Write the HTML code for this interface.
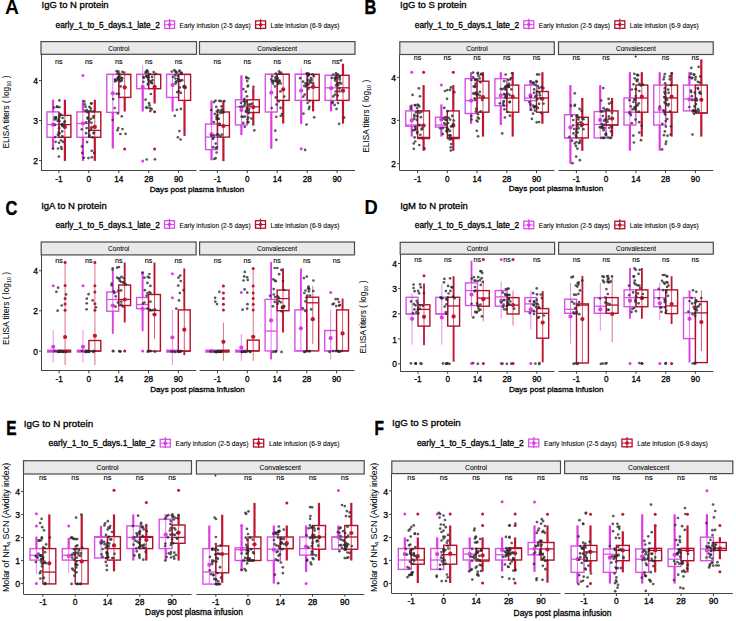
<!DOCTYPE html>
<html><head><meta charset="utf-8"><style>
html,body{margin:0;padding:0;background:#fff;}
svg{display:block;font-family:"Liberation Sans",sans-serif;}
</style></head><body>
<svg width="736" height="621" viewBox="0 0 736 621">
<rect width="736" height="621" fill="#fff"/>
<text transform="translate(5.00,14.30) scale(1.0,1)" font-size="19.3" font-weight="bold" fill="#000" stroke="#000" stroke-width="0.00">A</text>
<text x="41.6" y="8.4" font-size="9.50" text-anchor="start" font-weight="normal" fill="#000" stroke="#000" stroke-width="0.30" >IgG to N protein</text>
<text x="55.6" y="27.7" font-size="8.30" text-anchor="start" font-weight="normal" fill="#000" stroke="#000" stroke-width="0.30" >early_1_to_5_days.1_late_2</text>
<rect x="164.6" y="20.9" width="10.0" height="7.5" fill="none" stroke="#d652e6" stroke-width="1.3"/>
<line x1="164.6" y1="24.7" x2="174.6" y2="24.7" stroke="#d652e6" stroke-width="1" stroke-opacity="1"/>
<line x1="169.6" y1="18.9" x2="169.6" y2="29.5" stroke="#dc3ce4" stroke-width="1.2" stroke-opacity="1"/>
<circle cx="169.6" cy="24.7" r="1.8" fill="#dc3ce4" fill-opacity="1"/>
<text x="179.6" y="27.7" font-size="6.60" text-anchor="start" font-weight="normal" fill="#000" stroke="#000" stroke-width="0.08" >Early infusion (2-5 days)</text>
<rect x="255.6" y="20.9" width="10.0" height="7.5" fill="none" stroke="#b0102c" stroke-width="1.3"/>
<line x1="255.6" y1="24.7" x2="265.6" y2="24.7" stroke="#b0102c" stroke-width="1" stroke-opacity="1"/>
<line x1="260.6" y1="18.9" x2="260.6" y2="29.5" stroke="#c01430" stroke-width="1.2" stroke-opacity="1"/>
<circle cx="260.6" cy="24.7" r="1.8" fill="#c01430" fill-opacity="1"/>
<text x="270.6" y="27.7" font-size="6.60" text-anchor="start" font-weight="normal" fill="#000" stroke="#000" stroke-width="0.08" >Late infusion (6-9 days)</text>
<rect x="41.0" y="41.6" width="155.5" height="12.7" fill="#e9e9e9" stroke="#4a4a4a" stroke-width="1.2"/>
<text x="118.8" y="50.6" font-size="6.60" text-anchor="middle" font-weight="normal" fill="#000" stroke="#000" stroke-width="0.06" >Control</text>
<line x1="41.0" y1="170.5" x2="196.5" y2="170.5" stroke="#444" stroke-width="1.0" stroke-opacity="1"/>
<rect x="199.5" y="41.6" width="155.5" height="12.7" fill="#e9e9e9" stroke="#4a4a4a" stroke-width="1.2"/>
<text x="277.2" y="50.6" font-size="6.60" text-anchor="middle" font-weight="normal" fill="#000" stroke="#000" stroke-width="0.06" >Convalescent</text>
<line x1="199.5" y1="170.5" x2="355.0" y2="170.5" stroke="#444" stroke-width="1.0" stroke-opacity="1"/>
<line x1="41.5" y1="54.3" x2="41.5" y2="170.5" stroke="#444" stroke-width="1.0" stroke-opacity="1"/>
<line x1="39.0" y1="80.6" x2="41.5" y2="80.6" stroke="#444" stroke-width="1.0" stroke-opacity="1"/>
<text x="38.0" y="84.2" font-size="8.40" text-anchor="end" font-weight="normal" fill="#000" stroke="#000" stroke-width="0.30" >4</text>
<line x1="39.0" y1="120.5" x2="41.5" y2="120.5" stroke="#444" stroke-width="1.0" stroke-opacity="1"/>
<text x="38.0" y="124.1" font-size="8.40" text-anchor="end" font-weight="normal" fill="#000" stroke="#000" stroke-width="0.30" >3</text>
<line x1="39.0" y1="160.5" x2="41.5" y2="160.5" stroke="#444" stroke-width="1.0" stroke-opacity="1"/>
<text x="38.0" y="164.1" font-size="8.40" text-anchor="end" font-weight="normal" fill="#000" stroke="#000" stroke-width="0.30" >2</text>
<text transform="translate(8.6,112.1) rotate(-90)" font-size="8.30" text-anchor="middle" fill="#000" stroke="#000" stroke-width="0.05">ELISA titers ( log<tspan font-size="5.5" dy="2">10</tspan><tspan dy="-2"> )</tspan></text>
<text x="197.0" y="191.5" font-size="8.10" text-anchor="middle" font-weight="normal" fill="#000" stroke="#000" stroke-width="0.30" >Days post plasma infusion</text>
<line x1="58.9" y1="170.5" x2="58.9" y2="173.0" stroke="#3a3a3a" stroke-width="1.0" stroke-opacity="1"/>
<text x="58.9" y="181.6" font-size="8.20" text-anchor="middle" font-weight="normal" fill="#000" stroke="#000" stroke-width="0.30" >-1</text>
<text x="58.9" y="63.5" font-size="7.20" text-anchor="middle" font-weight="normal" fill="#000" stroke="#000" stroke-width="0.12" >ns</text>
<line x1="88.8" y1="170.5" x2="88.8" y2="173.0" stroke="#3a3a3a" stroke-width="1.0" stroke-opacity="1"/>
<text x="88.8" y="181.6" font-size="8.20" text-anchor="middle" font-weight="normal" fill="#000" stroke="#000" stroke-width="0.30" >0</text>
<text x="88.8" y="63.5" font-size="7.20" text-anchor="middle" font-weight="normal" fill="#000" stroke="#000" stroke-width="0.12" >ns</text>
<line x1="118.8" y1="170.5" x2="118.8" y2="173.0" stroke="#3a3a3a" stroke-width="1.0" stroke-opacity="1"/>
<text x="118.8" y="181.6" font-size="8.20" text-anchor="middle" font-weight="normal" fill="#000" stroke="#000" stroke-width="0.30" >14</text>
<text x="118.8" y="63.5" font-size="7.20" text-anchor="middle" font-weight="normal" fill="#000" stroke="#000" stroke-width="0.12" >ns</text>
<line x1="148.7" y1="170.5" x2="148.7" y2="173.0" stroke="#3a3a3a" stroke-width="1.0" stroke-opacity="1"/>
<text x="148.7" y="181.6" font-size="8.20" text-anchor="middle" font-weight="normal" fill="#000" stroke="#000" stroke-width="0.30" >28</text>
<text x="148.7" y="63.5" font-size="7.20" text-anchor="middle" font-weight="normal" fill="#000" stroke="#000" stroke-width="0.12" >ns</text>
<line x1="178.6" y1="170.5" x2="178.6" y2="173.0" stroke="#3a3a3a" stroke-width="1.0" stroke-opacity="1"/>
<text x="178.6" y="181.6" font-size="8.20" text-anchor="middle" font-weight="normal" fill="#000" stroke="#000" stroke-width="0.30" >90</text>
<text x="178.6" y="63.5" font-size="7.20" text-anchor="middle" font-weight="normal" fill="#000" stroke="#000" stroke-width="0.12" >ns</text>
<line x1="217.4" y1="170.5" x2="217.4" y2="173.0" stroke="#3a3a3a" stroke-width="1.0" stroke-opacity="1"/>
<text x="217.4" y="181.6" font-size="8.20" text-anchor="middle" font-weight="normal" fill="#000" stroke="#000" stroke-width="0.30" >-1</text>
<text x="217.4" y="63.5" font-size="7.20" text-anchor="middle" font-weight="normal" fill="#000" stroke="#000" stroke-width="0.12" >ns</text>
<line x1="247.3" y1="170.5" x2="247.3" y2="173.0" stroke="#3a3a3a" stroke-width="1.0" stroke-opacity="1"/>
<text x="247.3" y="181.6" font-size="8.20" text-anchor="middle" font-weight="normal" fill="#000" stroke="#000" stroke-width="0.30" >0</text>
<text x="247.3" y="63.5" font-size="7.20" text-anchor="middle" font-weight="normal" fill="#000" stroke="#000" stroke-width="0.12" >ns</text>
<line x1="277.2" y1="170.5" x2="277.2" y2="173.0" stroke="#3a3a3a" stroke-width="1.0" stroke-opacity="1"/>
<text x="277.2" y="181.6" font-size="8.20" text-anchor="middle" font-weight="normal" fill="#000" stroke="#000" stroke-width="0.30" >14</text>
<text x="277.2" y="63.5" font-size="7.20" text-anchor="middle" font-weight="normal" fill="#000" stroke="#000" stroke-width="0.12" >ns</text>
<line x1="307.2" y1="170.5" x2="307.2" y2="173.0" stroke="#3a3a3a" stroke-width="1.0" stroke-opacity="1"/>
<text x="307.2" y="181.6" font-size="8.20" text-anchor="middle" font-weight="normal" fill="#000" stroke="#000" stroke-width="0.30" >28</text>
<text x="307.2" y="63.5" font-size="7.20" text-anchor="middle" font-weight="normal" fill="#000" stroke="#000" stroke-width="0.12" >ns</text>
<line x1="337.1" y1="170.5" x2="337.1" y2="173.0" stroke="#3a3a3a" stroke-width="1.0" stroke-opacity="1"/>
<text x="337.1" y="181.6" font-size="8.20" text-anchor="middle" font-weight="normal" fill="#000" stroke="#000" stroke-width="0.30" >90</text>
<text x="337.1" y="63.5" font-size="7.20" text-anchor="middle" font-weight="normal" fill="#000" stroke="#000" stroke-width="0.12" >ns*</text>
<rect x="47.0" y="111.9" width="12.0" height="25.4" fill="none" stroke="#d652e6" stroke-width="1.4"/>
<line x1="47.0" y1="124.6" x2="58.9" y2="124.6" stroke="#d652e6" stroke-width="1.3" stroke-opacity="1"/>
<line x1="53.0" y1="99.7" x2="53.0" y2="111.9" stroke="#dc3ce4" stroke-width="2.2" stroke-opacity="1"/>
<line x1="53.0" y1="137.3" x2="53.0" y2="148.9" stroke="#dc3ce4" stroke-width="2.2" stroke-opacity="1"/>
<line x1="53.0" y1="111.9" x2="53.0" y2="137.3" stroke="#dc3ce4" stroke-width="1.0" stroke-opacity="0.7"/>
<circle cx="53.0" cy="124.6" r="2.1" fill="#dc3ce4" fill-opacity="1"/>
<rect x="58.9" y="115.4" width="12.0" height="21.9" fill="none" stroke="#b0102c" stroke-width="1.4"/>
<line x1="58.9" y1="124.6" x2="70.9" y2="124.6" stroke="#b0102c" stroke-width="1.3" stroke-opacity="1"/>
<line x1="64.9" y1="99.7" x2="64.9" y2="115.4" stroke="#c01430" stroke-width="2.2" stroke-opacity="1"/>
<line x1="64.9" y1="137.3" x2="64.9" y2="160.9" stroke="#c01430" stroke-width="2.2" stroke-opacity="1"/>
<line x1="64.9" y1="115.4" x2="64.9" y2="137.3" stroke="#c01430" stroke-width="1.0" stroke-opacity="0.7"/>
<circle cx="64.9" cy="126.9" r="2.1" fill="#c01430" fill-opacity="1"/>
<rect x="76.9" y="111.9" width="12.0" height="25.4" fill="none" stroke="#d652e6" stroke-width="1.4"/>
<line x1="76.9" y1="123.5" x2="88.8" y2="123.5" stroke="#d652e6" stroke-width="1.3" stroke-opacity="1"/>
<line x1="82.9" y1="99.7" x2="82.9" y2="111.9" stroke="#dc3ce4" stroke-width="2.2" stroke-opacity="1"/>
<line x1="82.9" y1="137.3" x2="82.9" y2="160.9" stroke="#dc3ce4" stroke-width="2.2" stroke-opacity="1"/>
<line x1="82.9" y1="111.9" x2="82.9" y2="137.3" stroke="#dc3ce4" stroke-width="1.0" stroke-opacity="0.7"/>
<circle cx="82.9" cy="123.5" r="2.1" fill="#dc3ce4" fill-opacity="1"/>
<circle cx="82.9" cy="75.5" r="1.5" fill="#dc3ce4" fill-opacity="1"/>
<rect x="88.8" y="111.9" width="12.0" height="25.4" fill="none" stroke="#b0102c" stroke-width="1.4"/>
<line x1="88.8" y1="130.4" x2="100.8" y2="130.4" stroke="#b0102c" stroke-width="1.3" stroke-opacity="1"/>
<line x1="94.8" y1="99.7" x2="94.8" y2="111.9" stroke="#c01430" stroke-width="2.2" stroke-opacity="1"/>
<line x1="94.8" y1="137.3" x2="94.8" y2="160.9" stroke="#c01430" stroke-width="2.2" stroke-opacity="1"/>
<line x1="94.8" y1="111.9" x2="94.8" y2="137.3" stroke="#c01430" stroke-width="1.0" stroke-opacity="0.7"/>
<circle cx="94.8" cy="126.9" r="2.1" fill="#c01430" fill-opacity="1"/>
<rect x="106.8" y="74.4" width="12.0" height="38.0" fill="none" stroke="#d652e6" stroke-width="1.4"/>
<line x1="106.8" y1="74.4" x2="118.8" y2="74.4" stroke="#d652e6" stroke-width="1.3" stroke-opacity="1"/>
<line x1="112.8" y1="112.4" x2="112.8" y2="148.5" stroke="#dc3ce4" stroke-width="2.2" stroke-opacity="1"/>
<line x1="112.8" y1="74.4" x2="112.8" y2="112.4" stroke="#dc3ce4" stroke-width="1.0" stroke-opacity="0.7"/>
<circle cx="112.8" cy="93.3" r="2.1" fill="#dc3ce4" fill-opacity="1"/>
<rect x="118.8" y="74.4" width="12.0" height="23.0" fill="none" stroke="#b0102c" stroke-width="1.4"/>
<line x1="118.8" y1="74.4" x2="130.7" y2="74.4" stroke="#b0102c" stroke-width="1.3" stroke-opacity="1"/>
<line x1="124.7" y1="97.4" x2="124.7" y2="111.5" stroke="#c01430" stroke-width="2.2" stroke-opacity="1"/>
<line x1="124.7" y1="74.4" x2="124.7" y2="97.4" stroke="#c01430" stroke-width="1.0" stroke-opacity="0.7"/>
<circle cx="124.7" cy="87.4" r="2.1" fill="#c01430" fill-opacity="1"/>
<circle cx="124.7" cy="148.9" r="1.5" fill="#c01430" fill-opacity="1"/>
<rect x="136.7" y="74.4" width="12.0" height="14.3" fill="none" stroke="#d652e6" stroke-width="1.4"/>
<line x1="136.7" y1="74.4" x2="148.7" y2="74.4" stroke="#d652e6" stroke-width="1.3" stroke-opacity="1"/>
<line x1="142.7" y1="65.5" x2="142.7" y2="74.4" stroke="#dc3ce4" stroke-width="1.0" stroke-opacity="0.6"/>
<line x1="142.7" y1="88.7" x2="142.7" y2="111.5" stroke="#dc3ce4" stroke-width="2.2" stroke-opacity="1"/>
<line x1="142.7" y1="74.4" x2="142.7" y2="88.7" stroke="#dc3ce4" stroke-width="1.0" stroke-opacity="0.7"/>
<circle cx="142.7" cy="86.9" r="2.1" fill="#dc3ce4" fill-opacity="1"/>
<circle cx="142.7" cy="161.0" r="1.5" fill="#dc3ce4" fill-opacity="1"/>
<rect x="148.7" y="74.4" width="12.0" height="14.3" fill="none" stroke="#b0102c" stroke-width="1.4"/>
<line x1="148.7" y1="74.4" x2="160.6" y2="74.4" stroke="#b0102c" stroke-width="1.3" stroke-opacity="1"/>
<line x1="154.6" y1="88.7" x2="154.6" y2="103.5" stroke="#c01430" stroke-width="2.2" stroke-opacity="1"/>
<line x1="154.6" y1="74.4" x2="154.6" y2="88.7" stroke="#c01430" stroke-width="1.0" stroke-opacity="0.7"/>
<circle cx="154.6" cy="86.9" r="2.1" fill="#c01430" fill-opacity="1"/>
<circle cx="154.6" cy="111.8" r="1.5" fill="#c01430" fill-opacity="1"/>
<circle cx="154.6" cy="148.9" r="1.5" fill="#c01430" fill-opacity="1"/>
<rect x="166.6" y="74.4" width="12.0" height="23.0" fill="none" stroke="#d652e6" stroke-width="1.4"/>
<line x1="166.6" y1="74.4" x2="178.6" y2="74.4" stroke="#d652e6" stroke-width="1.3" stroke-opacity="1"/>
<line x1="172.6" y1="97.4" x2="172.6" y2="111.5" stroke="#dc3ce4" stroke-width="2.2" stroke-opacity="1"/>
<line x1="172.6" y1="74.4" x2="172.6" y2="97.4" stroke="#dc3ce4" stroke-width="1.0" stroke-opacity="0.7"/>
<circle cx="172.6" cy="85.0" r="2.1" fill="#dc3ce4" fill-opacity="1"/>
<rect x="178.6" y="74.4" width="12.0" height="26.0" fill="none" stroke="#b0102c" stroke-width="1.4"/>
<line x1="178.6" y1="74.4" x2="190.5" y2="74.4" stroke="#b0102c" stroke-width="1.3" stroke-opacity="1"/>
<line x1="184.5" y1="100.4" x2="184.5" y2="135.9" stroke="#c01430" stroke-width="2.2" stroke-opacity="1"/>
<line x1="184.5" y1="74.4" x2="184.5" y2="100.4" stroke="#c01430" stroke-width="1.0" stroke-opacity="0.7"/>
<circle cx="184.5" cy="86.9" r="2.1" fill="#c01430" fill-opacity="1"/>
<rect x="205.5" y="124.1" width="12.0" height="25.5" fill="none" stroke="#d652e6" stroke-width="1.4"/>
<line x1="205.5" y1="137.1" x2="217.4" y2="137.1" stroke="#d652e6" stroke-width="1.3" stroke-opacity="1"/>
<line x1="211.5" y1="100.4" x2="211.5" y2="124.1" stroke="#dc3ce4" stroke-width="2.2" stroke-opacity="1"/>
<line x1="211.5" y1="149.6" x2="211.5" y2="160.3" stroke="#dc3ce4" stroke-width="2.2" stroke-opacity="1"/>
<line x1="211.5" y1="124.1" x2="211.5" y2="149.6" stroke="#dc3ce4" stroke-width="1.0" stroke-opacity="0.7"/>
<circle cx="211.5" cy="134.2" r="2.1" fill="#dc3ce4" fill-opacity="1"/>
<rect x="217.4" y="112.0" width="12.0" height="25.1" fill="none" stroke="#b0102c" stroke-width="1.4"/>
<line x1="217.4" y1="125.5" x2="229.4" y2="125.5" stroke="#b0102c" stroke-width="1.3" stroke-opacity="1"/>
<line x1="223.4" y1="100.4" x2="223.4" y2="112.0" stroke="#c01430" stroke-width="2.2" stroke-opacity="1"/>
<line x1="223.4" y1="137.1" x2="223.4" y2="161.2" stroke="#c01430" stroke-width="2.2" stroke-opacity="1"/>
<line x1="223.4" y1="112.0" x2="223.4" y2="137.1" stroke="#c01430" stroke-width="1.0" stroke-opacity="0.7"/>
<circle cx="223.4" cy="126.0" r="2.1" fill="#c01430" fill-opacity="1"/>
<rect x="235.4" y="99.8" width="12.0" height="25.1" fill="none" stroke="#d652e6" stroke-width="1.4"/>
<line x1="235.4" y1="106.8" x2="247.3" y2="106.8" stroke="#d652e6" stroke-width="1.3" stroke-opacity="1"/>
<line x1="241.4" y1="75.3" x2="241.4" y2="99.8" stroke="#dc3ce4" stroke-width="2.2" stroke-opacity="1"/>
<line x1="241.4" y1="124.9" x2="241.4" y2="135.1" stroke="#dc3ce4" stroke-width="2.2" stroke-opacity="1"/>
<line x1="241.4" y1="99.8" x2="241.4" y2="124.9" stroke="#dc3ce4" stroke-width="1.0" stroke-opacity="0.7"/>
<circle cx="241.4" cy="110.0" r="2.1" fill="#dc3ce4" fill-opacity="1"/>
<rect x="247.3" y="99.8" width="12.0" height="12.7" fill="none" stroke="#b0102c" stroke-width="1.4"/>
<line x1="247.3" y1="106.8" x2="259.3" y2="106.8" stroke="#b0102c" stroke-width="1.3" stroke-opacity="1"/>
<line x1="253.3" y1="88.2" x2="253.3" y2="99.8" stroke="#c01430" stroke-width="2.2" stroke-opacity="1"/>
<line x1="253.3" y1="112.5" x2="253.3" y2="123.6" stroke="#c01430" stroke-width="2.2" stroke-opacity="1"/>
<line x1="253.3" y1="99.8" x2="253.3" y2="112.5" stroke="#c01430" stroke-width="1.0" stroke-opacity="0.7"/>
<circle cx="253.3" cy="107.1" r="2.1" fill="#c01430" fill-opacity="1"/>
<rect x="265.3" y="74.3" width="12.0" height="37.7" fill="none" stroke="#d652e6" stroke-width="1.4"/>
<line x1="265.3" y1="74.3" x2="277.2" y2="74.3" stroke="#d652e6" stroke-width="1.3" stroke-opacity="1"/>
<line x1="271.3" y1="112.0" x2="271.3" y2="148.7" stroke="#dc3ce4" stroke-width="2.2" stroke-opacity="1"/>
<line x1="271.3" y1="74.3" x2="271.3" y2="112.0" stroke="#dc3ce4" stroke-width="1.0" stroke-opacity="0.7"/>
<circle cx="271.3" cy="92.7" r="2.1" fill="#dc3ce4" fill-opacity="1"/>
<rect x="277.2" y="74.3" width="12.0" height="26.1" fill="none" stroke="#b0102c" stroke-width="1.4"/>
<line x1="277.2" y1="74.3" x2="289.2" y2="74.3" stroke="#b0102c" stroke-width="1.3" stroke-opacity="1"/>
<line x1="283.2" y1="100.4" x2="283.2" y2="123.6" stroke="#c01430" stroke-width="2.2" stroke-opacity="1"/>
<line x1="283.2" y1="74.3" x2="283.2" y2="100.4" stroke="#c01430" stroke-width="1.0" stroke-opacity="0.7"/>
<circle cx="283.2" cy="89.4" r="2.1" fill="#c01430" fill-opacity="1"/>
<rect x="295.2" y="74.3" width="12.0" height="26.1" fill="none" stroke="#d652e6" stroke-width="1.4"/>
<line x1="295.2" y1="74.3" x2="307.2" y2="74.3" stroke="#d652e6" stroke-width="1.3" stroke-opacity="1"/>
<line x1="301.2" y1="67.5" x2="301.2" y2="74.3" stroke="#dc3ce4" stroke-width="1.0" stroke-opacity="0.6"/>
<line x1="301.2" y1="100.4" x2="301.2" y2="124.1" stroke="#dc3ce4" stroke-width="2.2" stroke-opacity="1"/>
<line x1="301.2" y1="74.3" x2="301.2" y2="100.4" stroke="#dc3ce4" stroke-width="1.0" stroke-opacity="0.7"/>
<circle cx="301.2" cy="90.7" r="2.1" fill="#dc3ce4" fill-opacity="1"/>
<circle cx="301.2" cy="148.7" r="1.5" fill="#dc3ce4" fill-opacity="1"/>
<rect x="307.2" y="74.3" width="12.0" height="26.1" fill="none" stroke="#b0102c" stroke-width="1.4"/>
<line x1="307.2" y1="87.4" x2="319.1" y2="87.4" stroke="#b0102c" stroke-width="1.3" stroke-opacity="1"/>
<line x1="313.1" y1="100.4" x2="313.1" y2="111.4" stroke="#c01430" stroke-width="2.2" stroke-opacity="1"/>
<line x1="313.1" y1="74.3" x2="313.1" y2="100.4" stroke="#c01430" stroke-width="1.0" stroke-opacity="0.7"/>
<circle cx="313.1" cy="86.9" r="2.1" fill="#c01430" fill-opacity="1"/>
<rect x="325.1" y="75.3" width="12.0" height="25.1" fill="none" stroke="#d652e6" stroke-width="1.4"/>
<line x1="325.1" y1="87.8" x2="337.1" y2="87.8" stroke="#d652e6" stroke-width="1.3" stroke-opacity="1"/>
<line x1="331.1" y1="100.4" x2="331.1" y2="111.4" stroke="#dc3ce4" stroke-width="2.2" stroke-opacity="1"/>
<line x1="331.1" y1="75.3" x2="331.1" y2="100.4" stroke="#dc3ce4" stroke-width="1.0" stroke-opacity="0.7"/>
<circle cx="331.1" cy="88.2" r="2.1" fill="#dc3ce4" fill-opacity="1"/>
<rect x="337.1" y="75.3" width="12.0" height="25.1" fill="none" stroke="#b0102c" stroke-width="1.4"/>
<line x1="337.1" y1="87.8" x2="349.0" y2="87.8" stroke="#b0102c" stroke-width="1.3" stroke-opacity="1"/>
<line x1="343.0" y1="63.7" x2="343.0" y2="75.3" stroke="#c01430" stroke-width="2.2" stroke-opacity="1"/>
<line x1="343.0" y1="100.4" x2="343.0" y2="123.6" stroke="#c01430" stroke-width="2.2" stroke-opacity="1"/>
<line x1="343.0" y1="75.3" x2="343.0" y2="100.4" stroke="#c01430" stroke-width="1.0" stroke-opacity="0.7"/>
<circle cx="343.0" cy="90.7" r="2.1" fill="#c01430" fill-opacity="1"/>
<circle cx="62.2" cy="126.1" r="1.35" fill="#2a2a2a" fill-opacity="0.78"/>
<circle cx="57.2" cy="106.9" r="1.35" fill="#2a2a2a" fill-opacity="0.78"/>
<circle cx="54.9" cy="124.9" r="1.35" fill="#2a2a2a" fill-opacity="0.78"/>
<circle cx="54.7" cy="119.6" r="1.35" fill="#2a2a2a" fill-opacity="0.78"/>
<circle cx="58.6" cy="132.5" r="1.35" fill="#2a2a2a" fill-opacity="0.78"/>
<circle cx="58.0" cy="148.5" r="1.35" fill="#2a2a2a" fill-opacity="0.78"/>
<circle cx="59.3" cy="107.2" r="1.35" fill="#2a2a2a" fill-opacity="0.78"/>
<circle cx="59.4" cy="100.4" r="1.35" fill="#2a2a2a" fill-opacity="0.78"/>
<circle cx="62.6" cy="118.0" r="1.35" fill="#2a2a2a" fill-opacity="0.78"/>
<circle cx="59.6" cy="133.3" r="1.35" fill="#2a2a2a" fill-opacity="0.78"/>
<circle cx="54.1" cy="107.5" r="1.35" fill="#2a2a2a" fill-opacity="0.78"/>
<circle cx="58.9" cy="119.0" r="1.35" fill="#2a2a2a" fill-opacity="0.78"/>
<circle cx="61.7" cy="148.9" r="1.35" fill="#2a2a2a" fill-opacity="0.78"/>
<circle cx="54.6" cy="117.7" r="1.35" fill="#2a2a2a" fill-opacity="0.78"/>
<circle cx="59.3" cy="113.7" r="1.35" fill="#2a2a2a" fill-opacity="0.78"/>
<circle cx="55.6" cy="141.8" r="1.35" fill="#2a2a2a" fill-opacity="0.78"/>
<circle cx="61.2" cy="147.1" r="1.35" fill="#2a2a2a" fill-opacity="0.78"/>
<circle cx="59.0" cy="142.8" r="1.35" fill="#2a2a2a" fill-opacity="0.78"/>
<circle cx="63.1" cy="141.9" r="1.35" fill="#2a2a2a" fill-opacity="0.78"/>
<circle cx="61.0" cy="140.4" r="1.35" fill="#2a2a2a" fill-opacity="0.78"/>
<circle cx="64.4" cy="122.7" r="1.35" fill="#2a2a2a" fill-opacity="0.78"/>
<circle cx="57.7" cy="120.8" r="1.35" fill="#2a2a2a" fill-opacity="0.78"/>
<circle cx="59.5" cy="116.7" r="1.35" fill="#2a2a2a" fill-opacity="0.78"/>
<circle cx="57.0" cy="106.7" r="1.35" fill="#2a2a2a" fill-opacity="0.78"/>
<circle cx="62.2" cy="131.4" r="1.35" fill="#2a2a2a" fill-opacity="0.78"/>
<circle cx="62.4" cy="124.6" r="1.35" fill="#2a2a2a" fill-opacity="0.78"/>
<circle cx="64.8" cy="121.3" r="1.35" fill="#2a2a2a" fill-opacity="0.78"/>
<circle cx="57.9" cy="134.8" r="1.35" fill="#2a2a2a" fill-opacity="0.78"/>
<circle cx="61.8" cy="124.0" r="1.35" fill="#2a2a2a" fill-opacity="0.78"/>
<circle cx="55.2" cy="137.1" r="1.35" fill="#2a2a2a" fill-opacity="0.78"/>
<circle cx="59.4" cy="121.1" r="1.35" fill="#2a2a2a" fill-opacity="0.78"/>
<circle cx="56.0" cy="117.0" r="1.35" fill="#2a2a2a" fill-opacity="0.78"/>
<circle cx="59.1" cy="128.2" r="1.35" fill="#2a2a2a" fill-opacity="0.78"/>
<circle cx="63.4" cy="125.3" r="1.35" fill="#2a2a2a" fill-opacity="0.78"/>
<circle cx="53.0" cy="148.7" r="1.35" fill="#2a2a2a" fill-opacity="0.78"/>
<circle cx="56.0" cy="118.8" r="1.35" fill="#2a2a2a" fill-opacity="0.78"/>
<circle cx="58.9" cy="156.6" r="1.35" fill="#2a2a2a" fill-opacity="0.78"/>
<circle cx="61.1" cy="114.5" r="1.35" fill="#2a2a2a" fill-opacity="0.78"/>
<circle cx="62.3" cy="136.2" r="1.35" fill="#2a2a2a" fill-opacity="0.78"/>
<circle cx="55.9" cy="117.7" r="1.35" fill="#2a2a2a" fill-opacity="0.78"/>
<circle cx="89.2" cy="136.4" r="1.35" fill="#2a2a2a" fill-opacity="0.78"/>
<circle cx="94.0" cy="132.8" r="1.35" fill="#2a2a2a" fill-opacity="0.78"/>
<circle cx="91.2" cy="103.3" r="1.35" fill="#2a2a2a" fill-opacity="0.78"/>
<circle cx="93.5" cy="117.7" r="1.35" fill="#2a2a2a" fill-opacity="0.78"/>
<circle cx="86.8" cy="110.1" r="1.35" fill="#2a2a2a" fill-opacity="0.78"/>
<circle cx="87.1" cy="142.1" r="1.35" fill="#2a2a2a" fill-opacity="0.78"/>
<circle cx="87.7" cy="118.7" r="1.35" fill="#2a2a2a" fill-opacity="0.78"/>
<circle cx="89.2" cy="121.3" r="1.35" fill="#2a2a2a" fill-opacity="0.78"/>
<circle cx="84.3" cy="101.3" r="1.35" fill="#2a2a2a" fill-opacity="0.78"/>
<circle cx="94.1" cy="152.8" r="1.35" fill="#2a2a2a" fill-opacity="0.78"/>
<circle cx="89.4" cy="106.8" r="1.35" fill="#2a2a2a" fill-opacity="0.78"/>
<circle cx="89.5" cy="135.0" r="1.35" fill="#2a2a2a" fill-opacity="0.78"/>
<circle cx="93.5" cy="111.4" r="1.35" fill="#2a2a2a" fill-opacity="0.78"/>
<circle cx="89.5" cy="130.5" r="1.35" fill="#2a2a2a" fill-opacity="0.78"/>
<circle cx="92.5" cy="137.3" r="1.35" fill="#2a2a2a" fill-opacity="0.78"/>
<circle cx="90.7" cy="110.7" r="1.35" fill="#2a2a2a" fill-opacity="0.78"/>
<circle cx="90.8" cy="108.3" r="1.35" fill="#2a2a2a" fill-opacity="0.78"/>
<circle cx="81.8" cy="129.3" r="1.35" fill="#2a2a2a" fill-opacity="0.78"/>
<circle cx="83.8" cy="157.9" r="1.35" fill="#2a2a2a" fill-opacity="0.78"/>
<circle cx="91.7" cy="150.8" r="1.35" fill="#2a2a2a" fill-opacity="0.78"/>
<circle cx="84.9" cy="104.4" r="1.35" fill="#2a2a2a" fill-opacity="0.78"/>
<circle cx="86.6" cy="128.1" r="1.35" fill="#2a2a2a" fill-opacity="0.78"/>
<circle cx="88.4" cy="158.1" r="1.35" fill="#2a2a2a" fill-opacity="0.78"/>
<circle cx="85.6" cy="106.8" r="1.35" fill="#2a2a2a" fill-opacity="0.78"/>
<circle cx="93.6" cy="133.2" r="1.35" fill="#2a2a2a" fill-opacity="0.78"/>
<circle cx="91.6" cy="127.2" r="1.35" fill="#2a2a2a" fill-opacity="0.78"/>
<circle cx="87.6" cy="117.7" r="1.35" fill="#2a2a2a" fill-opacity="0.78"/>
<circle cx="85.2" cy="110.9" r="1.35" fill="#2a2a2a" fill-opacity="0.78"/>
<circle cx="87.3" cy="112.2" r="1.35" fill="#2a2a2a" fill-opacity="0.78"/>
<circle cx="93.6" cy="116.2" r="1.35" fill="#2a2a2a" fill-opacity="0.78"/>
<circle cx="82.3" cy="152.9" r="1.35" fill="#2a2a2a" fill-opacity="0.78"/>
<circle cx="91.3" cy="128.8" r="1.35" fill="#2a2a2a" fill-opacity="0.78"/>
<circle cx="91.4" cy="122.8" r="1.35" fill="#2a2a2a" fill-opacity="0.78"/>
<circle cx="82.0" cy="146.4" r="1.35" fill="#2a2a2a" fill-opacity="0.78"/>
<circle cx="91.4" cy="103.6" r="1.35" fill="#2a2a2a" fill-opacity="0.78"/>
<circle cx="91.8" cy="157.3" r="1.35" fill="#2a2a2a" fill-opacity="0.78"/>
<circle cx="88.5" cy="111.3" r="1.35" fill="#2a2a2a" fill-opacity="0.78"/>
<circle cx="90.8" cy="118.9" r="1.35" fill="#2a2a2a" fill-opacity="0.78"/>
<circle cx="86.1" cy="122.4" r="1.35" fill="#2a2a2a" fill-opacity="0.78"/>
<circle cx="86.1" cy="133.2" r="1.35" fill="#2a2a2a" fill-opacity="0.78"/>
<circle cx="122.3" cy="71.8" r="1.35" fill="#2a2a2a" fill-opacity="0.78"/>
<circle cx="118.3" cy="71.3" r="1.35" fill="#2a2a2a" fill-opacity="0.78"/>
<circle cx="119.4" cy="78.8" r="1.35" fill="#2a2a2a" fill-opacity="0.78"/>
<circle cx="118.1" cy="77.3" r="1.35" fill="#2a2a2a" fill-opacity="0.78"/>
<circle cx="116.6" cy="71.2" r="1.35" fill="#2a2a2a" fill-opacity="0.78"/>
<circle cx="124.2" cy="72.5" r="1.35" fill="#2a2a2a" fill-opacity="0.78"/>
<circle cx="118.0" cy="80.1" r="1.35" fill="#2a2a2a" fill-opacity="0.78"/>
<circle cx="119.0" cy="73.6" r="1.35" fill="#2a2a2a" fill-opacity="0.78"/>
<circle cx="119.4" cy="77.9" r="1.35" fill="#2a2a2a" fill-opacity="0.78"/>
<circle cx="119.5" cy="75.9" r="1.35" fill="#2a2a2a" fill-opacity="0.78"/>
<circle cx="115.5" cy="79.9" r="1.35" fill="#2a2a2a" fill-opacity="0.78"/>
<circle cx="115.2" cy="81.5" r="1.35" fill="#2a2a2a" fill-opacity="0.78"/>
<circle cx="117.9" cy="113.4" r="1.35" fill="#2a2a2a" fill-opacity="0.78"/>
<circle cx="116.7" cy="93.8" r="1.35" fill="#2a2a2a" fill-opacity="0.78"/>
<circle cx="122.5" cy="129.1" r="1.35" fill="#2a2a2a" fill-opacity="0.78"/>
<circle cx="119.0" cy="93.8" r="1.35" fill="#2a2a2a" fill-opacity="0.78"/>
<circle cx="118.3" cy="128.0" r="1.35" fill="#2a2a2a" fill-opacity="0.78"/>
<circle cx="121.8" cy="116.3" r="1.35" fill="#2a2a2a" fill-opacity="0.78"/>
<circle cx="114.6" cy="108.0" r="1.35" fill="#2a2a2a" fill-opacity="0.78"/>
<circle cx="115.1" cy="79.7" r="1.35" fill="#2a2a2a" fill-opacity="0.78"/>
<circle cx="119.9" cy="81.3" r="1.35" fill="#2a2a2a" fill-opacity="0.78"/>
<circle cx="118.0" cy="78.9" r="1.35" fill="#2a2a2a" fill-opacity="0.78"/>
<circle cx="121.2" cy="77.9" r="1.35" fill="#2a2a2a" fill-opacity="0.78"/>
<circle cx="121.4" cy="81.0" r="1.35" fill="#2a2a2a" fill-opacity="0.78"/>
<circle cx="115.7" cy="80.7" r="1.35" fill="#2a2a2a" fill-opacity="0.78"/>
<circle cx="121.7" cy="79.8" r="1.35" fill="#2a2a2a" fill-opacity="0.78"/>
<circle cx="122.2" cy="78.2" r="1.35" fill="#2a2a2a" fill-opacity="0.78"/>
<circle cx="117.5" cy="73.3" r="1.35" fill="#2a2a2a" fill-opacity="0.78"/>
<circle cx="117.7" cy="78.1" r="1.35" fill="#2a2a2a" fill-opacity="0.78"/>
<circle cx="112.7" cy="120.0" r="1.35" fill="#2a2a2a" fill-opacity="0.78"/>
<circle cx="120.4" cy="134.0" r="1.35" fill="#2a2a2a" fill-opacity="0.78"/>
<circle cx="125.6" cy="133.8" r="1.35" fill="#2a2a2a" fill-opacity="0.78"/>
<circle cx="113.1" cy="99.0" r="1.35" fill="#2a2a2a" fill-opacity="0.78"/>
<circle cx="117.4" cy="130.2" r="1.35" fill="#2a2a2a" fill-opacity="0.78"/>
<circle cx="120.6" cy="86.4" r="1.35" fill="#2a2a2a" fill-opacity="0.78"/>
<circle cx="146.2" cy="76.2" r="1.35" fill="#2a2a2a" fill-opacity="0.78"/>
<circle cx="143.3" cy="76.8" r="1.35" fill="#2a2a2a" fill-opacity="0.78"/>
<circle cx="146.9" cy="70.4" r="1.35" fill="#2a2a2a" fill-opacity="0.78"/>
<circle cx="149.1" cy="81.2" r="1.35" fill="#2a2a2a" fill-opacity="0.78"/>
<circle cx="147.5" cy="72.4" r="1.35" fill="#2a2a2a" fill-opacity="0.78"/>
<circle cx="145.7" cy="72.0" r="1.35" fill="#2a2a2a" fill-opacity="0.78"/>
<circle cx="153.7" cy="72.1" r="1.35" fill="#2a2a2a" fill-opacity="0.78"/>
<circle cx="143.4" cy="81.8" r="1.35" fill="#2a2a2a" fill-opacity="0.78"/>
<circle cx="148.1" cy="79.7" r="1.35" fill="#2a2a2a" fill-opacity="0.78"/>
<circle cx="152.3" cy="83.3" r="1.35" fill="#2a2a2a" fill-opacity="0.78"/>
<circle cx="147.4" cy="71.2" r="1.35" fill="#2a2a2a" fill-opacity="0.78"/>
<circle cx="149.4" cy="74.1" r="1.35" fill="#2a2a2a" fill-opacity="0.78"/>
<circle cx="152.6" cy="80.2" r="1.35" fill="#2a2a2a" fill-opacity="0.78"/>
<circle cx="146.1" cy="107.6" r="1.35" fill="#2a2a2a" fill-opacity="0.78"/>
<circle cx="145.6" cy="99.7" r="1.35" fill="#2a2a2a" fill-opacity="0.78"/>
<circle cx="147.4" cy="107.7" r="1.35" fill="#2a2a2a" fill-opacity="0.78"/>
<circle cx="151.6" cy="109.2" r="1.35" fill="#2a2a2a" fill-opacity="0.78"/>
<circle cx="150.3" cy="111.1" r="1.35" fill="#2a2a2a" fill-opacity="0.78"/>
<circle cx="154.9" cy="159.3" r="1.35" fill="#2a2a2a" fill-opacity="0.78"/>
<circle cx="146.7" cy="159.5" r="1.35" fill="#2a2a2a" fill-opacity="0.78"/>
<circle cx="147.7" cy="77.0" r="1.35" fill="#2a2a2a" fill-opacity="0.78"/>
<circle cx="148.0" cy="83.6" r="1.35" fill="#2a2a2a" fill-opacity="0.78"/>
<circle cx="148.2" cy="77.2" r="1.35" fill="#2a2a2a" fill-opacity="0.78"/>
<circle cx="143.8" cy="77.9" r="1.35" fill="#2a2a2a" fill-opacity="0.78"/>
<circle cx="152.1" cy="76.9" r="1.35" fill="#2a2a2a" fill-opacity="0.78"/>
<circle cx="148.2" cy="77.5" r="1.35" fill="#2a2a2a" fill-opacity="0.78"/>
<circle cx="147.5" cy="75.8" r="1.35" fill="#2a2a2a" fill-opacity="0.78"/>
<circle cx="155.7" cy="73.8" r="1.35" fill="#2a2a2a" fill-opacity="0.78"/>
<circle cx="146.7" cy="76.6" r="1.35" fill="#2a2a2a" fill-opacity="0.78"/>
<circle cx="151.1" cy="81.4" r="1.35" fill="#2a2a2a" fill-opacity="0.78"/>
<circle cx="151.2" cy="82.6" r="1.35" fill="#2a2a2a" fill-opacity="0.78"/>
<circle cx="145.8" cy="72.7" r="1.35" fill="#2a2a2a" fill-opacity="0.78"/>
<circle cx="149.1" cy="103.2" r="1.35" fill="#2a2a2a" fill-opacity="0.78"/>
<circle cx="150.2" cy="108.2" r="1.35" fill="#2a2a2a" fill-opacity="0.78"/>
<circle cx="147.9" cy="84.7" r="1.35" fill="#2a2a2a" fill-opacity="0.78"/>
<circle cx="149.5" cy="105.3" r="1.35" fill="#2a2a2a" fill-opacity="0.78"/>
<circle cx="150.9" cy="94.0" r="1.35" fill="#2a2a2a" fill-opacity="0.78"/>
<circle cx="175.7" cy="71.5" r="1.35" fill="#2a2a2a" fill-opacity="0.78"/>
<circle cx="182.2" cy="80.2" r="1.35" fill="#2a2a2a" fill-opacity="0.78"/>
<circle cx="181.4" cy="73.5" r="1.35" fill="#2a2a2a" fill-opacity="0.78"/>
<circle cx="181.3" cy="72.8" r="1.35" fill="#2a2a2a" fill-opacity="0.78"/>
<circle cx="175.1" cy="75.3" r="1.35" fill="#2a2a2a" fill-opacity="0.78"/>
<circle cx="177.9" cy="75.8" r="1.35" fill="#2a2a2a" fill-opacity="0.78"/>
<circle cx="176.6" cy="72.9" r="1.35" fill="#2a2a2a" fill-opacity="0.78"/>
<circle cx="178.2" cy="78.8" r="1.35" fill="#2a2a2a" fill-opacity="0.78"/>
<circle cx="175.9" cy="81.9" r="1.35" fill="#2a2a2a" fill-opacity="0.78"/>
<circle cx="175.5" cy="78.6" r="1.35" fill="#2a2a2a" fill-opacity="0.78"/>
<circle cx="180.1" cy="80.4" r="1.35" fill="#2a2a2a" fill-opacity="0.78"/>
<circle cx="176.7" cy="81.3" r="1.35" fill="#2a2a2a" fill-opacity="0.78"/>
<circle cx="180.9" cy="92.8" r="1.35" fill="#2a2a2a" fill-opacity="0.78"/>
<circle cx="176.9" cy="109.8" r="1.35" fill="#2a2a2a" fill-opacity="0.78"/>
<circle cx="180.9" cy="108.9" r="1.35" fill="#2a2a2a" fill-opacity="0.78"/>
<circle cx="185.6" cy="87.8" r="1.35" fill="#2a2a2a" fill-opacity="0.78"/>
<circle cx="178.9" cy="91.3" r="1.35" fill="#2a2a2a" fill-opacity="0.78"/>
<circle cx="183.9" cy="86.7" r="1.35" fill="#2a2a2a" fill-opacity="0.78"/>
<circle cx="180.3" cy="81.1" r="1.35" fill="#2a2a2a" fill-opacity="0.78"/>
<circle cx="175.6" cy="71.8" r="1.35" fill="#2a2a2a" fill-opacity="0.78"/>
<circle cx="174.4" cy="70.2" r="1.35" fill="#2a2a2a" fill-opacity="0.78"/>
<circle cx="181.4" cy="72.8" r="1.35" fill="#2a2a2a" fill-opacity="0.78"/>
<circle cx="175.6" cy="83.6" r="1.35" fill="#2a2a2a" fill-opacity="0.78"/>
<circle cx="171.9" cy="71.6" r="1.35" fill="#2a2a2a" fill-opacity="0.78"/>
<circle cx="173.0" cy="77.0" r="1.35" fill="#2a2a2a" fill-opacity="0.78"/>
<circle cx="178.4" cy="79.6" r="1.35" fill="#2a2a2a" fill-opacity="0.78"/>
<circle cx="179.0" cy="71.5" r="1.35" fill="#2a2a2a" fill-opacity="0.78"/>
<circle cx="179.7" cy="70.5" r="1.35" fill="#2a2a2a" fill-opacity="0.78"/>
<circle cx="174.8" cy="115.8" r="1.35" fill="#2a2a2a" fill-opacity="0.78"/>
<circle cx="177.3" cy="92.2" r="1.35" fill="#2a2a2a" fill-opacity="0.78"/>
<circle cx="179.4" cy="131.1" r="1.35" fill="#2a2a2a" fill-opacity="0.78"/>
<circle cx="180.6" cy="139.5" r="1.35" fill="#2a2a2a" fill-opacity="0.78"/>
<circle cx="179.9" cy="87.5" r="1.35" fill="#2a2a2a" fill-opacity="0.78"/>
<circle cx="177.9" cy="137.3" r="1.35" fill="#2a2a2a" fill-opacity="0.78"/>
<circle cx="215.7" cy="143.6" r="1.35" fill="#2a2a2a" fill-opacity="0.78"/>
<circle cx="220.7" cy="110.6" r="1.35" fill="#2a2a2a" fill-opacity="0.78"/>
<circle cx="215.5" cy="100.7" r="1.35" fill="#2a2a2a" fill-opacity="0.78"/>
<circle cx="211.4" cy="135.7" r="1.35" fill="#2a2a2a" fill-opacity="0.78"/>
<circle cx="218.1" cy="110.0" r="1.35" fill="#2a2a2a" fill-opacity="0.78"/>
<circle cx="219.3" cy="100.8" r="1.35" fill="#2a2a2a" fill-opacity="0.78"/>
<circle cx="215.6" cy="158.2" r="1.35" fill="#2a2a2a" fill-opacity="0.78"/>
<circle cx="211.2" cy="110.0" r="1.35" fill="#2a2a2a" fill-opacity="0.78"/>
<circle cx="223.4" cy="112.4" r="1.35" fill="#2a2a2a" fill-opacity="0.78"/>
<circle cx="216.8" cy="147.3" r="1.35" fill="#2a2a2a" fill-opacity="0.78"/>
<circle cx="218.8" cy="118.8" r="1.35" fill="#2a2a2a" fill-opacity="0.78"/>
<circle cx="214.3" cy="159.0" r="1.35" fill="#2a2a2a" fill-opacity="0.78"/>
<circle cx="217.8" cy="118.6" r="1.35" fill="#2a2a2a" fill-opacity="0.78"/>
<circle cx="214.1" cy="102.1" r="1.35" fill="#2a2a2a" fill-opacity="0.78"/>
<circle cx="220.5" cy="136.1" r="1.35" fill="#2a2a2a" fill-opacity="0.78"/>
<circle cx="217.6" cy="115.2" r="1.35" fill="#2a2a2a" fill-opacity="0.78"/>
<circle cx="215.9" cy="148.2" r="1.35" fill="#2a2a2a" fill-opacity="0.78"/>
<circle cx="214.9" cy="113.9" r="1.35" fill="#2a2a2a" fill-opacity="0.78"/>
<circle cx="222.2" cy="109.6" r="1.35" fill="#2a2a2a" fill-opacity="0.78"/>
<circle cx="217.4" cy="118.5" r="1.35" fill="#2a2a2a" fill-opacity="0.78"/>
<circle cx="213.4" cy="137.6" r="1.35" fill="#2a2a2a" fill-opacity="0.78"/>
<circle cx="213.9" cy="122.1" r="1.35" fill="#2a2a2a" fill-opacity="0.78"/>
<circle cx="216.4" cy="116.9" r="1.35" fill="#2a2a2a" fill-opacity="0.78"/>
<circle cx="218.5" cy="134.7" r="1.35" fill="#2a2a2a" fill-opacity="0.78"/>
<circle cx="221.6" cy="106.3" r="1.35" fill="#2a2a2a" fill-opacity="0.78"/>
<circle cx="216.6" cy="152.5" r="1.35" fill="#2a2a2a" fill-opacity="0.78"/>
<circle cx="212.9" cy="138.9" r="1.35" fill="#2a2a2a" fill-opacity="0.78"/>
<circle cx="214.2" cy="135.3" r="1.35" fill="#2a2a2a" fill-opacity="0.78"/>
<circle cx="219.3" cy="123.8" r="1.35" fill="#2a2a2a" fill-opacity="0.78"/>
<circle cx="220.8" cy="101.1" r="1.35" fill="#2a2a2a" fill-opacity="0.78"/>
<circle cx="213.1" cy="147.2" r="1.35" fill="#2a2a2a" fill-opacity="0.78"/>
<circle cx="216.7" cy="119.2" r="1.35" fill="#2a2a2a" fill-opacity="0.78"/>
<circle cx="216.3" cy="106.9" r="1.35" fill="#2a2a2a" fill-opacity="0.78"/>
<circle cx="222.6" cy="112.4" r="1.35" fill="#2a2a2a" fill-opacity="0.78"/>
<circle cx="220.5" cy="113.1" r="1.35" fill="#2a2a2a" fill-opacity="0.78"/>
<circle cx="222.0" cy="134.5" r="1.35" fill="#2a2a2a" fill-opacity="0.78"/>
<circle cx="224.4" cy="101.0" r="1.35" fill="#2a2a2a" fill-opacity="0.78"/>
<circle cx="216.9" cy="134.7" r="1.35" fill="#2a2a2a" fill-opacity="0.78"/>
<circle cx="219.9" cy="124.0" r="1.35" fill="#2a2a2a" fill-opacity="0.78"/>
<circle cx="217.0" cy="111.3" r="1.35" fill="#2a2a2a" fill-opacity="0.78"/>
<circle cx="253.4" cy="86.8" r="1.35" fill="#2a2a2a" fill-opacity="0.78"/>
<circle cx="246.5" cy="78.1" r="1.35" fill="#2a2a2a" fill-opacity="0.78"/>
<circle cx="247.7" cy="86.5" r="1.35" fill="#2a2a2a" fill-opacity="0.78"/>
<circle cx="248.4" cy="78.3" r="1.35" fill="#2a2a2a" fill-opacity="0.78"/>
<circle cx="244.9" cy="116.6" r="1.35" fill="#2a2a2a" fill-opacity="0.78"/>
<circle cx="248.1" cy="85.6" r="1.35" fill="#2a2a2a" fill-opacity="0.78"/>
<circle cx="254.3" cy="130.3" r="1.35" fill="#2a2a2a" fill-opacity="0.78"/>
<circle cx="247.2" cy="81.1" r="1.35" fill="#2a2a2a" fill-opacity="0.78"/>
<circle cx="248.3" cy="122.2" r="1.35" fill="#2a2a2a" fill-opacity="0.78"/>
<circle cx="242.8" cy="106.6" r="1.35" fill="#2a2a2a" fill-opacity="0.78"/>
<circle cx="243.4" cy="89.1" r="1.35" fill="#2a2a2a" fill-opacity="0.78"/>
<circle cx="244.8" cy="126.8" r="1.35" fill="#2a2a2a" fill-opacity="0.78"/>
<circle cx="253.2" cy="124.4" r="1.35" fill="#2a2a2a" fill-opacity="0.78"/>
<circle cx="243.9" cy="101.3" r="1.35" fill="#2a2a2a" fill-opacity="0.78"/>
<circle cx="246.2" cy="110.5" r="1.35" fill="#2a2a2a" fill-opacity="0.78"/>
<circle cx="246.3" cy="77.1" r="1.35" fill="#2a2a2a" fill-opacity="0.78"/>
<circle cx="242.9" cy="116.8" r="1.35" fill="#2a2a2a" fill-opacity="0.78"/>
<circle cx="245.9" cy="111.8" r="1.35" fill="#2a2a2a" fill-opacity="0.78"/>
<circle cx="247.1" cy="108.4" r="1.35" fill="#2a2a2a" fill-opacity="0.78"/>
<circle cx="241.0" cy="102.8" r="1.35" fill="#2a2a2a" fill-opacity="0.78"/>
<circle cx="247.6" cy="119.4" r="1.35" fill="#2a2a2a" fill-opacity="0.78"/>
<circle cx="245.1" cy="103.1" r="1.35" fill="#2a2a2a" fill-opacity="0.78"/>
<circle cx="241.7" cy="116.6" r="1.35" fill="#2a2a2a" fill-opacity="0.78"/>
<circle cx="240.3" cy="106.8" r="1.35" fill="#2a2a2a" fill-opacity="0.78"/>
<circle cx="244.5" cy="98.9" r="1.35" fill="#2a2a2a" fill-opacity="0.78"/>
<circle cx="248.7" cy="110.9" r="1.35" fill="#2a2a2a" fill-opacity="0.78"/>
<circle cx="243.9" cy="100.9" r="1.35" fill="#2a2a2a" fill-opacity="0.78"/>
<circle cx="245.9" cy="91.7" r="1.35" fill="#2a2a2a" fill-opacity="0.78"/>
<circle cx="248.5" cy="113.3" r="1.35" fill="#2a2a2a" fill-opacity="0.78"/>
<circle cx="252.1" cy="103.7" r="1.35" fill="#2a2a2a" fill-opacity="0.78"/>
<circle cx="247.0" cy="96.3" r="1.35" fill="#2a2a2a" fill-opacity="0.78"/>
<circle cx="249.1" cy="109.0" r="1.35" fill="#2a2a2a" fill-opacity="0.78"/>
<circle cx="246.3" cy="101.3" r="1.35" fill="#2a2a2a" fill-opacity="0.78"/>
<circle cx="243.2" cy="122.9" r="1.35" fill="#2a2a2a" fill-opacity="0.78"/>
<circle cx="248.3" cy="117.4" r="1.35" fill="#2a2a2a" fill-opacity="0.78"/>
<circle cx="244.7" cy="104.9" r="1.35" fill="#2a2a2a" fill-opacity="0.78"/>
<circle cx="247.4" cy="122.4" r="1.35" fill="#2a2a2a" fill-opacity="0.78"/>
<circle cx="250.5" cy="104.4" r="1.35" fill="#2a2a2a" fill-opacity="0.78"/>
<circle cx="248.8" cy="104.7" r="1.35" fill="#2a2a2a" fill-opacity="0.78"/>
<circle cx="251.3" cy="118.5" r="1.35" fill="#2a2a2a" fill-opacity="0.78"/>
<circle cx="279.4" cy="73.3" r="1.35" fill="#2a2a2a" fill-opacity="0.78"/>
<circle cx="273.6" cy="80.9" r="1.35" fill="#2a2a2a" fill-opacity="0.78"/>
<circle cx="279.2" cy="71.3" r="1.35" fill="#2a2a2a" fill-opacity="0.78"/>
<circle cx="275.4" cy="77.7" r="1.35" fill="#2a2a2a" fill-opacity="0.78"/>
<circle cx="273.1" cy="83.6" r="1.35" fill="#2a2a2a" fill-opacity="0.78"/>
<circle cx="276.1" cy="79.5" r="1.35" fill="#2a2a2a" fill-opacity="0.78"/>
<circle cx="277.7" cy="78.1" r="1.35" fill="#2a2a2a" fill-opacity="0.78"/>
<circle cx="276.1" cy="81.2" r="1.35" fill="#2a2a2a" fill-opacity="0.78"/>
<circle cx="278.4" cy="80.6" r="1.35" fill="#2a2a2a" fill-opacity="0.78"/>
<circle cx="277.9" cy="82.7" r="1.35" fill="#2a2a2a" fill-opacity="0.78"/>
<circle cx="281.3" cy="72.9" r="1.35" fill="#2a2a2a" fill-opacity="0.78"/>
<circle cx="279.6" cy="80.7" r="1.35" fill="#2a2a2a" fill-opacity="0.78"/>
<circle cx="275.8" cy="97.4" r="1.35" fill="#2a2a2a" fill-opacity="0.78"/>
<circle cx="275.3" cy="130.7" r="1.35" fill="#2a2a2a" fill-opacity="0.78"/>
<circle cx="271.7" cy="108.1" r="1.35" fill="#2a2a2a" fill-opacity="0.78"/>
<circle cx="276.5" cy="104.6" r="1.35" fill="#2a2a2a" fill-opacity="0.78"/>
<circle cx="282.1" cy="114.1" r="1.35" fill="#2a2a2a" fill-opacity="0.78"/>
<circle cx="276.3" cy="116.8" r="1.35" fill="#2a2a2a" fill-opacity="0.78"/>
<circle cx="276.3" cy="139.8" r="1.35" fill="#2a2a2a" fill-opacity="0.78"/>
<circle cx="272.2" cy="76.3" r="1.35" fill="#2a2a2a" fill-opacity="0.78"/>
<circle cx="279.5" cy="82.1" r="1.35" fill="#2a2a2a" fill-opacity="0.78"/>
<circle cx="272.9" cy="81.5" r="1.35" fill="#2a2a2a" fill-opacity="0.78"/>
<circle cx="280.7" cy="83.5" r="1.35" fill="#2a2a2a" fill-opacity="0.78"/>
<circle cx="271.3" cy="79.3" r="1.35" fill="#2a2a2a" fill-opacity="0.78"/>
<circle cx="272.1" cy="81.4" r="1.35" fill="#2a2a2a" fill-opacity="0.78"/>
<circle cx="276.5" cy="76.5" r="1.35" fill="#2a2a2a" fill-opacity="0.78"/>
<circle cx="275.6" cy="80.6" r="1.35" fill="#2a2a2a" fill-opacity="0.78"/>
<circle cx="278.1" cy="83.9" r="1.35" fill="#2a2a2a" fill-opacity="0.78"/>
<circle cx="275.8" cy="73.7" r="1.35" fill="#2a2a2a" fill-opacity="0.78"/>
<circle cx="278.7" cy="101.4" r="1.35" fill="#2a2a2a" fill-opacity="0.78"/>
<circle cx="275.0" cy="86.4" r="1.35" fill="#2a2a2a" fill-opacity="0.78"/>
<circle cx="284.2" cy="96.6" r="1.35" fill="#2a2a2a" fill-opacity="0.78"/>
<circle cx="280.8" cy="115.8" r="1.35" fill="#2a2a2a" fill-opacity="0.78"/>
<circle cx="280.4" cy="91.4" r="1.35" fill="#2a2a2a" fill-opacity="0.78"/>
<circle cx="280.6" cy="107.9" r="1.35" fill="#2a2a2a" fill-opacity="0.78"/>
<circle cx="308.5" cy="84.6" r="1.35" fill="#2a2a2a" fill-opacity="0.78"/>
<circle cx="308.7" cy="73.8" r="1.35" fill="#2a2a2a" fill-opacity="0.78"/>
<circle cx="307.5" cy="74.3" r="1.35" fill="#2a2a2a" fill-opacity="0.78"/>
<circle cx="307.6" cy="79.9" r="1.35" fill="#2a2a2a" fill-opacity="0.78"/>
<circle cx="312.4" cy="74.4" r="1.35" fill="#2a2a2a" fill-opacity="0.78"/>
<circle cx="308.2" cy="73.6" r="1.35" fill="#2a2a2a" fill-opacity="0.78"/>
<circle cx="309.6" cy="82.4" r="1.35" fill="#2a2a2a" fill-opacity="0.78"/>
<circle cx="305.6" cy="83.3" r="1.35" fill="#2a2a2a" fill-opacity="0.78"/>
<circle cx="311.0" cy="78.2" r="1.35" fill="#2a2a2a" fill-opacity="0.78"/>
<circle cx="306.7" cy="84.7" r="1.35" fill="#2a2a2a" fill-opacity="0.78"/>
<circle cx="314.0" cy="76.1" r="1.35" fill="#2a2a2a" fill-opacity="0.78"/>
<circle cx="300.2" cy="78.2" r="1.35" fill="#2a2a2a" fill-opacity="0.78"/>
<circle cx="304.7" cy="94.6" r="1.35" fill="#2a2a2a" fill-opacity="0.78"/>
<circle cx="314.2" cy="117.3" r="1.35" fill="#2a2a2a" fill-opacity="0.78"/>
<circle cx="309.6" cy="101.0" r="1.35" fill="#2a2a2a" fill-opacity="0.78"/>
<circle cx="303.2" cy="96.7" r="1.35" fill="#2a2a2a" fill-opacity="0.78"/>
<circle cx="306.5" cy="124.6" r="1.35" fill="#2a2a2a" fill-opacity="0.78"/>
<circle cx="305.8" cy="86.4" r="1.35" fill="#2a2a2a" fill-opacity="0.78"/>
<circle cx="305.1" cy="149.9" r="1.35" fill="#2a2a2a" fill-opacity="0.78"/>
<circle cx="303.1" cy="81.7" r="1.35" fill="#2a2a2a" fill-opacity="0.78"/>
<circle cx="311.4" cy="80.1" r="1.35" fill="#2a2a2a" fill-opacity="0.78"/>
<circle cx="308.2" cy="75.8" r="1.35" fill="#2a2a2a" fill-opacity="0.78"/>
<circle cx="308.8" cy="74.9" r="1.35" fill="#2a2a2a" fill-opacity="0.78"/>
<circle cx="309.9" cy="80.6" r="1.35" fill="#2a2a2a" fill-opacity="0.78"/>
<circle cx="304.2" cy="85.9" r="1.35" fill="#2a2a2a" fill-opacity="0.78"/>
<circle cx="306.7" cy="73.3" r="1.35" fill="#2a2a2a" fill-opacity="0.78"/>
<circle cx="311.2" cy="82.6" r="1.35" fill="#2a2a2a" fill-opacity="0.78"/>
<circle cx="313.3" cy="83.7" r="1.35" fill="#2a2a2a" fill-opacity="0.78"/>
<circle cx="307.2" cy="83.3" r="1.35" fill="#2a2a2a" fill-opacity="0.78"/>
<circle cx="309.4" cy="106.8" r="1.35" fill="#2a2a2a" fill-opacity="0.78"/>
<circle cx="308.4" cy="88.8" r="1.35" fill="#2a2a2a" fill-opacity="0.78"/>
<circle cx="303.5" cy="113.7" r="1.35" fill="#2a2a2a" fill-opacity="0.78"/>
<circle cx="307.6" cy="103.0" r="1.35" fill="#2a2a2a" fill-opacity="0.78"/>
<circle cx="308.9" cy="108.9" r="1.35" fill="#2a2a2a" fill-opacity="0.78"/>
<circle cx="334.9" cy="78.7" r="1.35" fill="#2a2a2a" fill-opacity="0.78"/>
<circle cx="338.3" cy="85.2" r="1.35" fill="#2a2a2a" fill-opacity="0.78"/>
<circle cx="336.3" cy="75.3" r="1.35" fill="#2a2a2a" fill-opacity="0.78"/>
<circle cx="333.2" cy="74.5" r="1.35" fill="#2a2a2a" fill-opacity="0.78"/>
<circle cx="336.0" cy="85.3" r="1.35" fill="#2a2a2a" fill-opacity="0.78"/>
<circle cx="336.0" cy="73.2" r="1.35" fill="#2a2a2a" fill-opacity="0.78"/>
<circle cx="339.7" cy="76.9" r="1.35" fill="#2a2a2a" fill-opacity="0.78"/>
<circle cx="331.9" cy="77.8" r="1.35" fill="#2a2a2a" fill-opacity="0.78"/>
<circle cx="338.1" cy="83.0" r="1.35" fill="#2a2a2a" fill-opacity="0.78"/>
<circle cx="339.7" cy="79.4" r="1.35" fill="#2a2a2a" fill-opacity="0.78"/>
<circle cx="339.1" cy="123.8" r="1.35" fill="#2a2a2a" fill-opacity="0.78"/>
<circle cx="339.4" cy="88.5" r="1.35" fill="#2a2a2a" fill-opacity="0.78"/>
<circle cx="332.8" cy="102.0" r="1.35" fill="#2a2a2a" fill-opacity="0.78"/>
<circle cx="336.5" cy="108.9" r="1.35" fill="#2a2a2a" fill-opacity="0.78"/>
<circle cx="334.7" cy="104.9" r="1.35" fill="#2a2a2a" fill-opacity="0.78"/>
<circle cx="344.1" cy="117.6" r="1.35" fill="#2a2a2a" fill-opacity="0.78"/>
<circle cx="337.7" cy="95.6" r="1.35" fill="#2a2a2a" fill-opacity="0.78"/>
<circle cx="335.0" cy="78.0" r="1.35" fill="#2a2a2a" fill-opacity="0.78"/>
<circle cx="335.2" cy="80.6" r="1.35" fill="#2a2a2a" fill-opacity="0.78"/>
<circle cx="336.2" cy="78.3" r="1.35" fill="#2a2a2a" fill-opacity="0.78"/>
<circle cx="339.9" cy="82.7" r="1.35" fill="#2a2a2a" fill-opacity="0.78"/>
<circle cx="337.0" cy="83.7" r="1.35" fill="#2a2a2a" fill-opacity="0.78"/>
<circle cx="339.3" cy="77.3" r="1.35" fill="#2a2a2a" fill-opacity="0.78"/>
<circle cx="341.1" cy="83.6" r="1.35" fill="#2a2a2a" fill-opacity="0.78"/>
<circle cx="335.6" cy="77.3" r="1.35" fill="#2a2a2a" fill-opacity="0.78"/>
<circle cx="337.7" cy="74.3" r="1.35" fill="#2a2a2a" fill-opacity="0.78"/>
<circle cx="335.8" cy="91.5" r="1.35" fill="#2a2a2a" fill-opacity="0.78"/>
<circle cx="334.8" cy="94.7" r="1.35" fill="#2a2a2a" fill-opacity="0.78"/>
<circle cx="332.4" cy="102.9" r="1.35" fill="#2a2a2a" fill-opacity="0.78"/>
<circle cx="339.4" cy="91.3" r="1.35" fill="#2a2a2a" fill-opacity="0.78"/>
<circle cx="333.3" cy="96.4" r="1.35" fill="#2a2a2a" fill-opacity="0.78"/>
<circle cx="338.0" cy="103.1" r="1.35" fill="#2a2a2a" fill-opacity="0.78"/>
<text transform="translate(364.54,13.90) scale(0.85,1)" font-size="19.3" font-weight="bold" fill="#000" stroke="#000" stroke-width="0.38">B</text>
<text x="400.0" y="8.3" font-size="9.50" text-anchor="start" font-weight="normal" fill="#000" stroke="#000" stroke-width="0.30" >IgG to S protein</text>
<text x="414.8" y="27.6" font-size="8.30" text-anchor="start" font-weight="normal" fill="#000" stroke="#000" stroke-width="0.30" >early_1_to_5_days.1_late_2</text>
<rect x="523.8" y="20.8" width="10.0" height="7.5" fill="none" stroke="#d652e6" stroke-width="1.3"/>
<line x1="523.8" y1="24.6" x2="533.8" y2="24.6" stroke="#d652e6" stroke-width="1" stroke-opacity="1"/>
<line x1="528.8" y1="18.8" x2="528.8" y2="29.4" stroke="#dc3ce4" stroke-width="1.2" stroke-opacity="1"/>
<circle cx="528.8" cy="24.6" r="1.8" fill="#dc3ce4" fill-opacity="1"/>
<text x="538.8" y="27.6" font-size="6.60" text-anchor="start" font-weight="normal" fill="#000" stroke="#000" stroke-width="0.08" >Early infusion (2-5 days)</text>
<rect x="614.8" y="20.8" width="10.0" height="7.5" fill="none" stroke="#b0102c" stroke-width="1.3"/>
<line x1="614.8" y1="24.6" x2="624.8" y2="24.6" stroke="#b0102c" stroke-width="1" stroke-opacity="1"/>
<line x1="619.8" y1="18.8" x2="619.8" y2="29.4" stroke="#c01430" stroke-width="1.2" stroke-opacity="1"/>
<circle cx="619.8" cy="24.6" r="1.8" fill="#c01430" fill-opacity="1"/>
<text x="629.8" y="27.6" font-size="6.60" text-anchor="start" font-weight="normal" fill="#000" stroke="#000" stroke-width="0.08" >Late infusion (6-9 days)</text>
<rect x="399.8" y="41.8" width="154.5" height="12.7" fill="#e9e9e9" stroke="#4a4a4a" stroke-width="1.2"/>
<text x="477.0" y="50.8" font-size="6.60" text-anchor="middle" font-weight="normal" fill="#000" stroke="#000" stroke-width="0.06" >Control</text>
<line x1="399.8" y1="170.5" x2="554.3" y2="170.5" stroke="#444" stroke-width="1.0" stroke-opacity="1"/>
<rect x="558.5" y="41.8" width="154.7" height="12.7" fill="#e9e9e9" stroke="#4a4a4a" stroke-width="1.2"/>
<text x="635.9" y="50.8" font-size="6.60" text-anchor="middle" font-weight="normal" fill="#000" stroke="#000" stroke-width="0.06" >Convalescent</text>
<line x1="558.5" y1="170.5" x2="713.2" y2="170.5" stroke="#444" stroke-width="1.0" stroke-opacity="1"/>
<line x1="399.5" y1="54.5" x2="399.5" y2="170.6" stroke="#444" stroke-width="1.0" stroke-opacity="1"/>
<line x1="397.0" y1="77.4" x2="399.5" y2="77.4" stroke="#444" stroke-width="1.0" stroke-opacity="1"/>
<text x="396.0" y="81.0" font-size="8.40" text-anchor="end" font-weight="normal" fill="#000" stroke="#000" stroke-width="0.30" >4</text>
<line x1="397.0" y1="120.4" x2="399.5" y2="120.4" stroke="#444" stroke-width="1.0" stroke-opacity="1"/>
<text x="396.0" y="124.0" font-size="8.40" text-anchor="end" font-weight="normal" fill="#000" stroke="#000" stroke-width="0.30" >3</text>
<line x1="397.0" y1="163.7" x2="399.5" y2="163.7" stroke="#444" stroke-width="1.0" stroke-opacity="1"/>
<text x="396.0" y="167.3" font-size="8.40" text-anchor="end" font-weight="normal" fill="#000" stroke="#000" stroke-width="0.30" >2</text>
<text transform="translate(368.6,116.3) rotate(-90)" font-size="8.30" text-anchor="middle" fill="#000" stroke="#000" stroke-width="0.05">ELISA titers ( log<tspan font-size="5.5" dy="2">10</tspan><tspan dy="-2"> )</tspan></text>
<text x="556.0" y="190.7" font-size="8.10" text-anchor="middle" font-weight="normal" fill="#000" stroke="#000" stroke-width="0.30" >Days post plasma infusion</text>
<line x1="417.6" y1="170.6" x2="417.6" y2="173.1" stroke="#3a3a3a" stroke-width="1.0" stroke-opacity="1"/>
<text x="417.6" y="181.7" font-size="8.20" text-anchor="middle" font-weight="normal" fill="#000" stroke="#000" stroke-width="0.30" >-1</text>
<text x="417.6" y="60.0" font-size="7.20" text-anchor="middle" font-weight="normal" fill="#000" stroke="#000" stroke-width="0.12" >ns</text>
<line x1="447.3" y1="170.6" x2="447.3" y2="173.1" stroke="#3a3a3a" stroke-width="1.0" stroke-opacity="1"/>
<text x="447.3" y="181.7" font-size="8.20" text-anchor="middle" font-weight="normal" fill="#000" stroke="#000" stroke-width="0.30" >0</text>
<text x="447.3" y="60.0" font-size="7.20" text-anchor="middle" font-weight="normal" fill="#000" stroke="#000" stroke-width="0.12" >ns</text>
<line x1="477.0" y1="170.6" x2="477.0" y2="173.1" stroke="#3a3a3a" stroke-width="1.0" stroke-opacity="1"/>
<text x="477.0" y="181.7" font-size="8.20" text-anchor="middle" font-weight="normal" fill="#000" stroke="#000" stroke-width="0.30" >14</text>
<text x="477.0" y="60.0" font-size="7.20" text-anchor="middle" font-weight="normal" fill="#000" stroke="#000" stroke-width="0.12" >ns</text>
<line x1="506.8" y1="170.6" x2="506.8" y2="173.1" stroke="#3a3a3a" stroke-width="1.0" stroke-opacity="1"/>
<text x="506.8" y="181.7" font-size="8.20" text-anchor="middle" font-weight="normal" fill="#000" stroke="#000" stroke-width="0.30" >28</text>
<text x="506.8" y="60.0" font-size="7.20" text-anchor="middle" font-weight="normal" fill="#000" stroke="#000" stroke-width="0.12" >ns</text>
<line x1="536.5" y1="170.6" x2="536.5" y2="173.1" stroke="#3a3a3a" stroke-width="1.0" stroke-opacity="1"/>
<text x="536.5" y="181.7" font-size="8.20" text-anchor="middle" font-weight="normal" fill="#000" stroke="#000" stroke-width="0.30" >90</text>
<text x="536.5" y="60.0" font-size="7.20" text-anchor="middle" font-weight="normal" fill="#000" stroke="#000" stroke-width="0.12" >ns</text>
<line x1="576.4" y1="170.6" x2="576.4" y2="173.1" stroke="#3a3a3a" stroke-width="1.0" stroke-opacity="1"/>
<text x="576.4" y="181.7" font-size="8.20" text-anchor="middle" font-weight="normal" fill="#000" stroke="#000" stroke-width="0.30" >-1</text>
<text x="576.4" y="60.0" font-size="7.20" text-anchor="middle" font-weight="normal" fill="#000" stroke="#000" stroke-width="0.12" >ns</text>
<line x1="606.1" y1="170.6" x2="606.1" y2="173.1" stroke="#3a3a3a" stroke-width="1.0" stroke-opacity="1"/>
<text x="606.1" y="181.7" font-size="8.20" text-anchor="middle" font-weight="normal" fill="#000" stroke="#000" stroke-width="0.30" >0</text>
<text x="606.1" y="60.0" font-size="7.20" text-anchor="middle" font-weight="normal" fill="#000" stroke="#000" stroke-width="0.12" >ns</text>
<line x1="635.9" y1="170.6" x2="635.9" y2="173.1" stroke="#3a3a3a" stroke-width="1.0" stroke-opacity="1"/>
<text x="635.9" y="181.7" font-size="8.20" text-anchor="middle" font-weight="normal" fill="#000" stroke="#000" stroke-width="0.30" >14</text>
<line x1="665.6" y1="170.6" x2="665.6" y2="173.1" stroke="#3a3a3a" stroke-width="1.0" stroke-opacity="1"/>
<text x="665.6" y="181.7" font-size="8.20" text-anchor="middle" font-weight="normal" fill="#000" stroke="#000" stroke-width="0.30" >28</text>
<text x="665.6" y="60.0" font-size="7.20" text-anchor="middle" font-weight="normal" fill="#000" stroke="#000" stroke-width="0.12" >ns</text>
<line x1="695.4" y1="170.6" x2="695.4" y2="173.1" stroke="#3a3a3a" stroke-width="1.0" stroke-opacity="1"/>
<text x="695.4" y="181.7" font-size="8.20" text-anchor="middle" font-weight="normal" fill="#000" stroke="#000" stroke-width="0.30" >90</text>
<text x="695.4" y="60.0" font-size="7.20" text-anchor="middle" font-weight="normal" fill="#000" stroke="#000" stroke-width="0.12" >ns</text>
<rect x="405.7" y="110.9" width="11.9" height="15.4" fill="none" stroke="#d652e6" stroke-width="1.4"/>
<line x1="405.7" y1="125.0" x2="417.6" y2="125.0" stroke="#d652e6" stroke-width="1.3" stroke-opacity="1"/>
<line x1="411.7" y1="104.4" x2="411.7" y2="110.9" stroke="#dc3ce4" stroke-width="2.2" stroke-opacity="1"/>
<line x1="411.7" y1="126.3" x2="411.7" y2="136.6" stroke="#dc3ce4" stroke-width="2.2" stroke-opacity="1"/>
<line x1="411.7" y1="110.9" x2="411.7" y2="126.3" stroke="#dc3ce4" stroke-width="1.0" stroke-opacity="0.7"/>
<circle cx="411.7" cy="120.4" r="2.1" fill="#dc3ce4" fill-opacity="1"/>
<circle cx="411.7" cy="72.2" r="1.5" fill="#dc3ce4" fill-opacity="1"/>
<rect x="417.6" y="110.9" width="11.9" height="27.6" fill="none" stroke="#b0102c" stroke-width="1.4"/>
<line x1="417.6" y1="137.4" x2="429.5" y2="137.4" stroke="#b0102c" stroke-width="1.3" stroke-opacity="1"/>
<line x1="423.6" y1="85.1" x2="423.6" y2="110.9" stroke="#c01430" stroke-width="2.2" stroke-opacity="1"/>
<line x1="423.6" y1="138.5" x2="423.6" y2="150.8" stroke="#c01430" stroke-width="2.2" stroke-opacity="1"/>
<line x1="423.6" y1="110.9" x2="423.6" y2="138.5" stroke="#c01430" stroke-width="1.0" stroke-opacity="0.7"/>
<circle cx="423.6" cy="125.6" r="2.1" fill="#c01430" fill-opacity="1"/>
<circle cx="423.6" cy="72.2" r="1.5" fill="#c01430" fill-opacity="1"/>
<rect x="435.5" y="117.3" width="11.9" height="9.8" fill="none" stroke="#d652e6" stroke-width="1.4"/>
<line x1="435.5" y1="125.0" x2="447.3" y2="125.0" stroke="#d652e6" stroke-width="1.3" stroke-opacity="1"/>
<line x1="441.4" y1="104.4" x2="441.4" y2="117.3" stroke="#dc3ce4" stroke-width="2.2" stroke-opacity="1"/>
<line x1="441.4" y1="127.1" x2="441.4" y2="136.6" stroke="#dc3ce4" stroke-width="2.2" stroke-opacity="1"/>
<line x1="441.4" y1="117.3" x2="441.4" y2="127.1" stroke="#dc3ce4" stroke-width="1.0" stroke-opacity="0.7"/>
<circle cx="441.4" cy="119.4" r="2.1" fill="#dc3ce4" fill-opacity="1"/>
<circle cx="441.4" cy="85.1" r="1.5" fill="#dc3ce4" fill-opacity="1"/>
<rect x="447.3" y="110.9" width="11.9" height="27.6" fill="none" stroke="#b0102c" stroke-width="1.4"/>
<line x1="447.3" y1="137.4" x2="459.2" y2="137.4" stroke="#b0102c" stroke-width="1.3" stroke-opacity="1"/>
<line x1="453.3" y1="85.1" x2="453.3" y2="110.9" stroke="#c01430" stroke-width="2.2" stroke-opacity="1"/>
<line x1="453.3" y1="138.5" x2="453.3" y2="150.8" stroke="#c01430" stroke-width="2.2" stroke-opacity="1"/>
<line x1="453.3" y1="110.9" x2="453.3" y2="138.5" stroke="#c01430" stroke-width="1.0" stroke-opacity="0.7"/>
<circle cx="453.3" cy="125.6" r="2.1" fill="#c01430" fill-opacity="1"/>
<circle cx="453.3" cy="72.2" r="1.5" fill="#c01430" fill-opacity="1"/>
<rect x="465.2" y="78.7" width="11.9" height="34.8" fill="none" stroke="#d652e6" stroke-width="1.4"/>
<line x1="465.2" y1="100.6" x2="477.0" y2="100.6" stroke="#d652e6" stroke-width="1.3" stroke-opacity="1"/>
<line x1="471.1" y1="72.2" x2="471.1" y2="78.7" stroke="#dc3ce4" stroke-width="2.2" stroke-opacity="1"/>
<line x1="471.1" y1="113.5" x2="471.1" y2="123.8" stroke="#dc3ce4" stroke-width="2.2" stroke-opacity="1"/>
<line x1="471.1" y1="78.7" x2="471.1" y2="113.5" stroke="#dc3ce4" stroke-width="1.0" stroke-opacity="0.7"/>
<circle cx="471.1" cy="100.6" r="2.1" fill="#dc3ce4" fill-opacity="1"/>
<rect x="477.0" y="81.2" width="11.9" height="31.0" fill="none" stroke="#b0102c" stroke-width="1.4"/>
<line x1="477.0" y1="98.0" x2="488.9" y2="98.0" stroke="#b0102c" stroke-width="1.3" stroke-opacity="1"/>
<line x1="483.0" y1="72.2" x2="483.0" y2="81.2" stroke="#c01430" stroke-width="2.2" stroke-opacity="1"/>
<line x1="483.0" y1="112.2" x2="483.0" y2="136.6" stroke="#c01430" stroke-width="2.2" stroke-opacity="1"/>
<line x1="483.0" y1="81.2" x2="483.0" y2="112.2" stroke="#c01430" stroke-width="1.0" stroke-opacity="0.7"/>
<circle cx="483.0" cy="97.2" r="2.1" fill="#c01430" fill-opacity="1"/>
<rect x="494.9" y="78.7" width="11.9" height="27.0" fill="none" stroke="#d652e6" stroke-width="1.4"/>
<line x1="494.9" y1="98.0" x2="506.8" y2="98.0" stroke="#d652e6" stroke-width="1.3" stroke-opacity="1"/>
<line x1="500.8" y1="72.2" x2="500.8" y2="78.7" stroke="#dc3ce4" stroke-width="2.2" stroke-opacity="1"/>
<line x1="500.8" y1="105.7" x2="500.8" y2="125.0" stroke="#dc3ce4" stroke-width="2.2" stroke-opacity="1"/>
<line x1="500.8" y1="78.7" x2="500.8" y2="105.7" stroke="#dc3ce4" stroke-width="1.0" stroke-opacity="0.7"/>
<circle cx="500.8" cy="95.4" r="2.1" fill="#dc3ce4" fill-opacity="1"/>
<rect x="506.8" y="85.1" width="11.9" height="27.1" fill="none" stroke="#b0102c" stroke-width="1.4"/>
<line x1="506.8" y1="98.0" x2="518.6" y2="98.0" stroke="#b0102c" stroke-width="1.3" stroke-opacity="1"/>
<line x1="512.7" y1="72.2" x2="512.7" y2="85.1" stroke="#c01430" stroke-width="2.2" stroke-opacity="1"/>
<line x1="512.7" y1="112.2" x2="512.7" y2="136.6" stroke="#c01430" stroke-width="2.2" stroke-opacity="1"/>
<line x1="512.7" y1="85.1" x2="512.7" y2="112.2" stroke="#c01430" stroke-width="1.0" stroke-opacity="0.7"/>
<circle cx="512.7" cy="96.7" r="2.1" fill="#c01430" fill-opacity="1"/>
<rect x="524.6" y="85.1" width="11.9" height="15.5" fill="none" stroke="#d652e6" stroke-width="1.4"/>
<line x1="524.6" y1="98.0" x2="536.5" y2="98.0" stroke="#d652e6" stroke-width="1.3" stroke-opacity="1"/>
<line x1="530.5" y1="80.0" x2="530.5" y2="85.1" stroke="#dc3ce4" stroke-width="2.2" stroke-opacity="1"/>
<line x1="530.5" y1="100.6" x2="530.5" y2="110.9" stroke="#dc3ce4" stroke-width="2.2" stroke-opacity="1"/>
<line x1="530.5" y1="85.1" x2="530.5" y2="100.6" stroke="#dc3ce4" stroke-width="1.0" stroke-opacity="0.7"/>
<circle cx="530.5" cy="95.4" r="2.1" fill="#dc3ce4" fill-opacity="1"/>
<rect x="536.5" y="91.5" width="11.9" height="20.7" fill="none" stroke="#b0102c" stroke-width="1.4"/>
<line x1="536.5" y1="98.0" x2="548.4" y2="98.0" stroke="#b0102c" stroke-width="1.3" stroke-opacity="1"/>
<line x1="542.4" y1="72.2" x2="542.4" y2="91.5" stroke="#c01430" stroke-width="2.2" stroke-opacity="1"/>
<line x1="542.4" y1="112.2" x2="542.4" y2="123.8" stroke="#c01430" stroke-width="2.2" stroke-opacity="1"/>
<line x1="542.4" y1="91.5" x2="542.4" y2="112.2" stroke="#c01430" stroke-width="1.0" stroke-opacity="0.7"/>
<circle cx="542.4" cy="98.8" r="2.1" fill="#c01430" fill-opacity="1"/>
<rect x="564.5" y="114.7" width="11.9" height="23.2" fill="none" stroke="#d652e6" stroke-width="1.4"/>
<line x1="564.5" y1="137.9" x2="576.4" y2="137.9" stroke="#d652e6" stroke-width="1.3" stroke-opacity="1"/>
<line x1="570.4" y1="85.1" x2="570.4" y2="114.7" stroke="#dc3ce4" stroke-width="2.2" stroke-opacity="1"/>
<line x1="570.4" y1="137.9" x2="570.4" y2="163.7" stroke="#dc3ce4" stroke-width="2.2" stroke-opacity="1"/>
<line x1="570.4" y1="114.7" x2="570.4" y2="137.9" stroke="#dc3ce4" stroke-width="1.0" stroke-opacity="0.7"/>
<circle cx="570.4" cy="127.6" r="2.1" fill="#dc3ce4" fill-opacity="1"/>
<rect x="576.4" y="117.3" width="11.9" height="20.6" fill="none" stroke="#b0102c" stroke-width="1.4"/>
<line x1="576.4" y1="124.5" x2="588.2" y2="124.5" stroke="#b0102c" stroke-width="1.3" stroke-opacity="1"/>
<line x1="582.3" y1="98.0" x2="582.3" y2="117.3" stroke="#c01430" stroke-width="2.2" stroke-opacity="1"/>
<line x1="582.3" y1="137.9" x2="582.3" y2="150.8" stroke="#c01430" stroke-width="2.2" stroke-opacity="1"/>
<line x1="582.3" y1="117.3" x2="582.3" y2="137.9" stroke="#c01430" stroke-width="1.0" stroke-opacity="0.7"/>
<circle cx="582.3" cy="124.5" r="2.1" fill="#c01430" fill-opacity="1"/>
<rect x="594.2" y="111.6" width="11.9" height="26.3" fill="none" stroke="#d652e6" stroke-width="1.4"/>
<line x1="594.2" y1="124.5" x2="606.1" y2="124.5" stroke="#d652e6" stroke-width="1.3" stroke-opacity="1"/>
<line x1="600.2" y1="85.1" x2="600.2" y2="111.6" stroke="#dc3ce4" stroke-width="2.2" stroke-opacity="1"/>
<line x1="600.2" y1="111.6" x2="600.2" y2="137.9" stroke="#dc3ce4" stroke-width="1.0" stroke-opacity="0.7"/>
<circle cx="600.2" cy="119.9" r="2.1" fill="#dc3ce4" fill-opacity="1"/>
<rect x="606.1" y="110.9" width="11.9" height="14.1" fill="none" stroke="#b0102c" stroke-width="1.4"/>
<line x1="606.1" y1="125.0" x2="618.0" y2="125.0" stroke="#b0102c" stroke-width="1.3" stroke-opacity="1"/>
<line x1="612.1" y1="98.0" x2="612.1" y2="110.9" stroke="#c01430" stroke-width="2.2" stroke-opacity="1"/>
<line x1="612.1" y1="125.0" x2="612.1" y2="136.6" stroke="#c01430" stroke-width="2.2" stroke-opacity="1"/>
<line x1="612.1" y1="110.9" x2="612.1" y2="125.0" stroke="#c01430" stroke-width="1.0" stroke-opacity="0.7"/>
<circle cx="612.1" cy="118.6" r="2.1" fill="#c01430" fill-opacity="1"/>
<rect x="624.0" y="98.0" width="11.9" height="27.0" fill="none" stroke="#d652e6" stroke-width="1.4"/>
<line x1="624.0" y1="112.2" x2="635.9" y2="112.2" stroke="#d652e6" stroke-width="1.3" stroke-opacity="1"/>
<line x1="629.9" y1="72.2" x2="629.9" y2="98.0" stroke="#dc3ce4" stroke-width="2.2" stroke-opacity="1"/>
<line x1="629.9" y1="125.0" x2="629.9" y2="150.8" stroke="#dc3ce4" stroke-width="2.2" stroke-opacity="1"/>
<line x1="629.9" y1="98.0" x2="629.9" y2="125.0" stroke="#dc3ce4" stroke-width="1.0" stroke-opacity="0.7"/>
<circle cx="629.9" cy="112.7" r="2.1" fill="#dc3ce4" fill-opacity="1"/>
<rect x="635.9" y="85.1" width="11.9" height="27.1" fill="none" stroke="#b0102c" stroke-width="1.4"/>
<line x1="635.9" y1="98.0" x2="647.8" y2="98.0" stroke="#b0102c" stroke-width="1.3" stroke-opacity="1"/>
<line x1="641.8" y1="72.2" x2="641.8" y2="85.1" stroke="#c01430" stroke-width="2.2" stroke-opacity="1"/>
<line x1="641.8" y1="112.2" x2="641.8" y2="136.6" stroke="#c01430" stroke-width="2.2" stroke-opacity="1"/>
<line x1="641.8" y1="85.1" x2="641.8" y2="112.2" stroke="#c01430" stroke-width="1.0" stroke-opacity="0.7"/>
<circle cx="641.8" cy="96.7" r="2.1" fill="#c01430" fill-opacity="1"/>
<rect x="653.7" y="85.1" width="11.9" height="39.9" fill="none" stroke="#d652e6" stroke-width="1.4"/>
<line x1="653.7" y1="112.2" x2="665.6" y2="112.2" stroke="#d652e6" stroke-width="1.3" stroke-opacity="1"/>
<line x1="659.7" y1="72.2" x2="659.7" y2="85.1" stroke="#dc3ce4" stroke-width="2.2" stroke-opacity="1"/>
<line x1="659.7" y1="125.0" x2="659.7" y2="150.8" stroke="#dc3ce4" stroke-width="2.2" stroke-opacity="1"/>
<line x1="659.7" y1="85.1" x2="659.7" y2="125.0" stroke="#dc3ce4" stroke-width="1.0" stroke-opacity="0.7"/>
<circle cx="659.7" cy="109.1" r="2.1" fill="#dc3ce4" fill-opacity="1"/>
<rect x="665.6" y="85.1" width="11.9" height="27.1" fill="none" stroke="#b0102c" stroke-width="1.4"/>
<line x1="665.6" y1="98.0" x2="677.5" y2="98.0" stroke="#b0102c" stroke-width="1.3" stroke-opacity="1"/>
<line x1="671.6" y1="72.2" x2="671.6" y2="85.1" stroke="#c01430" stroke-width="2.2" stroke-opacity="1"/>
<line x1="671.6" y1="112.2" x2="671.6" y2="136.6" stroke="#c01430" stroke-width="2.2" stroke-opacity="1"/>
<line x1="671.6" y1="85.1" x2="671.6" y2="112.2" stroke="#c01430" stroke-width="1.0" stroke-opacity="0.7"/>
<circle cx="671.6" cy="96.7" r="2.1" fill="#c01430" fill-opacity="1"/>
<rect x="683.5" y="85.1" width="11.9" height="25.8" fill="none" stroke="#d652e6" stroke-width="1.4"/>
<line x1="683.5" y1="99.0" x2="695.4" y2="99.0" stroke="#d652e6" stroke-width="1.3" stroke-opacity="1"/>
<line x1="689.4" y1="72.2" x2="689.4" y2="85.1" stroke="#dc3ce4" stroke-width="2.2" stroke-opacity="1"/>
<line x1="689.4" y1="85.1" x2="689.4" y2="110.9" stroke="#dc3ce4" stroke-width="1.0" stroke-opacity="0.7"/>
<circle cx="689.4" cy="99.3" r="2.1" fill="#dc3ce4" fill-opacity="1"/>
<rect x="695.4" y="85.1" width="11.9" height="27.9" fill="none" stroke="#b0102c" stroke-width="1.4"/>
<line x1="695.4" y1="113.0" x2="707.2" y2="113.0" stroke="#b0102c" stroke-width="1.3" stroke-opacity="1"/>
<line x1="701.3" y1="59.3" x2="701.3" y2="85.1" stroke="#c01430" stroke-width="2.2" stroke-opacity="1"/>
<line x1="701.3" y1="113.0" x2="701.3" y2="136.6" stroke="#c01430" stroke-width="2.2" stroke-opacity="1"/>
<line x1="701.3" y1="85.1" x2="701.3" y2="113.0" stroke="#c01430" stroke-width="1.0" stroke-opacity="0.7"/>
<circle cx="701.3" cy="99.8" r="2.1" fill="#c01430" fill-opacity="1"/>
<circle cx="419.0" cy="125.1" r="1.35" fill="#2a2a2a" fill-opacity="0.78"/>
<circle cx="414.2" cy="118.8" r="1.35" fill="#2a2a2a" fill-opacity="0.78"/>
<circle cx="413.1" cy="130.3" r="1.35" fill="#2a2a2a" fill-opacity="0.78"/>
<circle cx="421.0" cy="117.2" r="1.35" fill="#2a2a2a" fill-opacity="0.78"/>
<circle cx="418.0" cy="110.8" r="1.35" fill="#2a2a2a" fill-opacity="0.78"/>
<circle cx="417.1" cy="133.1" r="1.35" fill="#2a2a2a" fill-opacity="0.78"/>
<circle cx="417.2" cy="116.2" r="1.35" fill="#2a2a2a" fill-opacity="0.78"/>
<circle cx="414.8" cy="105.1" r="1.35" fill="#2a2a2a" fill-opacity="0.78"/>
<circle cx="420.4" cy="134.8" r="1.35" fill="#2a2a2a" fill-opacity="0.78"/>
<circle cx="418.4" cy="105.4" r="1.35" fill="#2a2a2a" fill-opacity="0.78"/>
<circle cx="410.6" cy="106.7" r="1.35" fill="#2a2a2a" fill-opacity="0.78"/>
<circle cx="415.4" cy="105.3" r="1.35" fill="#2a2a2a" fill-opacity="0.78"/>
<circle cx="410.6" cy="109.1" r="1.35" fill="#2a2a2a" fill-opacity="0.78"/>
<circle cx="422.0" cy="128.3" r="1.35" fill="#2a2a2a" fill-opacity="0.78"/>
<circle cx="416.1" cy="112.2" r="1.35" fill="#2a2a2a" fill-opacity="0.78"/>
<circle cx="416.7" cy="119.8" r="1.35" fill="#2a2a2a" fill-opacity="0.78"/>
<circle cx="414.8" cy="130.0" r="1.35" fill="#2a2a2a" fill-opacity="0.78"/>
<circle cx="419.4" cy="112.8" r="1.35" fill="#2a2a2a" fill-opacity="0.78"/>
<circle cx="417.3" cy="131.9" r="1.35" fill="#2a2a2a" fill-opacity="0.78"/>
<circle cx="417.0" cy="108.0" r="1.35" fill="#2a2a2a" fill-opacity="0.78"/>
<circle cx="424.6" cy="148.6" r="1.35" fill="#2a2a2a" fill-opacity="0.78"/>
<circle cx="418.9" cy="88.3" r="1.35" fill="#2a2a2a" fill-opacity="0.78"/>
<circle cx="415.2" cy="141.5" r="1.35" fill="#2a2a2a" fill-opacity="0.78"/>
<circle cx="419.3" cy="106.5" r="1.35" fill="#2a2a2a" fill-opacity="0.78"/>
<circle cx="421.4" cy="111.8" r="1.35" fill="#2a2a2a" fill-opacity="0.78"/>
<circle cx="422.1" cy="138.1" r="1.35" fill="#2a2a2a" fill-opacity="0.78"/>
<circle cx="415.8" cy="129.4" r="1.35" fill="#2a2a2a" fill-opacity="0.78"/>
<circle cx="412.6" cy="94.9" r="1.35" fill="#2a2a2a" fill-opacity="0.78"/>
<circle cx="414.4" cy="116.4" r="1.35" fill="#2a2a2a" fill-opacity="0.78"/>
<circle cx="414.4" cy="114.8" r="1.35" fill="#2a2a2a" fill-opacity="0.78"/>
<circle cx="420.4" cy="125.2" r="1.35" fill="#2a2a2a" fill-opacity="0.78"/>
<circle cx="415.3" cy="126.6" r="1.35" fill="#2a2a2a" fill-opacity="0.78"/>
<circle cx="421.7" cy="129.4" r="1.35" fill="#2a2a2a" fill-opacity="0.78"/>
<circle cx="414.6" cy="137.4" r="1.35" fill="#2a2a2a" fill-opacity="0.78"/>
<circle cx="415.4" cy="128.1" r="1.35" fill="#2a2a2a" fill-opacity="0.78"/>
<circle cx="417.7" cy="104.7" r="1.35" fill="#2a2a2a" fill-opacity="0.78"/>
<circle cx="413.8" cy="148.8" r="1.35" fill="#2a2a2a" fill-opacity="0.78"/>
<circle cx="413.7" cy="143.5" r="1.35" fill="#2a2a2a" fill-opacity="0.78"/>
<circle cx="419.3" cy="145.0" r="1.35" fill="#2a2a2a" fill-opacity="0.78"/>
<circle cx="420.0" cy="96.3" r="1.35" fill="#2a2a2a" fill-opacity="0.78"/>
<circle cx="445.7" cy="124.4" r="1.35" fill="#2a2a2a" fill-opacity="0.78"/>
<circle cx="442.8" cy="134.1" r="1.35" fill="#2a2a2a" fill-opacity="0.78"/>
<circle cx="444.2" cy="123.1" r="1.35" fill="#2a2a2a" fill-opacity="0.78"/>
<circle cx="443.7" cy="118.5" r="1.35" fill="#2a2a2a" fill-opacity="0.78"/>
<circle cx="448.6" cy="117.8" r="1.35" fill="#2a2a2a" fill-opacity="0.78"/>
<circle cx="447.5" cy="111.2" r="1.35" fill="#2a2a2a" fill-opacity="0.78"/>
<circle cx="450.2" cy="119.6" r="1.35" fill="#2a2a2a" fill-opacity="0.78"/>
<circle cx="452.1" cy="126.2" r="1.35" fill="#2a2a2a" fill-opacity="0.78"/>
<circle cx="446.3" cy="131.1" r="1.35" fill="#2a2a2a" fill-opacity="0.78"/>
<circle cx="447.2" cy="129.2" r="1.35" fill="#2a2a2a" fill-opacity="0.78"/>
<circle cx="443.1" cy="128.0" r="1.35" fill="#2a2a2a" fill-opacity="0.78"/>
<circle cx="440.3" cy="128.3" r="1.35" fill="#2a2a2a" fill-opacity="0.78"/>
<circle cx="445.4" cy="119.7" r="1.35" fill="#2a2a2a" fill-opacity="0.78"/>
<circle cx="453.8" cy="120.5" r="1.35" fill="#2a2a2a" fill-opacity="0.78"/>
<circle cx="450.0" cy="130.9" r="1.35" fill="#2a2a2a" fill-opacity="0.78"/>
<circle cx="448.1" cy="123.0" r="1.35" fill="#2a2a2a" fill-opacity="0.78"/>
<circle cx="447.6" cy="130.0" r="1.35" fill="#2a2a2a" fill-opacity="0.78"/>
<circle cx="451.0" cy="126.5" r="1.35" fill="#2a2a2a" fill-opacity="0.78"/>
<circle cx="446.8" cy="120.2" r="1.35" fill="#2a2a2a" fill-opacity="0.78"/>
<circle cx="449.5" cy="135.6" r="1.35" fill="#2a2a2a" fill-opacity="0.78"/>
<circle cx="453.3" cy="123.9" r="1.35" fill="#2a2a2a" fill-opacity="0.78"/>
<circle cx="449.6" cy="135.2" r="1.35" fill="#2a2a2a" fill-opacity="0.78"/>
<circle cx="447.3" cy="90.0" r="1.35" fill="#2a2a2a" fill-opacity="0.78"/>
<circle cx="451.5" cy="139.1" r="1.35" fill="#2a2a2a" fill-opacity="0.78"/>
<circle cx="450.6" cy="135.7" r="1.35" fill="#2a2a2a" fill-opacity="0.78"/>
<circle cx="450.7" cy="147.3" r="1.35" fill="#2a2a2a" fill-opacity="0.78"/>
<circle cx="451.2" cy="144.0" r="1.35" fill="#2a2a2a" fill-opacity="0.78"/>
<circle cx="445.5" cy="117.1" r="1.35" fill="#2a2a2a" fill-opacity="0.78"/>
<circle cx="452.2" cy="115.9" r="1.35" fill="#2a2a2a" fill-opacity="0.78"/>
<circle cx="448.1" cy="129.2" r="1.35" fill="#2a2a2a" fill-opacity="0.78"/>
<circle cx="444.3" cy="107.9" r="1.35" fill="#2a2a2a" fill-opacity="0.78"/>
<circle cx="445.0" cy="91.0" r="1.35" fill="#2a2a2a" fill-opacity="0.78"/>
<circle cx="454.3" cy="92.2" r="1.35" fill="#2a2a2a" fill-opacity="0.78"/>
<circle cx="450.9" cy="87.4" r="1.35" fill="#2a2a2a" fill-opacity="0.78"/>
<circle cx="447.0" cy="98.8" r="1.35" fill="#2a2a2a" fill-opacity="0.78"/>
<circle cx="446.8" cy="127.5" r="1.35" fill="#2a2a2a" fill-opacity="0.78"/>
<circle cx="449.8" cy="139.6" r="1.35" fill="#2a2a2a" fill-opacity="0.78"/>
<circle cx="447.4" cy="131.8" r="1.35" fill="#2a2a2a" fill-opacity="0.78"/>
<circle cx="450.0" cy="89.9" r="1.35" fill="#2a2a2a" fill-opacity="0.78"/>
<circle cx="450.9" cy="150.6" r="1.35" fill="#2a2a2a" fill-opacity="0.78"/>
<circle cx="477.8" cy="117.5" r="1.35" fill="#2a2a2a" fill-opacity="0.78"/>
<circle cx="478.8" cy="118.6" r="1.35" fill="#2a2a2a" fill-opacity="0.78"/>
<circle cx="480.9" cy="74.5" r="1.35" fill="#2a2a2a" fill-opacity="0.78"/>
<circle cx="473.2" cy="77.3" r="1.35" fill="#2a2a2a" fill-opacity="0.78"/>
<circle cx="476.6" cy="120.5" r="1.35" fill="#2a2a2a" fill-opacity="0.78"/>
<circle cx="479.7" cy="78.4" r="1.35" fill="#2a2a2a" fill-opacity="0.78"/>
<circle cx="482.1" cy="99.9" r="1.35" fill="#2a2a2a" fill-opacity="0.78"/>
<circle cx="477.9" cy="94.0" r="1.35" fill="#2a2a2a" fill-opacity="0.78"/>
<circle cx="471.3" cy="115.9" r="1.35" fill="#2a2a2a" fill-opacity="0.78"/>
<circle cx="473.7" cy="86.4" r="1.35" fill="#2a2a2a" fill-opacity="0.78"/>
<circle cx="475.2" cy="99.5" r="1.35" fill="#2a2a2a" fill-opacity="0.78"/>
<circle cx="478.5" cy="75.9" r="1.35" fill="#2a2a2a" fill-opacity="0.78"/>
<circle cx="475.6" cy="79.3" r="1.35" fill="#2a2a2a" fill-opacity="0.78"/>
<circle cx="474.6" cy="93.8" r="1.35" fill="#2a2a2a" fill-opacity="0.78"/>
<circle cx="478.0" cy="114.2" r="1.35" fill="#2a2a2a" fill-opacity="0.78"/>
<circle cx="471.4" cy="119.4" r="1.35" fill="#2a2a2a" fill-opacity="0.78"/>
<circle cx="475.5" cy="83.8" r="1.35" fill="#2a2a2a" fill-opacity="0.78"/>
<circle cx="475.2" cy="80.2" r="1.35" fill="#2a2a2a" fill-opacity="0.78"/>
<circle cx="481.3" cy="73.9" r="1.35" fill="#2a2a2a" fill-opacity="0.78"/>
<circle cx="477.9" cy="72.8" r="1.35" fill="#2a2a2a" fill-opacity="0.78"/>
<circle cx="475.2" cy="86.2" r="1.35" fill="#2a2a2a" fill-opacity="0.78"/>
<circle cx="477.3" cy="79.7" r="1.35" fill="#2a2a2a" fill-opacity="0.78"/>
<circle cx="475.9" cy="92.5" r="1.35" fill="#2a2a2a" fill-opacity="0.78"/>
<circle cx="480.7" cy="111.3" r="1.35" fill="#2a2a2a" fill-opacity="0.78"/>
<circle cx="478.1" cy="136.3" r="1.35" fill="#2a2a2a" fill-opacity="0.78"/>
<circle cx="477.0" cy="95.3" r="1.35" fill="#2a2a2a" fill-opacity="0.78"/>
<circle cx="476.1" cy="108.8" r="1.35" fill="#2a2a2a" fill-opacity="0.78"/>
<circle cx="476.0" cy="93.4" r="1.35" fill="#2a2a2a" fill-opacity="0.78"/>
<circle cx="480.4" cy="82.3" r="1.35" fill="#2a2a2a" fill-opacity="0.78"/>
<circle cx="476.8" cy="130.8" r="1.35" fill="#2a2a2a" fill-opacity="0.78"/>
<circle cx="474.7" cy="98.3" r="1.35" fill="#2a2a2a" fill-opacity="0.78"/>
<circle cx="479.9" cy="95.5" r="1.35" fill="#2a2a2a" fill-opacity="0.78"/>
<circle cx="475.8" cy="111.6" r="1.35" fill="#2a2a2a" fill-opacity="0.78"/>
<circle cx="473.1" cy="72.6" r="1.35" fill="#2a2a2a" fill-opacity="0.78"/>
<circle cx="479.8" cy="91.8" r="1.35" fill="#2a2a2a" fill-opacity="0.78"/>
<circle cx="471.3" cy="80.0" r="1.35" fill="#2a2a2a" fill-opacity="0.78"/>
<circle cx="473.3" cy="93.4" r="1.35" fill="#2a2a2a" fill-opacity="0.78"/>
<circle cx="477.5" cy="121.5" r="1.35" fill="#2a2a2a" fill-opacity="0.78"/>
<circle cx="474.8" cy="86.9" r="1.35" fill="#2a2a2a" fill-opacity="0.78"/>
<circle cx="477.7" cy="73.7" r="1.35" fill="#2a2a2a" fill-opacity="0.78"/>
<circle cx="509.0" cy="87.0" r="1.35" fill="#2a2a2a" fill-opacity="0.78"/>
<circle cx="503.9" cy="105.5" r="1.35" fill="#2a2a2a" fill-opacity="0.78"/>
<circle cx="500.8" cy="89.0" r="1.35" fill="#2a2a2a" fill-opacity="0.78"/>
<circle cx="505.0" cy="97.4" r="1.35" fill="#2a2a2a" fill-opacity="0.78"/>
<circle cx="508.8" cy="83.6" r="1.35" fill="#2a2a2a" fill-opacity="0.78"/>
<circle cx="511.4" cy="89.3" r="1.35" fill="#2a2a2a" fill-opacity="0.78"/>
<circle cx="504.3" cy="88.4" r="1.35" fill="#2a2a2a" fill-opacity="0.78"/>
<circle cx="503.2" cy="104.0" r="1.35" fill="#2a2a2a" fill-opacity="0.78"/>
<circle cx="511.1" cy="78.1" r="1.35" fill="#2a2a2a" fill-opacity="0.78"/>
<circle cx="505.7" cy="87.4" r="1.35" fill="#2a2a2a" fill-opacity="0.78"/>
<circle cx="507.7" cy="112.0" r="1.35" fill="#2a2a2a" fill-opacity="0.78"/>
<circle cx="509.9" cy="115.7" r="1.35" fill="#2a2a2a" fill-opacity="0.78"/>
<circle cx="507.9" cy="79.8" r="1.35" fill="#2a2a2a" fill-opacity="0.78"/>
<circle cx="509.6" cy="94.8" r="1.35" fill="#2a2a2a" fill-opacity="0.78"/>
<circle cx="507.3" cy="93.4" r="1.35" fill="#2a2a2a" fill-opacity="0.78"/>
<circle cx="506.4" cy="97.8" r="1.35" fill="#2a2a2a" fill-opacity="0.78"/>
<circle cx="512.1" cy="73.2" r="1.35" fill="#2a2a2a" fill-opacity="0.78"/>
<circle cx="506.0" cy="86.3" r="1.35" fill="#2a2a2a" fill-opacity="0.78"/>
<circle cx="503.5" cy="102.1" r="1.35" fill="#2a2a2a" fill-opacity="0.78"/>
<circle cx="505.5" cy="86.6" r="1.35" fill="#2a2a2a" fill-opacity="0.78"/>
<circle cx="508.7" cy="85.8" r="1.35" fill="#2a2a2a" fill-opacity="0.78"/>
<circle cx="510.0" cy="79.5" r="1.35" fill="#2a2a2a" fill-opacity="0.78"/>
<circle cx="499.8" cy="103.3" r="1.35" fill="#2a2a2a" fill-opacity="0.78"/>
<circle cx="504.9" cy="117.5" r="1.35" fill="#2a2a2a" fill-opacity="0.78"/>
<circle cx="502.2" cy="133.4" r="1.35" fill="#2a2a2a" fill-opacity="0.78"/>
<circle cx="509.7" cy="102.2" r="1.35" fill="#2a2a2a" fill-opacity="0.78"/>
<circle cx="508.6" cy="86.7" r="1.35" fill="#2a2a2a" fill-opacity="0.78"/>
<circle cx="504.1" cy="94.0" r="1.35" fill="#2a2a2a" fill-opacity="0.78"/>
<circle cx="506.8" cy="96.0" r="1.35" fill="#2a2a2a" fill-opacity="0.78"/>
<circle cx="505.5" cy="89.6" r="1.35" fill="#2a2a2a" fill-opacity="0.78"/>
<circle cx="504.7" cy="94.4" r="1.35" fill="#2a2a2a" fill-opacity="0.78"/>
<circle cx="502.3" cy="89.2" r="1.35" fill="#2a2a2a" fill-opacity="0.78"/>
<circle cx="504.2" cy="81.2" r="1.35" fill="#2a2a2a" fill-opacity="0.78"/>
<circle cx="506.0" cy="95.7" r="1.35" fill="#2a2a2a" fill-opacity="0.78"/>
<circle cx="507.7" cy="86.6" r="1.35" fill="#2a2a2a" fill-opacity="0.78"/>
<circle cx="503.9" cy="101.0" r="1.35" fill="#2a2a2a" fill-opacity="0.78"/>
<circle cx="507.3" cy="85.7" r="1.35" fill="#2a2a2a" fill-opacity="0.78"/>
<circle cx="504.4" cy="109.3" r="1.35" fill="#2a2a2a" fill-opacity="0.78"/>
<circle cx="505.7" cy="74.6" r="1.35" fill="#2a2a2a" fill-opacity="0.78"/>
<circle cx="509.8" cy="101.8" r="1.35" fill="#2a2a2a" fill-opacity="0.78"/>
<circle cx="535.6" cy="84.8" r="1.35" fill="#2a2a2a" fill-opacity="0.78"/>
<circle cx="534.0" cy="107.1" r="1.35" fill="#2a2a2a" fill-opacity="0.78"/>
<circle cx="534.1" cy="89.4" r="1.35" fill="#2a2a2a" fill-opacity="0.78"/>
<circle cx="531.1" cy="109.7" r="1.35" fill="#2a2a2a" fill-opacity="0.78"/>
<circle cx="541.4" cy="87.2" r="1.35" fill="#2a2a2a" fill-opacity="0.78"/>
<circle cx="530.7" cy="81.6" r="1.35" fill="#2a2a2a" fill-opacity="0.78"/>
<circle cx="543.4" cy="88.1" r="1.35" fill="#2a2a2a" fill-opacity="0.78"/>
<circle cx="536.5" cy="95.6" r="1.35" fill="#2a2a2a" fill-opacity="0.78"/>
<circle cx="536.6" cy="82.0" r="1.35" fill="#2a2a2a" fill-opacity="0.78"/>
<circle cx="534.0" cy="92.8" r="1.35" fill="#2a2a2a" fill-opacity="0.78"/>
<circle cx="533.1" cy="82.9" r="1.35" fill="#2a2a2a" fill-opacity="0.78"/>
<circle cx="534.9" cy="110.6" r="1.35" fill="#2a2a2a" fill-opacity="0.78"/>
<circle cx="539.1" cy="103.8" r="1.35" fill="#2a2a2a" fill-opacity="0.78"/>
<circle cx="533.2" cy="83.5" r="1.35" fill="#2a2a2a" fill-opacity="0.78"/>
<circle cx="529.5" cy="102.2" r="1.35" fill="#2a2a2a" fill-opacity="0.78"/>
<circle cx="533.6" cy="82.5" r="1.35" fill="#2a2a2a" fill-opacity="0.78"/>
<circle cx="535.2" cy="96.7" r="1.35" fill="#2a2a2a" fill-opacity="0.78"/>
<circle cx="536.5" cy="81.2" r="1.35" fill="#2a2a2a" fill-opacity="0.78"/>
<circle cx="539.4" cy="93.1" r="1.35" fill="#2a2a2a" fill-opacity="0.78"/>
<circle cx="537.9" cy="86.1" r="1.35" fill="#2a2a2a" fill-opacity="0.78"/>
<circle cx="537.1" cy="74.4" r="1.35" fill="#2a2a2a" fill-opacity="0.78"/>
<circle cx="534.5" cy="107.5" r="1.35" fill="#2a2a2a" fill-opacity="0.78"/>
<circle cx="536.7" cy="122.3" r="1.35" fill="#2a2a2a" fill-opacity="0.78"/>
<circle cx="530.6" cy="96.8" r="1.35" fill="#2a2a2a" fill-opacity="0.78"/>
<circle cx="536.2" cy="106.3" r="1.35" fill="#2a2a2a" fill-opacity="0.78"/>
<circle cx="535.1" cy="106.3" r="1.35" fill="#2a2a2a" fill-opacity="0.78"/>
<circle cx="539.1" cy="122.0" r="1.35" fill="#2a2a2a" fill-opacity="0.78"/>
<circle cx="531.9" cy="118.8" r="1.35" fill="#2a2a2a" fill-opacity="0.78"/>
<circle cx="538.9" cy="88.2" r="1.35" fill="#2a2a2a" fill-opacity="0.78"/>
<circle cx="533.0" cy="113.7" r="1.35" fill="#2a2a2a" fill-opacity="0.78"/>
<circle cx="539.9" cy="95.3" r="1.35" fill="#2a2a2a" fill-opacity="0.78"/>
<circle cx="543.5" cy="103.6" r="1.35" fill="#2a2a2a" fill-opacity="0.78"/>
<circle cx="533.3" cy="105.7" r="1.35" fill="#2a2a2a" fill-opacity="0.78"/>
<circle cx="530.4" cy="104.6" r="1.35" fill="#2a2a2a" fill-opacity="0.78"/>
<circle cx="541.1" cy="112.8" r="1.35" fill="#2a2a2a" fill-opacity="0.78"/>
<circle cx="539.1" cy="74.5" r="1.35" fill="#2a2a2a" fill-opacity="0.78"/>
<circle cx="537.2" cy="91.4" r="1.35" fill="#2a2a2a" fill-opacity="0.78"/>
<circle cx="540.5" cy="98.3" r="1.35" fill="#2a2a2a" fill-opacity="0.78"/>
<circle cx="537.2" cy="99.2" r="1.35" fill="#2a2a2a" fill-opacity="0.78"/>
<circle cx="537.9" cy="108.1" r="1.35" fill="#2a2a2a" fill-opacity="0.78"/>
<circle cx="574.1" cy="129.0" r="1.35" fill="#2a2a2a" fill-opacity="0.78"/>
<circle cx="572.4" cy="163.2" r="1.35" fill="#2a2a2a" fill-opacity="0.78"/>
<circle cx="579.6" cy="108.8" r="1.35" fill="#2a2a2a" fill-opacity="0.78"/>
<circle cx="582.4" cy="118.8" r="1.35" fill="#2a2a2a" fill-opacity="0.78"/>
<circle cx="581.1" cy="126.0" r="1.35" fill="#2a2a2a" fill-opacity="0.78"/>
<circle cx="580.6" cy="122.2" r="1.35" fill="#2a2a2a" fill-opacity="0.78"/>
<circle cx="576.9" cy="129.2" r="1.35" fill="#2a2a2a" fill-opacity="0.78"/>
<circle cx="573.2" cy="120.0" r="1.35" fill="#2a2a2a" fill-opacity="0.78"/>
<circle cx="576.7" cy="115.9" r="1.35" fill="#2a2a2a" fill-opacity="0.78"/>
<circle cx="575.9" cy="135.4" r="1.35" fill="#2a2a2a" fill-opacity="0.78"/>
<circle cx="577.6" cy="125.9" r="1.35" fill="#2a2a2a" fill-opacity="0.78"/>
<circle cx="578.9" cy="143.1" r="1.35" fill="#2a2a2a" fill-opacity="0.78"/>
<circle cx="573.5" cy="133.4" r="1.35" fill="#2a2a2a" fill-opacity="0.78"/>
<circle cx="571.8" cy="116.0" r="1.35" fill="#2a2a2a" fill-opacity="0.78"/>
<circle cx="574.8" cy="93.3" r="1.35" fill="#2a2a2a" fill-opacity="0.78"/>
<circle cx="579.9" cy="160.2" r="1.35" fill="#2a2a2a" fill-opacity="0.78"/>
<circle cx="576.2" cy="156.6" r="1.35" fill="#2a2a2a" fill-opacity="0.78"/>
<circle cx="577.2" cy="115.3" r="1.35" fill="#2a2a2a" fill-opacity="0.78"/>
<circle cx="577.8" cy="123.0" r="1.35" fill="#2a2a2a" fill-opacity="0.78"/>
<circle cx="575.9" cy="145.9" r="1.35" fill="#2a2a2a" fill-opacity="0.78"/>
<circle cx="576.3" cy="137.1" r="1.35" fill="#2a2a2a" fill-opacity="0.78"/>
<circle cx="578.5" cy="128.2" r="1.35" fill="#2a2a2a" fill-opacity="0.78"/>
<circle cx="570.9" cy="105.7" r="1.35" fill="#2a2a2a" fill-opacity="0.78"/>
<circle cx="577.4" cy="148.6" r="1.35" fill="#2a2a2a" fill-opacity="0.78"/>
<circle cx="569.4" cy="136.9" r="1.35" fill="#2a2a2a" fill-opacity="0.78"/>
<circle cx="576.3" cy="131.8" r="1.35" fill="#2a2a2a" fill-opacity="0.78"/>
<circle cx="583.4" cy="129.2" r="1.35" fill="#2a2a2a" fill-opacity="0.78"/>
<circle cx="573.1" cy="125.3" r="1.35" fill="#2a2a2a" fill-opacity="0.78"/>
<circle cx="579.9" cy="142.6" r="1.35" fill="#2a2a2a" fill-opacity="0.78"/>
<circle cx="575.0" cy="104.8" r="1.35" fill="#2a2a2a" fill-opacity="0.78"/>
<circle cx="583.4" cy="119.2" r="1.35" fill="#2a2a2a" fill-opacity="0.78"/>
<circle cx="577.7" cy="132.6" r="1.35" fill="#2a2a2a" fill-opacity="0.78"/>
<circle cx="581.6" cy="111.1" r="1.35" fill="#2a2a2a" fill-opacity="0.78"/>
<circle cx="578.3" cy="119.5" r="1.35" fill="#2a2a2a" fill-opacity="0.78"/>
<circle cx="578.7" cy="117.5" r="1.35" fill="#2a2a2a" fill-opacity="0.78"/>
<circle cx="574.6" cy="105.8" r="1.35" fill="#2a2a2a" fill-opacity="0.78"/>
<circle cx="580.0" cy="140.5" r="1.35" fill="#2a2a2a" fill-opacity="0.78"/>
<circle cx="576.4" cy="142.0" r="1.35" fill="#2a2a2a" fill-opacity="0.78"/>
<circle cx="574.8" cy="143.4" r="1.35" fill="#2a2a2a" fill-opacity="0.78"/>
<circle cx="572.0" cy="140.7" r="1.35" fill="#2a2a2a" fill-opacity="0.78"/>
<circle cx="608.9" cy="118.8" r="1.35" fill="#2a2a2a" fill-opacity="0.78"/>
<circle cx="605.2" cy="110.2" r="1.35" fill="#2a2a2a" fill-opacity="0.78"/>
<circle cx="608.0" cy="137.6" r="1.35" fill="#2a2a2a" fill-opacity="0.78"/>
<circle cx="602.7" cy="128.3" r="1.35" fill="#2a2a2a" fill-opacity="0.78"/>
<circle cx="609.4" cy="127.8" r="1.35" fill="#2a2a2a" fill-opacity="0.78"/>
<circle cx="603.4" cy="137.9" r="1.35" fill="#2a2a2a" fill-opacity="0.78"/>
<circle cx="603.3" cy="88.1" r="1.35" fill="#2a2a2a" fill-opacity="0.78"/>
<circle cx="601.4" cy="137.9" r="1.35" fill="#2a2a2a" fill-opacity="0.78"/>
<circle cx="607.5" cy="121.7" r="1.35" fill="#2a2a2a" fill-opacity="0.78"/>
<circle cx="602.5" cy="127.4" r="1.35" fill="#2a2a2a" fill-opacity="0.78"/>
<circle cx="604.3" cy="128.1" r="1.35" fill="#2a2a2a" fill-opacity="0.78"/>
<circle cx="599.8" cy="127.2" r="1.35" fill="#2a2a2a" fill-opacity="0.78"/>
<circle cx="601.8" cy="123.9" r="1.35" fill="#2a2a2a" fill-opacity="0.78"/>
<circle cx="604.0" cy="137.9" r="1.35" fill="#2a2a2a" fill-opacity="0.78"/>
<circle cx="611.1" cy="137.9" r="1.35" fill="#2a2a2a" fill-opacity="0.78"/>
<circle cx="609.9" cy="137.9" r="1.35" fill="#2a2a2a" fill-opacity="0.78"/>
<circle cx="605.9" cy="133.7" r="1.35" fill="#2a2a2a" fill-opacity="0.78"/>
<circle cx="608.9" cy="109.9" r="1.35" fill="#2a2a2a" fill-opacity="0.78"/>
<circle cx="600.9" cy="111.4" r="1.35" fill="#2a2a2a" fill-opacity="0.78"/>
<circle cx="605.5" cy="134.5" r="1.35" fill="#2a2a2a" fill-opacity="0.78"/>
<circle cx="603.7" cy="130.3" r="1.35" fill="#2a2a2a" fill-opacity="0.78"/>
<circle cx="607.0" cy="109.2" r="1.35" fill="#2a2a2a" fill-opacity="0.78"/>
<circle cx="608.6" cy="98.9" r="1.35" fill="#2a2a2a" fill-opacity="0.78"/>
<circle cx="603.6" cy="108.2" r="1.35" fill="#2a2a2a" fill-opacity="0.78"/>
<circle cx="606.2" cy="134.9" r="1.35" fill="#2a2a2a" fill-opacity="0.78"/>
<circle cx="611.0" cy="131.4" r="1.35" fill="#2a2a2a" fill-opacity="0.78"/>
<circle cx="602.8" cy="116.1" r="1.35" fill="#2a2a2a" fill-opacity="0.78"/>
<circle cx="602.4" cy="111.4" r="1.35" fill="#2a2a2a" fill-opacity="0.78"/>
<circle cx="611.5" cy="126.4" r="1.35" fill="#2a2a2a" fill-opacity="0.78"/>
<circle cx="608.8" cy="116.4" r="1.35" fill="#2a2a2a" fill-opacity="0.78"/>
<circle cx="602.4" cy="125.8" r="1.35" fill="#2a2a2a" fill-opacity="0.78"/>
<circle cx="601.5" cy="127.4" r="1.35" fill="#2a2a2a" fill-opacity="0.78"/>
<circle cx="601.2" cy="100.5" r="1.35" fill="#2a2a2a" fill-opacity="0.78"/>
<circle cx="609.1" cy="103.6" r="1.35" fill="#2a2a2a" fill-opacity="0.78"/>
<circle cx="606.4" cy="119.8" r="1.35" fill="#2a2a2a" fill-opacity="0.78"/>
<circle cx="605.4" cy="119.4" r="1.35" fill="#2a2a2a" fill-opacity="0.78"/>
<circle cx="604.1" cy="120.7" r="1.35" fill="#2a2a2a" fill-opacity="0.78"/>
<circle cx="612.0" cy="112.7" r="1.35" fill="#2a2a2a" fill-opacity="0.78"/>
<circle cx="611.3" cy="102.6" r="1.35" fill="#2a2a2a" fill-opacity="0.78"/>
<circle cx="604.2" cy="124.9" r="1.35" fill="#2a2a2a" fill-opacity="0.78"/>
<circle cx="630.8" cy="106.4" r="1.35" fill="#2a2a2a" fill-opacity="0.78"/>
<circle cx="633.5" cy="101.9" r="1.35" fill="#2a2a2a" fill-opacity="0.78"/>
<circle cx="633.3" cy="135.6" r="1.35" fill="#2a2a2a" fill-opacity="0.78"/>
<circle cx="638.7" cy="111.7" r="1.35" fill="#2a2a2a" fill-opacity="0.78"/>
<circle cx="634.8" cy="78.3" r="1.35" fill="#2a2a2a" fill-opacity="0.78"/>
<circle cx="637.7" cy="79.5" r="1.35" fill="#2a2a2a" fill-opacity="0.78"/>
<circle cx="633.9" cy="142.5" r="1.35" fill="#2a2a2a" fill-opacity="0.78"/>
<circle cx="631.7" cy="123.2" r="1.35" fill="#2a2a2a" fill-opacity="0.78"/>
<circle cx="639.4" cy="83.8" r="1.35" fill="#2a2a2a" fill-opacity="0.78"/>
<circle cx="635.2" cy="109.3" r="1.35" fill="#2a2a2a" fill-opacity="0.78"/>
<circle cx="639.3" cy="132.6" r="1.35" fill="#2a2a2a" fill-opacity="0.78"/>
<circle cx="636.0" cy="89.5" r="1.35" fill="#2a2a2a" fill-opacity="0.78"/>
<circle cx="639.2" cy="122.2" r="1.35" fill="#2a2a2a" fill-opacity="0.78"/>
<circle cx="632.5" cy="109.4" r="1.35" fill="#2a2a2a" fill-opacity="0.78"/>
<circle cx="641.0" cy="140.2" r="1.35" fill="#2a2a2a" fill-opacity="0.78"/>
<circle cx="637.0" cy="74.8" r="1.35" fill="#2a2a2a" fill-opacity="0.78"/>
<circle cx="635.0" cy="108.1" r="1.35" fill="#2a2a2a" fill-opacity="0.78"/>
<circle cx="631.9" cy="89.5" r="1.35" fill="#2a2a2a" fill-opacity="0.78"/>
<circle cx="641.7" cy="125.6" r="1.35" fill="#2a2a2a" fill-opacity="0.78"/>
<circle cx="633.5" cy="84.3" r="1.35" fill="#2a2a2a" fill-opacity="0.78"/>
<circle cx="638.7" cy="103.3" r="1.35" fill="#2a2a2a" fill-opacity="0.78"/>
<circle cx="642.9" cy="84.7" r="1.35" fill="#2a2a2a" fill-opacity="0.78"/>
<circle cx="634.3" cy="107.6" r="1.35" fill="#2a2a2a" fill-opacity="0.78"/>
<circle cx="637.1" cy="81.2" r="1.35" fill="#2a2a2a" fill-opacity="0.78"/>
<circle cx="635.8" cy="96.0" r="1.35" fill="#2a2a2a" fill-opacity="0.78"/>
<circle cx="638.1" cy="75.0" r="1.35" fill="#2a2a2a" fill-opacity="0.78"/>
<circle cx="635.7" cy="89.0" r="1.35" fill="#2a2a2a" fill-opacity="0.78"/>
<circle cx="637.6" cy="105.2" r="1.35" fill="#2a2a2a" fill-opacity="0.78"/>
<circle cx="636.8" cy="80.2" r="1.35" fill="#2a2a2a" fill-opacity="0.78"/>
<circle cx="637.9" cy="75.5" r="1.35" fill="#2a2a2a" fill-opacity="0.78"/>
<circle cx="630.9" cy="115.1" r="1.35" fill="#2a2a2a" fill-opacity="0.78"/>
<circle cx="640.9" cy="85.5" r="1.35" fill="#2a2a2a" fill-opacity="0.78"/>
<circle cx="629.7" cy="112.8" r="1.35" fill="#2a2a2a" fill-opacity="0.78"/>
<circle cx="634.3" cy="99.6" r="1.35" fill="#2a2a2a" fill-opacity="0.78"/>
<circle cx="635.5" cy="119.6" r="1.35" fill="#2a2a2a" fill-opacity="0.78"/>
<circle cx="634.3" cy="73.8" r="1.35" fill="#2a2a2a" fill-opacity="0.78"/>
<circle cx="635.1" cy="99.0" r="1.35" fill="#2a2a2a" fill-opacity="0.78"/>
<circle cx="635.9" cy="106.2" r="1.35" fill="#2a2a2a" fill-opacity="0.78"/>
<circle cx="639.3" cy="91.0" r="1.35" fill="#2a2a2a" fill-opacity="0.78"/>
<circle cx="629.6" cy="100.2" r="1.35" fill="#2a2a2a" fill-opacity="0.78"/>
<circle cx="667.2" cy="119.0" r="1.35" fill="#2a2a2a" fill-opacity="0.78"/>
<circle cx="662.3" cy="123.8" r="1.35" fill="#2a2a2a" fill-opacity="0.78"/>
<circle cx="665.1" cy="83.3" r="1.35" fill="#2a2a2a" fill-opacity="0.78"/>
<circle cx="667.5" cy="135.7" r="1.35" fill="#2a2a2a" fill-opacity="0.78"/>
<circle cx="665.7" cy="143.9" r="1.35" fill="#2a2a2a" fill-opacity="0.78"/>
<circle cx="664.8" cy="74.2" r="1.35" fill="#2a2a2a" fill-opacity="0.78"/>
<circle cx="665.4" cy="97.1" r="1.35" fill="#2a2a2a" fill-opacity="0.78"/>
<circle cx="666.2" cy="141.6" r="1.35" fill="#2a2a2a" fill-opacity="0.78"/>
<circle cx="664.8" cy="88.2" r="1.35" fill="#2a2a2a" fill-opacity="0.78"/>
<circle cx="668.2" cy="89.6" r="1.35" fill="#2a2a2a" fill-opacity="0.78"/>
<circle cx="664.2" cy="111.2" r="1.35" fill="#2a2a2a" fill-opacity="0.78"/>
<circle cx="662.1" cy="149.4" r="1.35" fill="#2a2a2a" fill-opacity="0.78"/>
<circle cx="664.0" cy="135.2" r="1.35" fill="#2a2a2a" fill-opacity="0.78"/>
<circle cx="665.4" cy="114.6" r="1.35" fill="#2a2a2a" fill-opacity="0.78"/>
<circle cx="668.8" cy="104.1" r="1.35" fill="#2a2a2a" fill-opacity="0.78"/>
<circle cx="664.6" cy="102.3" r="1.35" fill="#2a2a2a" fill-opacity="0.78"/>
<circle cx="665.9" cy="126.6" r="1.35" fill="#2a2a2a" fill-opacity="0.78"/>
<circle cx="663.7" cy="79.3" r="1.35" fill="#2a2a2a" fill-opacity="0.78"/>
<circle cx="667.0" cy="99.9" r="1.35" fill="#2a2a2a" fill-opacity="0.78"/>
<circle cx="666.3" cy="104.4" r="1.35" fill="#2a2a2a" fill-opacity="0.78"/>
<circle cx="671.0" cy="85.3" r="1.35" fill="#2a2a2a" fill-opacity="0.78"/>
<circle cx="670.0" cy="111.3" r="1.35" fill="#2a2a2a" fill-opacity="0.78"/>
<circle cx="665.8" cy="121.1" r="1.35" fill="#2a2a2a" fill-opacity="0.78"/>
<circle cx="664.2" cy="77.0" r="1.35" fill="#2a2a2a" fill-opacity="0.78"/>
<circle cx="669.9" cy="76.3" r="1.35" fill="#2a2a2a" fill-opacity="0.78"/>
<circle cx="665.6" cy="99.1" r="1.35" fill="#2a2a2a" fill-opacity="0.78"/>
<circle cx="664.5" cy="91.9" r="1.35" fill="#2a2a2a" fill-opacity="0.78"/>
<circle cx="659.8" cy="106.7" r="1.35" fill="#2a2a2a" fill-opacity="0.78"/>
<circle cx="668.6" cy="92.8" r="1.35" fill="#2a2a2a" fill-opacity="0.78"/>
<circle cx="671.8" cy="73.3" r="1.35" fill="#2a2a2a" fill-opacity="0.78"/>
<circle cx="665.0" cy="93.7" r="1.35" fill="#2a2a2a" fill-opacity="0.78"/>
<circle cx="664.9" cy="131.4" r="1.35" fill="#2a2a2a" fill-opacity="0.78"/>
<circle cx="664.7" cy="113.4" r="1.35" fill="#2a2a2a" fill-opacity="0.78"/>
<circle cx="669.8" cy="79.3" r="1.35" fill="#2a2a2a" fill-opacity="0.78"/>
<circle cx="663.5" cy="110.4" r="1.35" fill="#2a2a2a" fill-opacity="0.78"/>
<circle cx="671.0" cy="126.3" r="1.35" fill="#2a2a2a" fill-opacity="0.78"/>
<circle cx="665.8" cy="103.5" r="1.35" fill="#2a2a2a" fill-opacity="0.78"/>
<circle cx="670.7" cy="134.6" r="1.35" fill="#2a2a2a" fill-opacity="0.78"/>
<circle cx="668.2" cy="105.5" r="1.35" fill="#2a2a2a" fill-opacity="0.78"/>
<circle cx="664.1" cy="97.2" r="1.35" fill="#2a2a2a" fill-opacity="0.78"/>
<circle cx="696.0" cy="104.1" r="1.35" fill="#2a2a2a" fill-opacity="0.78"/>
<circle cx="697.8" cy="88.1" r="1.35" fill="#2a2a2a" fill-opacity="0.78"/>
<circle cx="691.1" cy="73.7" r="1.35" fill="#2a2a2a" fill-opacity="0.78"/>
<circle cx="699.4" cy="93.1" r="1.35" fill="#2a2a2a" fill-opacity="0.78"/>
<circle cx="694.1" cy="110.9" r="1.35" fill="#2a2a2a" fill-opacity="0.78"/>
<circle cx="696.3" cy="98.9" r="1.35" fill="#2a2a2a" fill-opacity="0.78"/>
<circle cx="693.9" cy="110.9" r="1.35" fill="#2a2a2a" fill-opacity="0.78"/>
<circle cx="691.8" cy="96.2" r="1.35" fill="#2a2a2a" fill-opacity="0.78"/>
<circle cx="698.8" cy="110.9" r="1.35" fill="#2a2a2a" fill-opacity="0.78"/>
<circle cx="695.6" cy="77.2" r="1.35" fill="#2a2a2a" fill-opacity="0.78"/>
<circle cx="693.8" cy="74.3" r="1.35" fill="#2a2a2a" fill-opacity="0.78"/>
<circle cx="694.2" cy="74.8" r="1.35" fill="#2a2a2a" fill-opacity="0.78"/>
<circle cx="697.0" cy="100.4" r="1.35" fill="#2a2a2a" fill-opacity="0.78"/>
<circle cx="689.7" cy="77.2" r="1.35" fill="#2a2a2a" fill-opacity="0.78"/>
<circle cx="692.5" cy="100.2" r="1.35" fill="#2a2a2a" fill-opacity="0.78"/>
<circle cx="692.9" cy="110.4" r="1.35" fill="#2a2a2a" fill-opacity="0.78"/>
<circle cx="699.9" cy="91.8" r="1.35" fill="#2a2a2a" fill-opacity="0.78"/>
<circle cx="695.3" cy="79.6" r="1.35" fill="#2a2a2a" fill-opacity="0.78"/>
<circle cx="696.6" cy="110.9" r="1.35" fill="#2a2a2a" fill-opacity="0.78"/>
<circle cx="692.2" cy="77.8" r="1.35" fill="#2a2a2a" fill-opacity="0.78"/>
<circle cx="692.5" cy="134.5" r="1.35" fill="#2a2a2a" fill-opacity="0.78"/>
<circle cx="696.0" cy="98.7" r="1.35" fill="#2a2a2a" fill-opacity="0.78"/>
<circle cx="700.8" cy="93.7" r="1.35" fill="#2a2a2a" fill-opacity="0.78"/>
<circle cx="694.0" cy="113.8" r="1.35" fill="#2a2a2a" fill-opacity="0.78"/>
<circle cx="691.3" cy="67.9" r="1.35" fill="#2a2a2a" fill-opacity="0.78"/>
<circle cx="695.9" cy="111.6" r="1.35" fill="#2a2a2a" fill-opacity="0.78"/>
<circle cx="689.4" cy="107.0" r="1.35" fill="#2a2a2a" fill-opacity="0.78"/>
<circle cx="690.9" cy="90.7" r="1.35" fill="#2a2a2a" fill-opacity="0.78"/>
<circle cx="694.4" cy="106.4" r="1.35" fill="#2a2a2a" fill-opacity="0.78"/>
<circle cx="699.8" cy="82.5" r="1.35" fill="#2a2a2a" fill-opacity="0.78"/>
<circle cx="693.0" cy="111.6" r="1.35" fill="#2a2a2a" fill-opacity="0.78"/>
<circle cx="698.7" cy="66.8" r="1.35" fill="#2a2a2a" fill-opacity="0.78"/>
<circle cx="691.2" cy="92.1" r="1.35" fill="#2a2a2a" fill-opacity="0.78"/>
<circle cx="695.3" cy="100.1" r="1.35" fill="#2a2a2a" fill-opacity="0.78"/>
<circle cx="698.1" cy="88.8" r="1.35" fill="#2a2a2a" fill-opacity="0.78"/>
<circle cx="694.8" cy="92.7" r="1.35" fill="#2a2a2a" fill-opacity="0.78"/>
<circle cx="697.9" cy="81.8" r="1.35" fill="#2a2a2a" fill-opacity="0.78"/>
<circle cx="698.1" cy="109.1" r="1.35" fill="#2a2a2a" fill-opacity="0.78"/>
<circle cx="691.8" cy="78.2" r="1.35" fill="#2a2a2a" fill-opacity="0.78"/>
<circle cx="700.3" cy="76.3" r="1.35" fill="#2a2a2a" fill-opacity="0.78"/>
<text transform="translate(5.54,214.50) scale(0.85,1)" font-size="19.3" font-weight="bold" fill="#000" stroke="#000" stroke-width="0.38">C</text>
<text x="41.2" y="208.8" font-size="9.50" text-anchor="start" font-weight="normal" fill="#000" stroke="#000" stroke-width="0.30" >IgA to N protein</text>
<text x="55.5" y="227.5" font-size="8.30" text-anchor="start" font-weight="normal" fill="#000" stroke="#000" stroke-width="0.30" >early_1_to_5_days.1_late_2</text>
<rect x="164.5" y="220.7" width="10.0" height="7.5" fill="none" stroke="#d652e6" stroke-width="1.3"/>
<line x1="164.5" y1="224.5" x2="174.5" y2="224.5" stroke="#d652e6" stroke-width="1" stroke-opacity="1"/>
<line x1="169.5" y1="218.7" x2="169.5" y2="229.3" stroke="#dc3ce4" stroke-width="1.2" stroke-opacity="1"/>
<circle cx="169.5" cy="224.5" r="1.8" fill="#dc3ce4" fill-opacity="1"/>
<text x="179.5" y="227.5" font-size="6.60" text-anchor="start" font-weight="normal" fill="#000" stroke="#000" stroke-width="0.08" >Early infusion (2-5 days)</text>
<rect x="255.5" y="220.7" width="10.0" height="7.5" fill="none" stroke="#b0102c" stroke-width="1.3"/>
<line x1="255.5" y1="224.5" x2="265.5" y2="224.5" stroke="#b0102c" stroke-width="1" stroke-opacity="1"/>
<line x1="260.5" y1="218.7" x2="260.5" y2="229.3" stroke="#c01430" stroke-width="1.2" stroke-opacity="1"/>
<circle cx="260.5" cy="224.5" r="1.8" fill="#c01430" fill-opacity="1"/>
<text x="270.5" y="227.5" font-size="6.60" text-anchor="start" font-weight="normal" fill="#000" stroke="#000" stroke-width="0.08" >Late infusion (6-9 days)</text>
<rect x="41.2" y="242.0" width="154.9" height="12.9" fill="#e9e9e9" stroke="#4a4a4a" stroke-width="1.2"/>
<text x="118.7" y="251.0" font-size="6.60" text-anchor="middle" font-weight="normal" fill="#000" stroke="#000" stroke-width="0.06" >Control</text>
<line x1="41.2" y1="370.5" x2="196.2" y2="370.5" stroke="#444" stroke-width="1.0" stroke-opacity="1"/>
<rect x="199.6" y="242.0" width="154.9" height="12.9" fill="#e9e9e9" stroke="#4a4a4a" stroke-width="1.2"/>
<text x="277.1" y="251.0" font-size="6.60" text-anchor="middle" font-weight="normal" fill="#000" stroke="#000" stroke-width="0.06" >Convalescent</text>
<line x1="199.6" y1="370.5" x2="354.5" y2="370.5" stroke="#444" stroke-width="1.0" stroke-opacity="1"/>
<line x1="41.5" y1="254.9" x2="41.5" y2="370.8" stroke="#444" stroke-width="1.0" stroke-opacity="1"/>
<line x1="39.0" y1="270.8" x2="41.5" y2="270.8" stroke="#444" stroke-width="1.0" stroke-opacity="1"/>
<text x="38.0" y="274.4" font-size="8.40" text-anchor="end" font-weight="normal" fill="#000" stroke="#000" stroke-width="0.30" >4</text>
<line x1="39.0" y1="310.8" x2="41.5" y2="310.8" stroke="#444" stroke-width="1.0" stroke-opacity="1"/>
<text x="38.0" y="314.4" font-size="8.40" text-anchor="end" font-weight="normal" fill="#000" stroke="#000" stroke-width="0.30" >2</text>
<line x1="39.0" y1="351.1" x2="41.5" y2="351.1" stroke="#444" stroke-width="1.0" stroke-opacity="1"/>
<text x="38.0" y="354.7" font-size="8.40" text-anchor="end" font-weight="normal" fill="#000" stroke="#000" stroke-width="0.30" >0</text>
<text transform="translate(8.8,308.4) rotate(-90)" font-size="8.30" text-anchor="middle" fill="#000" stroke="#000" stroke-width="0.05">ELISA titers ( log<tspan font-size="5.5" dy="2">10</tspan><tspan dy="-2"> )</tspan></text>
<text x="197.5" y="391.5" font-size="8.10" text-anchor="middle" font-weight="normal" fill="#000" stroke="#000" stroke-width="0.30" >Days post plasma infusion</text>
<line x1="59.1" y1="370.8" x2="59.1" y2="373.3" stroke="#3a3a3a" stroke-width="1.0" stroke-opacity="1"/>
<text x="59.1" y="381.9" font-size="8.20" text-anchor="middle" font-weight="normal" fill="#000" stroke="#000" stroke-width="0.30" >-1</text>
<text x="59.1" y="262.5" font-size="7.20" text-anchor="middle" font-weight="normal" fill="#000" stroke="#000" stroke-width="0.12" >ns</text>
<line x1="88.9" y1="370.8" x2="88.9" y2="373.3" stroke="#3a3a3a" stroke-width="1.0" stroke-opacity="1"/>
<text x="88.9" y="381.9" font-size="8.20" text-anchor="middle" font-weight="normal" fill="#000" stroke="#000" stroke-width="0.30" >0</text>
<text x="88.9" y="262.5" font-size="7.20" text-anchor="middle" font-weight="normal" fill="#000" stroke="#000" stroke-width="0.12" >ns</text>
<line x1="118.7" y1="370.8" x2="118.7" y2="373.3" stroke="#3a3a3a" stroke-width="1.0" stroke-opacity="1"/>
<text x="118.7" y="381.9" font-size="8.20" text-anchor="middle" font-weight="normal" fill="#000" stroke="#000" stroke-width="0.30" >14</text>
<text x="118.7" y="262.5" font-size="7.20" text-anchor="middle" font-weight="normal" fill="#000" stroke="#000" stroke-width="0.12" >ns</text>
<line x1="148.5" y1="370.8" x2="148.5" y2="373.3" stroke="#3a3a3a" stroke-width="1.0" stroke-opacity="1"/>
<text x="148.5" y="381.9" font-size="8.20" text-anchor="middle" font-weight="normal" fill="#000" stroke="#000" stroke-width="0.30" >28</text>
<text x="148.5" y="262.5" font-size="7.20" text-anchor="middle" font-weight="normal" fill="#000" stroke="#000" stroke-width="0.12" >ns</text>
<line x1="178.3" y1="370.8" x2="178.3" y2="373.3" stroke="#3a3a3a" stroke-width="1.0" stroke-opacity="1"/>
<text x="178.3" y="381.9" font-size="8.20" text-anchor="middle" font-weight="normal" fill="#000" stroke="#000" stroke-width="0.30" >90</text>
<text x="178.3" y="262.5" font-size="7.20" text-anchor="middle" font-weight="normal" fill="#000" stroke="#000" stroke-width="0.12" >ns</text>
<line x1="217.5" y1="370.8" x2="217.5" y2="373.3" stroke="#3a3a3a" stroke-width="1.0" stroke-opacity="1"/>
<text x="217.5" y="381.9" font-size="8.20" text-anchor="middle" font-weight="normal" fill="#000" stroke="#000" stroke-width="0.30" >-1</text>
<text x="217.5" y="262.5" font-size="7.20" text-anchor="middle" font-weight="normal" fill="#000" stroke="#000" stroke-width="0.12" >ns</text>
<line x1="247.3" y1="370.8" x2="247.3" y2="373.3" stroke="#3a3a3a" stroke-width="1.0" stroke-opacity="1"/>
<text x="247.3" y="381.9" font-size="8.20" text-anchor="middle" font-weight="normal" fill="#000" stroke="#000" stroke-width="0.30" >0</text>
<text x="247.3" y="262.5" font-size="7.20" text-anchor="middle" font-weight="normal" fill="#000" stroke="#000" stroke-width="0.12" >ns</text>
<line x1="277.1" y1="370.8" x2="277.1" y2="373.3" stroke="#3a3a3a" stroke-width="1.0" stroke-opacity="1"/>
<text x="277.1" y="381.9" font-size="8.20" text-anchor="middle" font-weight="normal" fill="#000" stroke="#000" stroke-width="0.30" >14</text>
<text x="277.1" y="262.5" font-size="7.20" text-anchor="middle" font-weight="normal" fill="#000" stroke="#000" stroke-width="0.12" >ns</text>
<line x1="306.8" y1="370.8" x2="306.8" y2="373.3" stroke="#3a3a3a" stroke-width="1.0" stroke-opacity="1"/>
<text x="306.8" y="381.9" font-size="8.20" text-anchor="middle" font-weight="normal" fill="#000" stroke="#000" stroke-width="0.30" >28</text>
<text x="306.8" y="262.5" font-size="7.20" text-anchor="middle" font-weight="normal" fill="#000" stroke="#000" stroke-width="0.12" >ns</text>
<line x1="336.6" y1="370.8" x2="336.6" y2="373.3" stroke="#3a3a3a" stroke-width="1.0" stroke-opacity="1"/>
<text x="336.6" y="381.9" font-size="8.20" text-anchor="middle" font-weight="normal" fill="#000" stroke="#000" stroke-width="0.30" >90</text>
<text x="336.6" y="262.5" font-size="7.20" text-anchor="middle" font-weight="normal" fill="#000" stroke="#000" stroke-width="0.12" >ns</text>
<rect x="47.2" y="349.9" width="11.9" height="2.4" fill="#dc3ce4" stroke="#d652e6" stroke-width="0.6"/>
<line x1="53.2" y1="330.0" x2="53.2" y2="351.1" stroke="#dc3ce4" stroke-width="1.0" stroke-opacity="0.6"/>
<line x1="53.2" y1="351.1" x2="53.2" y2="362.5" stroke="#dc3ce4" stroke-width="1.0" stroke-opacity="0.6"/>
<line x1="53.2" y1="351.1" x2="53.2" y2="351.1" stroke="#dc3ce4" stroke-width="1.0" stroke-opacity="0.7"/>
<circle cx="53.2" cy="346.8" r="2.1" fill="#dc3ce4" fill-opacity="1"/>
<circle cx="53.2" cy="285.8" r="1.5" fill="#dc3ce4" fill-opacity="1"/>
<rect x="59.1" y="349.9" width="11.9" height="2.4" fill="#c01430" stroke="#b0102c" stroke-width="0.6"/>
<line x1="65.1" y1="260.6" x2="65.1" y2="351.1" stroke="#c01430" stroke-width="1.0" stroke-opacity="0.6"/>
<line x1="65.1" y1="351.1" x2="65.1" y2="365.0" stroke="#c01430" stroke-width="1.0" stroke-opacity="0.6"/>
<line x1="65.1" y1="351.1" x2="65.1" y2="351.1" stroke="#c01430" stroke-width="1.0" stroke-opacity="0.7"/>
<circle cx="65.1" cy="337.0" r="2.1" fill="#c01430" fill-opacity="1"/>
<circle cx="65.1" cy="262.4" r="1.5" fill="#c01430" fill-opacity="1"/>
<circle cx="65.1" cy="285.6" r="1.5" fill="#c01430" fill-opacity="1"/>
<circle cx="65.1" cy="298.5" r="1.5" fill="#c01430" fill-opacity="1"/>
<circle cx="65.1" cy="304.0" r="1.5" fill="#c01430" fill-opacity="1"/>
<circle cx="65.1" cy="310.2" r="1.5" fill="#c01430" fill-opacity="1"/>
<rect x="77.0" y="349.9" width="11.9" height="2.4" fill="#dc3ce4" stroke="#d652e6" stroke-width="0.6"/>
<line x1="83.0" y1="330.0" x2="83.0" y2="351.1" stroke="#dc3ce4" stroke-width="1.0" stroke-opacity="0.6"/>
<line x1="83.0" y1="351.1" x2="83.0" y2="362.5" stroke="#dc3ce4" stroke-width="1.0" stroke-opacity="0.6"/>
<line x1="83.0" y1="351.1" x2="83.0" y2="351.1" stroke="#dc3ce4" stroke-width="1.0" stroke-opacity="0.7"/>
<circle cx="83.0" cy="346.8" r="2.1" fill="#dc3ce4" fill-opacity="1"/>
<circle cx="83.0" cy="285.8" r="1.5" fill="#dc3ce4" fill-opacity="1"/>
<rect x="88.9" y="340.5" width="11.9" height="10.6" fill="none" stroke="#b0102c" stroke-width="1.4"/>
<line x1="88.9" y1="351.1" x2="100.8" y2="351.1" stroke="#b0102c" stroke-width="1.3" stroke-opacity="1"/>
<line x1="94.9" y1="260.6" x2="94.9" y2="340.5" stroke="#c01430" stroke-width="1.0" stroke-opacity="0.6"/>
<line x1="94.9" y1="351.1" x2="94.9" y2="365.0" stroke="#c01430" stroke-width="1.0" stroke-opacity="0.6"/>
<line x1="94.9" y1="340.5" x2="94.9" y2="351.1" stroke="#c01430" stroke-width="1.0" stroke-opacity="0.7"/>
<circle cx="94.9" cy="335.8" r="2.1" fill="#c01430" fill-opacity="1"/>
<circle cx="94.9" cy="262.4" r="1.5" fill="#c01430" fill-opacity="1"/>
<circle cx="94.9" cy="285.8" r="1.5" fill="#c01430" fill-opacity="1"/>
<circle cx="94.9" cy="292.0" r="1.5" fill="#c01430" fill-opacity="1"/>
<circle cx="94.9" cy="303.8" r="1.5" fill="#c01430" fill-opacity="1"/>
<circle cx="94.9" cy="310.2" r="1.5" fill="#c01430" fill-opacity="1"/>
<rect x="106.8" y="292.0" width="11.9" height="19.2" fill="none" stroke="#d652e6" stroke-width="1.4"/>
<line x1="106.8" y1="299.5" x2="118.7" y2="299.5" stroke="#d652e6" stroke-width="1.3" stroke-opacity="1"/>
<line x1="112.8" y1="271.2" x2="112.8" y2="292.0" stroke="#dc3ce4" stroke-width="1.9" stroke-opacity="1"/>
<line x1="112.8" y1="311.2" x2="112.8" y2="333.8" stroke="#dc3ce4" stroke-width="1.9" stroke-opacity="1"/>
<line x1="112.8" y1="292.0" x2="112.8" y2="311.2" stroke="#dc3ce4" stroke-width="1.0" stroke-opacity="0.7"/>
<circle cx="112.8" cy="305.5" r="2.1" fill="#dc3ce4" fill-opacity="1"/>
<circle cx="112.8" cy="351.1" r="1.5" fill="#dc3ce4" fill-opacity="1"/>
<rect x="118.7" y="285.0" width="11.9" height="20.5" fill="none" stroke="#b0102c" stroke-width="1.4"/>
<line x1="118.7" y1="299.5" x2="130.6" y2="299.5" stroke="#b0102c" stroke-width="1.3" stroke-opacity="1"/>
<line x1="124.7" y1="262.5" x2="124.7" y2="285.0" stroke="#c01430" stroke-width="1.9" stroke-opacity="1"/>
<line x1="124.7" y1="305.5" x2="124.7" y2="322.5" stroke="#c01430" stroke-width="1.9" stroke-opacity="1"/>
<line x1="124.7" y1="285.0" x2="124.7" y2="305.5" stroke="#c01430" stroke-width="1.0" stroke-opacity="0.7"/>
<circle cx="124.7" cy="299.5" r="2.1" fill="#c01430" fill-opacity="1"/>
<circle cx="124.7" cy="351.1" r="1.5" fill="#c01430" fill-opacity="1"/>
<rect x="136.6" y="297.5" width="11.9" height="11.2" fill="none" stroke="#d652e6" stroke-width="1.4"/>
<line x1="136.6" y1="304.5" x2="148.5" y2="304.5" stroke="#d652e6" stroke-width="1.3" stroke-opacity="1"/>
<line x1="142.6" y1="273.0" x2="142.6" y2="297.5" stroke="#dc3ce4" stroke-width="1.9" stroke-opacity="1"/>
<line x1="142.6" y1="308.8" x2="142.6" y2="331.2" stroke="#dc3ce4" stroke-width="1.9" stroke-opacity="1"/>
<line x1="142.6" y1="297.5" x2="142.6" y2="308.8" stroke="#dc3ce4" stroke-width="1.0" stroke-opacity="0.7"/>
<circle cx="142.6" cy="308.8" r="2.1" fill="#dc3ce4" fill-opacity="1"/>
<circle cx="142.6" cy="351.1" r="1.5" fill="#dc3ce4" fill-opacity="1"/>
<circle cx="142.6" cy="273.0" r="1.5" fill="#dc3ce4" fill-opacity="1"/>
<rect x="148.5" y="294.5" width="11.9" height="56.6" fill="none" stroke="#b0102c" stroke-width="1.4"/>
<line x1="148.5" y1="310.5" x2="160.4" y2="310.5" stroke="#b0102c" stroke-width="1.3" stroke-opacity="1"/>
<line x1="154.5" y1="262.5" x2="154.5" y2="294.5" stroke="#c01430" stroke-width="1.9" stroke-opacity="1"/>
<line x1="154.5" y1="294.5" x2="154.5" y2="338.8" stroke="#c01430" stroke-width="1.0" stroke-opacity="0.7"/>
<circle cx="154.5" cy="314.5" r="2.1" fill="#c01430" fill-opacity="1"/>
<rect x="166.4" y="349.9" width="11.9" height="2.4" fill="#dc3ce4" stroke="#d652e6" stroke-width="0.6"/>
<line x1="172.4" y1="310.0" x2="172.4" y2="351.1" stroke="#dc3ce4" stroke-width="1.0" stroke-opacity="0.6"/>
<line x1="172.4" y1="351.1" x2="172.4" y2="365.0" stroke="#dc3ce4" stroke-width="1.0" stroke-opacity="0.6"/>
<line x1="172.4" y1="351.1" x2="172.4" y2="351.1" stroke="#dc3ce4" stroke-width="1.0" stroke-opacity="0.7"/>
<circle cx="172.4" cy="337.5" r="2.1" fill="#dc3ce4" fill-opacity="1"/>
<circle cx="172.4" cy="273.8" r="1.5" fill="#dc3ce4" fill-opacity="1"/>
<circle cx="172.4" cy="297.7" r="1.5" fill="#dc3ce4" fill-opacity="1"/>
<rect x="178.3" y="309.9" width="11.9" height="41.2" fill="none" stroke="#b0102c" stroke-width="1.4"/>
<line x1="178.3" y1="351.1" x2="190.2" y2="351.1" stroke="#b0102c" stroke-width="1.3" stroke-opacity="1"/>
<line x1="184.3" y1="268.4" x2="184.3" y2="309.9" stroke="#c01430" stroke-width="1.9" stroke-opacity="1"/>
<line x1="184.3" y1="351.1" x2="184.3" y2="355.1" stroke="#c01430" stroke-width="1.9" stroke-opacity="1"/>
<line x1="184.3" y1="309.9" x2="184.3" y2="351.1" stroke="#c01430" stroke-width="1.0" stroke-opacity="0.7"/>
<circle cx="184.3" cy="329.7" r="2.1" fill="#c01430" fill-opacity="1"/>
<rect x="205.6" y="349.9" width="11.9" height="2.4" fill="#dc3ce4" stroke="#d652e6" stroke-width="0.6"/>
<line x1="211.5" y1="351.1" x2="211.5" y2="351.1" stroke="#dc3ce4" stroke-width="1.0" stroke-opacity="0.7"/>
<circle cx="211.5" cy="351.1" r="2.1" fill="#dc3ce4" fill-opacity="1"/>
<rect x="217.5" y="349.9" width="11.9" height="2.4" fill="#c01430" stroke="#b0102c" stroke-width="0.6"/>
<line x1="223.4" y1="322.6" x2="223.4" y2="351.1" stroke="#c01430" stroke-width="1.0" stroke-opacity="0.6"/>
<line x1="223.4" y1="351.1" x2="223.4" y2="360.8" stroke="#c01430" stroke-width="1.0" stroke-opacity="0.6"/>
<line x1="223.4" y1="351.1" x2="223.4" y2="351.1" stroke="#c01430" stroke-width="1.0" stroke-opacity="0.7"/>
<circle cx="223.4" cy="341.8" r="2.1" fill="#c01430" fill-opacity="1"/>
<circle cx="223.4" cy="285.9" r="1.5" fill="#c01430" fill-opacity="1"/>
<circle cx="223.4" cy="292.9" r="1.5" fill="#c01430" fill-opacity="1"/>
<circle cx="223.4" cy="298.6" r="1.5" fill="#c01430" fill-opacity="1"/>
<circle cx="223.4" cy="304.2" r="1.5" fill="#c01430" fill-opacity="1"/>
<circle cx="223.4" cy="309.9" r="1.5" fill="#c01430" fill-opacity="1"/>
<rect x="235.3" y="349.9" width="11.9" height="2.4" fill="#dc3ce4" stroke="#d652e6" stroke-width="0.6"/>
<line x1="241.3" y1="333.9" x2="241.3" y2="351.1" stroke="#dc3ce4" stroke-width="1.0" stroke-opacity="0.6"/>
<line x1="241.3" y1="351.1" x2="241.3" y2="360.8" stroke="#dc3ce4" stroke-width="1.0" stroke-opacity="0.6"/>
<line x1="241.3" y1="351.1" x2="241.3" y2="351.1" stroke="#dc3ce4" stroke-width="1.0" stroke-opacity="0.7"/>
<circle cx="241.3" cy="347.5" r="2.1" fill="#dc3ce4" fill-opacity="1"/>
<circle cx="241.3" cy="292.4" r="1.5" fill="#dc3ce4" fill-opacity="1"/>
<rect x="247.3" y="340.1" width="11.9" height="10.8" fill="none" stroke="#b0102c" stroke-width="1.4"/>
<line x1="247.3" y1="350.9" x2="259.2" y2="350.9" stroke="#b0102c" stroke-width="1.3" stroke-opacity="1"/>
<line x1="253.2" y1="268.4" x2="253.2" y2="340.1" stroke="#c01430" stroke-width="1.0" stroke-opacity="0.6"/>
<line x1="253.2" y1="350.9" x2="253.2" y2="360.8" stroke="#c01430" stroke-width="1.0" stroke-opacity="0.6"/>
<line x1="253.2" y1="340.1" x2="253.2" y2="350.9" stroke="#c01430" stroke-width="1.0" stroke-opacity="0.7"/>
<circle cx="253.2" cy="336.8" r="2.1" fill="#c01430" fill-opacity="1"/>
<circle cx="253.2" cy="268.4" r="1.5" fill="#c01430" fill-opacity="1"/>
<circle cx="253.2" cy="285.9" r="1.5" fill="#c01430" fill-opacity="1"/>
<circle cx="253.2" cy="292.9" r="1.5" fill="#c01430" fill-opacity="1"/>
<circle cx="253.2" cy="298.6" r="1.5" fill="#c01430" fill-opacity="1"/>
<circle cx="253.2" cy="304.2" r="1.5" fill="#c01430" fill-opacity="1"/>
<circle cx="253.2" cy="309.9" r="1.5" fill="#c01430" fill-opacity="1"/>
<rect x="265.1" y="299.4" width="11.9" height="51.5" fill="none" stroke="#d652e6" stroke-width="1.4"/>
<line x1="265.1" y1="331.1" x2="277.1" y2="331.1" stroke="#d652e6" stroke-width="1.3" stroke-opacity="1"/>
<line x1="271.1" y1="261.9" x2="271.1" y2="299.4" stroke="#dc3ce4" stroke-width="1.9" stroke-opacity="1"/>
<line x1="271.1" y1="350.9" x2="271.1" y2="359.4" stroke="#dc3ce4" stroke-width="1.9" stroke-opacity="1"/>
<line x1="271.1" y1="299.4" x2="271.1" y2="350.9" stroke="#dc3ce4" stroke-width="1.0" stroke-opacity="0.7"/>
<circle cx="271.1" cy="320.4" r="2.1" fill="#dc3ce4" fill-opacity="1"/>
<rect x="277.1" y="290.1" width="11.9" height="20.6" fill="none" stroke="#b0102c" stroke-width="1.4"/>
<line x1="277.1" y1="298.6" x2="289.0" y2="298.6" stroke="#b0102c" stroke-width="1.3" stroke-opacity="1"/>
<line x1="283.0" y1="268.4" x2="283.0" y2="290.1" stroke="#c01430" stroke-width="1.9" stroke-opacity="1"/>
<line x1="283.0" y1="310.7" x2="283.0" y2="332.5" stroke="#c01430" stroke-width="1.9" stroke-opacity="1"/>
<line x1="283.0" y1="290.1" x2="283.0" y2="310.7" stroke="#c01430" stroke-width="1.0" stroke-opacity="0.7"/>
<circle cx="283.0" cy="307.1" r="2.1" fill="#c01430" fill-opacity="1"/>
<rect x="294.9" y="309.9" width="11.9" height="41.0" fill="none" stroke="#d652e6" stroke-width="1.4"/>
<line x1="294.9" y1="350.9" x2="306.8" y2="350.9" stroke="#d652e6" stroke-width="1.3" stroke-opacity="1"/>
<line x1="300.9" y1="268.4" x2="300.9" y2="309.9" stroke="#dc3ce4" stroke-width="1.9" stroke-opacity="1"/>
<line x1="300.9" y1="309.9" x2="300.9" y2="350.9" stroke="#dc3ce4" stroke-width="1.0" stroke-opacity="0.7"/>
<circle cx="300.9" cy="328.3" r="2.1" fill="#dc3ce4" fill-opacity="1"/>
<rect x="306.8" y="297.2" width="11.9" height="53.7" fill="none" stroke="#b0102c" stroke-width="1.4"/>
<line x1="306.8" y1="302.8" x2="318.8" y2="302.8" stroke="#b0102c" stroke-width="1.3" stroke-opacity="1"/>
<line x1="312.8" y1="285.9" x2="312.8" y2="297.2" stroke="#c01430" stroke-width="1.0" stroke-opacity="0.6"/>
<line x1="312.8" y1="297.2" x2="312.8" y2="343.8" stroke="#c01430" stroke-width="1.0" stroke-opacity="0.7"/>
<circle cx="312.8" cy="319.2" r="2.1" fill="#c01430" fill-opacity="1"/>
<rect x="324.7" y="330.5" width="11.9" height="20.4" fill="none" stroke="#d652e6" stroke-width="1.4"/>
<line x1="324.7" y1="350.9" x2="336.6" y2="350.9" stroke="#d652e6" stroke-width="1.3" stroke-opacity="1"/>
<line x1="330.7" y1="309.9" x2="330.7" y2="330.5" stroke="#dc3ce4" stroke-width="1.0" stroke-opacity="0.6"/>
<line x1="330.7" y1="350.9" x2="330.7" y2="359.4" stroke="#dc3ce4" stroke-width="1.0" stroke-opacity="0.6"/>
<line x1="330.7" y1="330.5" x2="330.7" y2="350.9" stroke="#dc3ce4" stroke-width="1.0" stroke-opacity="0.7"/>
<circle cx="330.7" cy="338.2" r="2.1" fill="#dc3ce4" fill-opacity="1"/>
<circle cx="330.7" cy="292.4" r="1.5" fill="#dc3ce4" fill-opacity="1"/>
<rect x="336.6" y="309.9" width="11.9" height="41.0" fill="none" stroke="#b0102c" stroke-width="1.4"/>
<line x1="336.6" y1="350.9" x2="348.5" y2="350.9" stroke="#b0102c" stroke-width="1.3" stroke-opacity="1"/>
<line x1="342.6" y1="298.6" x2="342.6" y2="309.9" stroke="#c01430" stroke-width="1.9" stroke-opacity="1"/>
<line x1="342.6" y1="309.9" x2="342.6" y2="350.9" stroke="#c01430" stroke-width="1.0" stroke-opacity="0.7"/>
<circle cx="342.6" cy="333.4" r="2.1" fill="#c01430" fill-opacity="1"/>
<circle cx="56.4" cy="291.8" r="1.35" fill="#2a2a2a" fill-opacity="0.78"/>
<circle cx="66.1" cy="294.4" r="1.35" fill="#2a2a2a" fill-opacity="0.78"/>
<circle cx="61.7" cy="305.5" r="1.35" fill="#2a2a2a" fill-opacity="0.78"/>
<circle cx="59.5" cy="351.4" r="1.35" fill="#2a2a2a" fill-opacity="0.78"/>
<circle cx="62.7" cy="351.7" r="1.35" fill="#2a2a2a" fill-opacity="0.78"/>
<circle cx="62.8" cy="351.6" r="1.35" fill="#2a2a2a" fill-opacity="0.78"/>
<circle cx="57.8" cy="351.3" r="1.35" fill="#2a2a2a" fill-opacity="0.78"/>
<circle cx="60.0" cy="351.1" r="1.35" fill="#2a2a2a" fill-opacity="0.78"/>
<circle cx="66.1" cy="351.9" r="1.35" fill="#2a2a2a" fill-opacity="0.78"/>
<circle cx="58.4" cy="351.9" r="1.35" fill="#2a2a2a" fill-opacity="0.78"/>
<circle cx="58.1" cy="287.7" r="1.35" fill="#2a2a2a" fill-opacity="0.78"/>
<circle cx="57.6" cy="310.7" r="1.35" fill="#2a2a2a" fill-opacity="0.78"/>
<circle cx="58.5" cy="351.3" r="1.35" fill="#2a2a2a" fill-opacity="0.78"/>
<circle cx="59.9" cy="351.7" r="1.35" fill="#2a2a2a" fill-opacity="0.78"/>
<circle cx="58.3" cy="351.1" r="1.35" fill="#2a2a2a" fill-opacity="0.78"/>
<circle cx="63.3" cy="352.0" r="1.35" fill="#2a2a2a" fill-opacity="0.78"/>
<circle cx="59.9" cy="351.7" r="1.35" fill="#2a2a2a" fill-opacity="0.78"/>
<circle cx="62.7" cy="351.5" r="1.35" fill="#2a2a2a" fill-opacity="0.78"/>
<circle cx="54.6" cy="351.1" r="1.35" fill="#2a2a2a" fill-opacity="0.78"/>
<circle cx="86.8" cy="298.7" r="1.35" fill="#2a2a2a" fill-opacity="0.78"/>
<circle cx="88.6" cy="294.2" r="1.35" fill="#2a2a2a" fill-opacity="0.78"/>
<circle cx="86.7" cy="303.3" r="1.35" fill="#2a2a2a" fill-opacity="0.78"/>
<circle cx="88.9" cy="351.4" r="1.35" fill="#2a2a2a" fill-opacity="0.78"/>
<circle cx="87.6" cy="351.5" r="1.35" fill="#2a2a2a" fill-opacity="0.78"/>
<circle cx="89.0" cy="351.6" r="1.35" fill="#2a2a2a" fill-opacity="0.78"/>
<circle cx="93.1" cy="351.1" r="1.35" fill="#2a2a2a" fill-opacity="0.78"/>
<circle cx="88.2" cy="351.3" r="1.35" fill="#2a2a2a" fill-opacity="0.78"/>
<circle cx="86.3" cy="351.9" r="1.35" fill="#2a2a2a" fill-opacity="0.78"/>
<circle cx="93.3" cy="352.0" r="1.35" fill="#2a2a2a" fill-opacity="0.78"/>
<circle cx="95.9" cy="307.3" r="1.35" fill="#2a2a2a" fill-opacity="0.78"/>
<circle cx="86.6" cy="309.3" r="1.35" fill="#2a2a2a" fill-opacity="0.78"/>
<circle cx="92.7" cy="300.4" r="1.35" fill="#2a2a2a" fill-opacity="0.78"/>
<circle cx="89.4" cy="351.7" r="1.35" fill="#2a2a2a" fill-opacity="0.78"/>
<circle cx="85.5" cy="351.9" r="1.35" fill="#2a2a2a" fill-opacity="0.78"/>
<circle cx="86.0" cy="351.1" r="1.35" fill="#2a2a2a" fill-opacity="0.78"/>
<circle cx="81.9" cy="351.0" r="1.35" fill="#2a2a2a" fill-opacity="0.78"/>
<circle cx="87.9" cy="351.1" r="1.35" fill="#2a2a2a" fill-opacity="0.78"/>
<circle cx="94.6" cy="351.0" r="1.35" fill="#2a2a2a" fill-opacity="0.78"/>
<circle cx="112.7" cy="268.4" r="1.35" fill="#2a2a2a" fill-opacity="0.78"/>
<circle cx="121.1" cy="290.4" r="1.35" fill="#2a2a2a" fill-opacity="0.78"/>
<circle cx="114.3" cy="293.1" r="1.35" fill="#2a2a2a" fill-opacity="0.78"/>
<circle cx="119.0" cy="267.0" r="1.35" fill="#2a2a2a" fill-opacity="0.78"/>
<circle cx="112.7" cy="270.1" r="1.35" fill="#2a2a2a" fill-opacity="0.78"/>
<circle cx="121.2" cy="304.5" r="1.35" fill="#2a2a2a" fill-opacity="0.78"/>
<circle cx="111.7" cy="285.3" r="1.35" fill="#2a2a2a" fill-opacity="0.78"/>
<circle cx="117.2" cy="267.7" r="1.35" fill="#2a2a2a" fill-opacity="0.78"/>
<circle cx="121.3" cy="301.7" r="1.35" fill="#2a2a2a" fill-opacity="0.78"/>
<circle cx="118.4" cy="290.7" r="1.35" fill="#2a2a2a" fill-opacity="0.78"/>
<circle cx="123.1" cy="282.1" r="1.35" fill="#2a2a2a" fill-opacity="0.78"/>
<circle cx="117.1" cy="277.5" r="1.35" fill="#2a2a2a" fill-opacity="0.78"/>
<circle cx="115.5" cy="306.7" r="1.35" fill="#2a2a2a" fill-opacity="0.78"/>
<circle cx="119.6" cy="278.4" r="1.35" fill="#2a2a2a" fill-opacity="0.78"/>
<circle cx="120.4" cy="351.5" r="1.35" fill="#2a2a2a" fill-opacity="0.78"/>
<circle cx="119.3" cy="351.2" r="1.35" fill="#2a2a2a" fill-opacity="0.78"/>
<circle cx="115.8" cy="296.4" r="1.35" fill="#2a2a2a" fill-opacity="0.78"/>
<circle cx="118.5" cy="278.5" r="1.35" fill="#2a2a2a" fill-opacity="0.78"/>
<circle cx="122.7" cy="306.5" r="1.35" fill="#2a2a2a" fill-opacity="0.78"/>
<circle cx="119.7" cy="280.6" r="1.35" fill="#2a2a2a" fill-opacity="0.78"/>
<circle cx="120.9" cy="281.8" r="1.35" fill="#2a2a2a" fill-opacity="0.78"/>
<circle cx="118.0" cy="302.6" r="1.35" fill="#2a2a2a" fill-opacity="0.78"/>
<circle cx="113.8" cy="291.3" r="1.35" fill="#2a2a2a" fill-opacity="0.78"/>
<circle cx="123.7" cy="278.0" r="1.35" fill="#2a2a2a" fill-opacity="0.78"/>
<circle cx="121.4" cy="276.8" r="1.35" fill="#2a2a2a" fill-opacity="0.78"/>
<circle cx="111.7" cy="283.7" r="1.35" fill="#2a2a2a" fill-opacity="0.78"/>
<circle cx="123.8" cy="283.0" r="1.35" fill="#2a2a2a" fill-opacity="0.78"/>
<circle cx="125.7" cy="284.4" r="1.35" fill="#2a2a2a" fill-opacity="0.78"/>
<circle cx="113.4" cy="351.1" r="1.35" fill="#2a2a2a" fill-opacity="0.78"/>
<circle cx="120.1" cy="351.3" r="1.35" fill="#2a2a2a" fill-opacity="0.78"/>
<circle cx="142.9" cy="303.6" r="1.35" fill="#2a2a2a" fill-opacity="0.78"/>
<circle cx="146.6" cy="295.7" r="1.35" fill="#2a2a2a" fill-opacity="0.78"/>
<circle cx="150.4" cy="301.7" r="1.35" fill="#2a2a2a" fill-opacity="0.78"/>
<circle cx="142.5" cy="272.6" r="1.35" fill="#2a2a2a" fill-opacity="0.78"/>
<circle cx="149.4" cy="292.0" r="1.35" fill="#2a2a2a" fill-opacity="0.78"/>
<circle cx="147.6" cy="308.6" r="1.35" fill="#2a2a2a" fill-opacity="0.78"/>
<circle cx="149.3" cy="277.7" r="1.35" fill="#2a2a2a" fill-opacity="0.78"/>
<circle cx="150.4" cy="310.4" r="1.35" fill="#2a2a2a" fill-opacity="0.78"/>
<circle cx="155.0" cy="309.3" r="1.35" fill="#2a2a2a" fill-opacity="0.78"/>
<circle cx="144.4" cy="277.7" r="1.35" fill="#2a2a2a" fill-opacity="0.78"/>
<circle cx="154.9" cy="351.7" r="1.35" fill="#2a2a2a" fill-opacity="0.78"/>
<circle cx="150.6" cy="351.1" r="1.35" fill="#2a2a2a" fill-opacity="0.78"/>
<circle cx="147.8" cy="351.7" r="1.35" fill="#2a2a2a" fill-opacity="0.78"/>
<circle cx="152.5" cy="310.0" r="1.35" fill="#2a2a2a" fill-opacity="0.78"/>
<circle cx="144.9" cy="290.2" r="1.35" fill="#2a2a2a" fill-opacity="0.78"/>
<circle cx="147.4" cy="282.9" r="1.35" fill="#2a2a2a" fill-opacity="0.78"/>
<circle cx="149.7" cy="309.6" r="1.35" fill="#2a2a2a" fill-opacity="0.78"/>
<circle cx="150.4" cy="285.9" r="1.35" fill="#2a2a2a" fill-opacity="0.78"/>
<circle cx="149.4" cy="274.0" r="1.35" fill="#2a2a2a" fill-opacity="0.78"/>
<circle cx="147.8" cy="276.9" r="1.35" fill="#2a2a2a" fill-opacity="0.78"/>
<circle cx="150.5" cy="293.1" r="1.35" fill="#2a2a2a" fill-opacity="0.78"/>
<circle cx="144.4" cy="302.5" r="1.35" fill="#2a2a2a" fill-opacity="0.78"/>
<circle cx="147.5" cy="293.1" r="1.35" fill="#2a2a2a" fill-opacity="0.78"/>
<circle cx="149.8" cy="351.2" r="1.35" fill="#2a2a2a" fill-opacity="0.78"/>
<circle cx="148.1" cy="351.1" r="1.35" fill="#2a2a2a" fill-opacity="0.78"/>
<circle cx="176.3" cy="308.7" r="1.35" fill="#2a2a2a" fill-opacity="0.78"/>
<circle cx="183.5" cy="290.2" r="1.35" fill="#2a2a2a" fill-opacity="0.78"/>
<circle cx="179.9" cy="293.0" r="1.35" fill="#2a2a2a" fill-opacity="0.78"/>
<circle cx="180.8" cy="281.0" r="1.35" fill="#2a2a2a" fill-opacity="0.78"/>
<circle cx="180.7" cy="351.5" r="1.35" fill="#2a2a2a" fill-opacity="0.78"/>
<circle cx="171.3" cy="351.6" r="1.35" fill="#2a2a2a" fill-opacity="0.78"/>
<circle cx="180.4" cy="351.2" r="1.35" fill="#2a2a2a" fill-opacity="0.78"/>
<circle cx="175.3" cy="351.9" r="1.35" fill="#2a2a2a" fill-opacity="0.78"/>
<circle cx="179.0" cy="351.8" r="1.35" fill="#2a2a2a" fill-opacity="0.78"/>
<circle cx="178.2" cy="285.6" r="1.35" fill="#2a2a2a" fill-opacity="0.78"/>
<circle cx="180.2" cy="275.6" r="1.35" fill="#2a2a2a" fill-opacity="0.78"/>
<circle cx="179.0" cy="300.4" r="1.35" fill="#2a2a2a" fill-opacity="0.78"/>
<circle cx="178.5" cy="277.7" r="1.35" fill="#2a2a2a" fill-opacity="0.78"/>
<circle cx="179.0" cy="351.8" r="1.35" fill="#2a2a2a" fill-opacity="0.78"/>
<circle cx="173.5" cy="351.5" r="1.35" fill="#2a2a2a" fill-opacity="0.78"/>
<circle cx="178.3" cy="351.2" r="1.35" fill="#2a2a2a" fill-opacity="0.78"/>
<circle cx="181.1" cy="351.0" r="1.35" fill="#2a2a2a" fill-opacity="0.78"/>
<circle cx="178.6" cy="351.3" r="1.35" fill="#2a2a2a" fill-opacity="0.78"/>
<circle cx="215.1" cy="297.8" r="1.35" fill="#2a2a2a" fill-opacity="0.78"/>
<circle cx="215.3" cy="301.6" r="1.35" fill="#2a2a2a" fill-opacity="0.78"/>
<circle cx="216.2" cy="351.9" r="1.35" fill="#2a2a2a" fill-opacity="0.78"/>
<circle cx="220.3" cy="351.6" r="1.35" fill="#2a2a2a" fill-opacity="0.78"/>
<circle cx="213.9" cy="351.5" r="1.35" fill="#2a2a2a" fill-opacity="0.78"/>
<circle cx="219.5" cy="351.3" r="1.35" fill="#2a2a2a" fill-opacity="0.78"/>
<circle cx="219.5" cy="351.9" r="1.35" fill="#2a2a2a" fill-opacity="0.78"/>
<circle cx="216.2" cy="351.9" r="1.35" fill="#2a2a2a" fill-opacity="0.78"/>
<circle cx="218.9" cy="351.5" r="1.35" fill="#2a2a2a" fill-opacity="0.78"/>
<circle cx="216.1" cy="352.0" r="1.35" fill="#2a2a2a" fill-opacity="0.78"/>
<circle cx="217.0" cy="304.1" r="1.35" fill="#2a2a2a" fill-opacity="0.78"/>
<circle cx="219.4" cy="291.9" r="1.35" fill="#2a2a2a" fill-opacity="0.78"/>
<circle cx="215.8" cy="351.9" r="1.35" fill="#2a2a2a" fill-opacity="0.78"/>
<circle cx="216.5" cy="351.3" r="1.35" fill="#2a2a2a" fill-opacity="0.78"/>
<circle cx="221.6" cy="351.3" r="1.35" fill="#2a2a2a" fill-opacity="0.78"/>
<circle cx="220.4" cy="351.6" r="1.35" fill="#2a2a2a" fill-opacity="0.78"/>
<circle cx="210.5" cy="351.5" r="1.35" fill="#2a2a2a" fill-opacity="0.78"/>
<circle cx="217.6" cy="351.4" r="1.35" fill="#2a2a2a" fill-opacity="0.78"/>
<circle cx="221.3" cy="351.3" r="1.35" fill="#2a2a2a" fill-opacity="0.78"/>
<circle cx="247.3" cy="292.7" r="1.35" fill="#2a2a2a" fill-opacity="0.78"/>
<circle cx="244.8" cy="271.9" r="1.35" fill="#2a2a2a" fill-opacity="0.78"/>
<circle cx="244.6" cy="289.4" r="1.35" fill="#2a2a2a" fill-opacity="0.78"/>
<circle cx="242.6" cy="309.7" r="1.35" fill="#2a2a2a" fill-opacity="0.78"/>
<circle cx="247.8" cy="280.0" r="1.35" fill="#2a2a2a" fill-opacity="0.78"/>
<circle cx="246.0" cy="351.8" r="1.35" fill="#2a2a2a" fill-opacity="0.78"/>
<circle cx="247.8" cy="351.2" r="1.35" fill="#2a2a2a" fill-opacity="0.78"/>
<circle cx="250.1" cy="351.3" r="1.35" fill="#2a2a2a" fill-opacity="0.78"/>
<circle cx="242.1" cy="351.9" r="1.35" fill="#2a2a2a" fill-opacity="0.78"/>
<circle cx="243.8" cy="351.6" r="1.35" fill="#2a2a2a" fill-opacity="0.78"/>
<circle cx="247.2" cy="308.7" r="1.35" fill="#2a2a2a" fill-opacity="0.78"/>
<circle cx="243.5" cy="280.5" r="1.35" fill="#2a2a2a" fill-opacity="0.78"/>
<circle cx="247.5" cy="304.2" r="1.35" fill="#2a2a2a" fill-opacity="0.78"/>
<circle cx="244.2" cy="276.4" r="1.35" fill="#2a2a2a" fill-opacity="0.78"/>
<circle cx="247.2" cy="277.3" r="1.35" fill="#2a2a2a" fill-opacity="0.78"/>
<circle cx="250.3" cy="352.0" r="1.35" fill="#2a2a2a" fill-opacity="0.78"/>
<circle cx="242.1" cy="351.9" r="1.35" fill="#2a2a2a" fill-opacity="0.78"/>
<circle cx="244.9" cy="351.7" r="1.35" fill="#2a2a2a" fill-opacity="0.78"/>
<circle cx="241.8" cy="351.8" r="1.35" fill="#2a2a2a" fill-opacity="0.78"/>
<circle cx="277.7" cy="303.7" r="1.35" fill="#2a2a2a" fill-opacity="0.78"/>
<circle cx="275.1" cy="280.6" r="1.35" fill="#2a2a2a" fill-opacity="0.78"/>
<circle cx="277.3" cy="268.0" r="1.35" fill="#2a2a2a" fill-opacity="0.78"/>
<circle cx="284.1" cy="290.0" r="1.35" fill="#2a2a2a" fill-opacity="0.78"/>
<circle cx="273.8" cy="294.5" r="1.35" fill="#2a2a2a" fill-opacity="0.78"/>
<circle cx="281.9" cy="308.0" r="1.35" fill="#2a2a2a" fill-opacity="0.78"/>
<circle cx="281.4" cy="269.9" r="1.35" fill="#2a2a2a" fill-opacity="0.78"/>
<circle cx="275.1" cy="297.0" r="1.35" fill="#2a2a2a" fill-opacity="0.78"/>
<circle cx="284.1" cy="306.2" r="1.35" fill="#2a2a2a" fill-opacity="0.78"/>
<circle cx="283.0" cy="281.0" r="1.35" fill="#2a2a2a" fill-opacity="0.78"/>
<circle cx="279.0" cy="301.1" r="1.35" fill="#2a2a2a" fill-opacity="0.78"/>
<circle cx="281.7" cy="311.3" r="1.35" fill="#2a2a2a" fill-opacity="0.78"/>
<circle cx="275.8" cy="351.7" r="1.35" fill="#2a2a2a" fill-opacity="0.78"/>
<circle cx="275.9" cy="351.1" r="1.35" fill="#2a2a2a" fill-opacity="0.78"/>
<circle cx="280.9" cy="302.3" r="1.35" fill="#2a2a2a" fill-opacity="0.78"/>
<circle cx="272.9" cy="306.3" r="1.35" fill="#2a2a2a" fill-opacity="0.78"/>
<circle cx="270.1" cy="295.8" r="1.35" fill="#2a2a2a" fill-opacity="0.78"/>
<circle cx="273.7" cy="289.1" r="1.35" fill="#2a2a2a" fill-opacity="0.78"/>
<circle cx="274.7" cy="268.0" r="1.35" fill="#2a2a2a" fill-opacity="0.78"/>
<circle cx="279.1" cy="274.2" r="1.35" fill="#2a2a2a" fill-opacity="0.78"/>
<circle cx="277.7" cy="296.4" r="1.35" fill="#2a2a2a" fill-opacity="0.78"/>
<circle cx="274.8" cy="301.9" r="1.35" fill="#2a2a2a" fill-opacity="0.78"/>
<circle cx="275.7" cy="281.2" r="1.35" fill="#2a2a2a" fill-opacity="0.78"/>
<circle cx="273.3" cy="279.3" r="1.35" fill="#2a2a2a" fill-opacity="0.78"/>
<circle cx="278.9" cy="297.9" r="1.35" fill="#2a2a2a" fill-opacity="0.78"/>
<circle cx="281.5" cy="351.9" r="1.35" fill="#2a2a2a" fill-opacity="0.78"/>
<circle cx="273.4" cy="351.9" r="1.35" fill="#2a2a2a" fill-opacity="0.78"/>
<circle cx="313.4" cy="280.5" r="1.35" fill="#2a2a2a" fill-opacity="0.78"/>
<circle cx="311.2" cy="309.4" r="1.35" fill="#2a2a2a" fill-opacity="0.78"/>
<circle cx="305.5" cy="301.3" r="1.35" fill="#2a2a2a" fill-opacity="0.78"/>
<circle cx="305.5" cy="290.5" r="1.35" fill="#2a2a2a" fill-opacity="0.78"/>
<circle cx="309.2" cy="289.0" r="1.35" fill="#2a2a2a" fill-opacity="0.78"/>
<circle cx="313.3" cy="291.0" r="1.35" fill="#2a2a2a" fill-opacity="0.78"/>
<circle cx="308.3" cy="288.3" r="1.35" fill="#2a2a2a" fill-opacity="0.78"/>
<circle cx="306.8" cy="276.6" r="1.35" fill="#2a2a2a" fill-opacity="0.78"/>
<circle cx="304.3" cy="293.0" r="1.35" fill="#2a2a2a" fill-opacity="0.78"/>
<circle cx="307.0" cy="351.1" r="1.35" fill="#2a2a2a" fill-opacity="0.78"/>
<circle cx="309.8" cy="351.1" r="1.35" fill="#2a2a2a" fill-opacity="0.78"/>
<circle cx="304.4" cy="351.9" r="1.35" fill="#2a2a2a" fill-opacity="0.78"/>
<circle cx="310.0" cy="295.5" r="1.35" fill="#2a2a2a" fill-opacity="0.78"/>
<circle cx="303.9" cy="278.1" r="1.35" fill="#2a2a2a" fill-opacity="0.78"/>
<circle cx="308.6" cy="288.4" r="1.35" fill="#2a2a2a" fill-opacity="0.78"/>
<circle cx="308.5" cy="286.6" r="1.35" fill="#2a2a2a" fill-opacity="0.78"/>
<circle cx="306.4" cy="297.5" r="1.35" fill="#2a2a2a" fill-opacity="0.78"/>
<circle cx="307.2" cy="295.6" r="1.35" fill="#2a2a2a" fill-opacity="0.78"/>
<circle cx="302.7" cy="308.3" r="1.35" fill="#2a2a2a" fill-opacity="0.78"/>
<circle cx="308.9" cy="291.3" r="1.35" fill="#2a2a2a" fill-opacity="0.78"/>
<circle cx="305.4" cy="310.9" r="1.35" fill="#2a2a2a" fill-opacity="0.78"/>
<circle cx="304.7" cy="351.8" r="1.35" fill="#2a2a2a" fill-opacity="0.78"/>
<circle cx="306.5" cy="351.1" r="1.35" fill="#2a2a2a" fill-opacity="0.78"/>
<circle cx="309.3" cy="351.3" r="1.35" fill="#2a2a2a" fill-opacity="0.78"/>
<circle cx="340.0" cy="305.1" r="1.35" fill="#2a2a2a" fill-opacity="0.78"/>
<circle cx="336.2" cy="306.1" r="1.35" fill="#2a2a2a" fill-opacity="0.78"/>
<circle cx="333.8" cy="303.6" r="1.35" fill="#2a2a2a" fill-opacity="0.78"/>
<circle cx="335.6" cy="299.1" r="1.35" fill="#2a2a2a" fill-opacity="0.78"/>
<circle cx="333.1" cy="351.1" r="1.35" fill="#2a2a2a" fill-opacity="0.78"/>
<circle cx="329.6" cy="351.9" r="1.35" fill="#2a2a2a" fill-opacity="0.78"/>
<circle cx="337.9" cy="351.1" r="1.35" fill="#2a2a2a" fill-opacity="0.78"/>
<circle cx="339.0" cy="351.7" r="1.35" fill="#2a2a2a" fill-opacity="0.78"/>
<circle cx="337.8" cy="299.2" r="1.35" fill="#2a2a2a" fill-opacity="0.78"/>
<circle cx="339.0" cy="302.0" r="1.35" fill="#2a2a2a" fill-opacity="0.78"/>
<circle cx="339.1" cy="305.6" r="1.35" fill="#2a2a2a" fill-opacity="0.78"/>
<circle cx="332.7" cy="304.3" r="1.35" fill="#2a2a2a" fill-opacity="0.78"/>
<circle cx="339.4" cy="351.6" r="1.35" fill="#2a2a2a" fill-opacity="0.78"/>
<circle cx="341.6" cy="351.1" r="1.35" fill="#2a2a2a" fill-opacity="0.78"/>
<circle cx="338.1" cy="351.1" r="1.35" fill="#2a2a2a" fill-opacity="0.78"/>
<circle cx="336.0" cy="351.1" r="1.35" fill="#2a2a2a" fill-opacity="0.78"/>
<text transform="translate(364.44,214.30) scale(0.95,1)" font-size="19.3" font-weight="bold" fill="#000" stroke="#000" stroke-width="0.13">D</text>
<text x="400.2" y="209.1" font-size="9.50" text-anchor="start" font-weight="normal" fill="#000" stroke="#000" stroke-width="0.30" >IgM to N protein</text>
<text x="414.8" y="228.0" font-size="8.30" text-anchor="start" font-weight="normal" fill="#000" stroke="#000" stroke-width="0.30" >early_1_to_5_days.1_late_2</text>
<rect x="523.8" y="221.2" width="10.0" height="7.5" fill="none" stroke="#d652e6" stroke-width="1.3"/>
<line x1="523.8" y1="225.0" x2="533.8" y2="225.0" stroke="#d652e6" stroke-width="1" stroke-opacity="1"/>
<line x1="528.8" y1="219.2" x2="528.8" y2="229.8" stroke="#dc3ce4" stroke-width="1.2" stroke-opacity="1"/>
<circle cx="528.8" cy="225.0" r="1.8" fill="#dc3ce4" fill-opacity="1"/>
<text x="538.8" y="228.0" font-size="6.60" text-anchor="start" font-weight="normal" fill="#000" stroke="#000" stroke-width="0.08" >Early infusion (2-5 days)</text>
<rect x="614.8" y="221.2" width="10.0" height="7.5" fill="none" stroke="#b0102c" stroke-width="1.3"/>
<line x1="614.8" y1="225.0" x2="624.8" y2="225.0" stroke="#b0102c" stroke-width="1" stroke-opacity="1"/>
<line x1="619.8" y1="219.2" x2="619.8" y2="229.8" stroke="#c01430" stroke-width="1.2" stroke-opacity="1"/>
<circle cx="619.8" cy="225.0" r="1.8" fill="#c01430" fill-opacity="1"/>
<text x="629.8" y="228.0" font-size="6.60" text-anchor="start" font-weight="normal" fill="#000" stroke="#000" stroke-width="0.08" >Late infusion (6-9 days)</text>
<rect x="400.2" y="242.3" width="154.4" height="11.9" fill="#e9e9e9" stroke="#4a4a4a" stroke-width="1.2"/>
<text x="477.4" y="250.8" font-size="6.60" text-anchor="middle" font-weight="normal" fill="#000" stroke="#000" stroke-width="0.06" >Control</text>
<line x1="400.2" y1="371.5" x2="554.6" y2="371.5" stroke="#444" stroke-width="1.0" stroke-opacity="1"/>
<rect x="558.6" y="242.3" width="154.7" height="11.9" fill="#e9e9e9" stroke="#4a4a4a" stroke-width="1.2"/>
<text x="636.0" y="250.8" font-size="6.60" text-anchor="middle" font-weight="normal" fill="#000" stroke="#000" stroke-width="0.06" >Convalescent</text>
<line x1="558.6" y1="371.5" x2="713.3" y2="371.5" stroke="#444" stroke-width="1.0" stroke-opacity="1"/>
<line x1="400.5" y1="254.2" x2="400.5" y2="371.2" stroke="#444" stroke-width="1.0" stroke-opacity="1"/>
<line x1="398.0" y1="263.5" x2="400.5" y2="263.5" stroke="#444" stroke-width="1.0" stroke-opacity="1"/>
<text x="397.0" y="267.1" font-size="8.40" text-anchor="end" font-weight="normal" fill="#000" stroke="#000" stroke-width="0.30" >4</text>
<line x1="398.0" y1="288.7" x2="400.5" y2="288.7" stroke="#444" stroke-width="1.0" stroke-opacity="1"/>
<text x="397.0" y="292.3" font-size="8.40" text-anchor="end" font-weight="normal" fill="#000" stroke="#000" stroke-width="0.30" >3</text>
<line x1="398.0" y1="313.8" x2="400.5" y2="313.8" stroke="#444" stroke-width="1.0" stroke-opacity="1"/>
<text x="397.0" y="317.4" font-size="8.40" text-anchor="end" font-weight="normal" fill="#000" stroke="#000" stroke-width="0.30" >2</text>
<line x1="398.0" y1="338.9" x2="400.5" y2="338.9" stroke="#444" stroke-width="1.0" stroke-opacity="1"/>
<text x="397.0" y="342.5" font-size="8.40" text-anchor="end" font-weight="normal" fill="#000" stroke="#000" stroke-width="0.30" >1</text>
<line x1="398.0" y1="363.8" x2="400.5" y2="363.8" stroke="#444" stroke-width="1.0" stroke-opacity="1"/>
<text x="397.0" y="367.4" font-size="8.40" text-anchor="end" font-weight="normal" fill="#000" stroke="#000" stroke-width="0.30" >0</text>
<text transform="translate(365.9,317) rotate(-90)" font-size="8.30" text-anchor="middle" fill="#000" stroke="#000" stroke-width="0.05">ELISA titers ( log<tspan font-size="5.5" dy="2">10</tspan><tspan dy="-2"> )</tspan></text>
<text x="556.2" y="391.5" font-size="8.10" text-anchor="middle" font-weight="normal" fill="#000" stroke="#000" stroke-width="0.30" >Days post plasma infusion</text>
<line x1="418.0" y1="371.2" x2="418.0" y2="373.7" stroke="#3a3a3a" stroke-width="1.0" stroke-opacity="1"/>
<text x="418.0" y="382.3" font-size="8.20" text-anchor="middle" font-weight="normal" fill="#000" stroke="#000" stroke-width="0.30" >-1</text>
<text x="418.0" y="262.0" font-size="7.20" text-anchor="middle" font-weight="normal" fill="#000" stroke="#000" stroke-width="0.12" >ns</text>
<line x1="447.7" y1="371.2" x2="447.7" y2="373.7" stroke="#3a3a3a" stroke-width="1.0" stroke-opacity="1"/>
<text x="447.7" y="382.3" font-size="8.20" text-anchor="middle" font-weight="normal" fill="#000" stroke="#000" stroke-width="0.30" >0</text>
<text x="447.7" y="262.0" font-size="7.20" text-anchor="middle" font-weight="normal" fill="#000" stroke="#000" stroke-width="0.12" >ns</text>
<line x1="477.4" y1="371.2" x2="477.4" y2="373.7" stroke="#3a3a3a" stroke-width="1.0" stroke-opacity="1"/>
<text x="477.4" y="382.3" font-size="8.20" text-anchor="middle" font-weight="normal" fill="#000" stroke="#000" stroke-width="0.30" >14</text>
<text x="477.4" y="262.0" font-size="7.20" text-anchor="middle" font-weight="normal" fill="#000" stroke="#000" stroke-width="0.12" >ns</text>
<line x1="507.1" y1="371.2" x2="507.1" y2="373.7" stroke="#3a3a3a" stroke-width="1.0" stroke-opacity="1"/>
<text x="507.1" y="382.3" font-size="8.20" text-anchor="middle" font-weight="normal" fill="#000" stroke="#000" stroke-width="0.30" >28</text>
<text x="507.1" y="262.0" font-size="7.20" text-anchor="middle" font-weight="normal" fill="#000" stroke="#000" stroke-width="0.12" >ns</text>
<line x1="536.8" y1="371.2" x2="536.8" y2="373.7" stroke="#3a3a3a" stroke-width="1.0" stroke-opacity="1"/>
<text x="536.8" y="382.3" font-size="8.20" text-anchor="middle" font-weight="normal" fill="#000" stroke="#000" stroke-width="0.30" >90</text>
<text x="536.8" y="262.0" font-size="7.20" text-anchor="middle" font-weight="normal" fill="#000" stroke="#000" stroke-width="0.12" >ns</text>
<line x1="576.5" y1="371.2" x2="576.5" y2="373.7" stroke="#3a3a3a" stroke-width="1.0" stroke-opacity="1"/>
<text x="576.5" y="382.3" font-size="8.20" text-anchor="middle" font-weight="normal" fill="#000" stroke="#000" stroke-width="0.30" >-1</text>
<text x="576.5" y="262.0" font-size="7.20" text-anchor="middle" font-weight="normal" fill="#000" stroke="#000" stroke-width="0.12" >ns</text>
<line x1="606.2" y1="371.2" x2="606.2" y2="373.7" stroke="#3a3a3a" stroke-width="1.0" stroke-opacity="1"/>
<text x="606.2" y="382.3" font-size="8.20" text-anchor="middle" font-weight="normal" fill="#000" stroke="#000" stroke-width="0.30" >0</text>
<text x="606.2" y="262.0" font-size="7.20" text-anchor="middle" font-weight="normal" fill="#000" stroke="#000" stroke-width="0.12" >ns</text>
<line x1="636.0" y1="371.2" x2="636.0" y2="373.7" stroke="#3a3a3a" stroke-width="1.0" stroke-opacity="1"/>
<text x="636.0" y="382.3" font-size="8.20" text-anchor="middle" font-weight="normal" fill="#000" stroke="#000" stroke-width="0.30" >14</text>
<text x="636.0" y="262.0" font-size="7.20" text-anchor="middle" font-weight="normal" fill="#000" stroke="#000" stroke-width="0.12" >ns</text>
<line x1="665.7" y1="371.2" x2="665.7" y2="373.7" stroke="#3a3a3a" stroke-width="1.0" stroke-opacity="1"/>
<text x="665.7" y="382.3" font-size="8.20" text-anchor="middle" font-weight="normal" fill="#000" stroke="#000" stroke-width="0.30" >28</text>
<text x="665.7" y="262.0" font-size="7.20" text-anchor="middle" font-weight="normal" fill="#000" stroke="#000" stroke-width="0.12" >ns</text>
<line x1="695.4" y1="371.2" x2="695.4" y2="373.7" stroke="#3a3a3a" stroke-width="1.0" stroke-opacity="1"/>
<text x="695.4" y="382.3" font-size="8.20" text-anchor="middle" font-weight="normal" fill="#000" stroke="#000" stroke-width="0.30" >90</text>
<text x="695.4" y="262.0" font-size="7.20" text-anchor="middle" font-weight="normal" fill="#000" stroke="#000" stroke-width="0.12" >ns</text>
<rect x="406.1" y="297.3" width="11.9" height="16.7" fill="none" stroke="#d652e6" stroke-width="1.4"/>
<line x1="406.1" y1="314.0" x2="418.0" y2="314.0" stroke="#d652e6" stroke-width="1.3" stroke-opacity="1"/>
<line x1="412.1" y1="293.3" x2="412.1" y2="297.3" stroke="#dc3ce4" stroke-width="1.0" stroke-opacity="0.6"/>
<line x1="412.1" y1="314.0" x2="412.1" y2="344.6" stroke="#dc3ce4" stroke-width="1.0" stroke-opacity="0.6"/>
<line x1="412.1" y1="297.3" x2="412.1" y2="314.0" stroke="#dc3ce4" stroke-width="1.0" stroke-opacity="0.7"/>
<circle cx="412.1" cy="318.8" r="2.1" fill="#dc3ce4" fill-opacity="1"/>
<rect x="418.0" y="304.8" width="11.9" height="21.3" fill="none" stroke="#b0102c" stroke-width="1.4"/>
<line x1="418.0" y1="309.4" x2="429.9" y2="309.4" stroke="#b0102c" stroke-width="1.3" stroke-opacity="1"/>
<line x1="424.0" y1="283.6" x2="424.0" y2="304.8" stroke="#c01430" stroke-width="1.8" stroke-opacity="1"/>
<line x1="424.0" y1="326.1" x2="424.0" y2="345.2" stroke="#c01430" stroke-width="1.8" stroke-opacity="1"/>
<line x1="424.0" y1="304.8" x2="424.0" y2="326.1" stroke="#c01430" stroke-width="1.0" stroke-opacity="0.7"/>
<circle cx="424.0" cy="316.8" r="2.1" fill="#c01430" fill-opacity="1"/>
<circle cx="424.0" cy="275.8" r="1.5" fill="#c01430" fill-opacity="1"/>
<rect x="435.8" y="297.3" width="11.9" height="16.7" fill="none" stroke="#d652e6" stroke-width="1.4"/>
<line x1="435.8" y1="314.0" x2="447.7" y2="314.0" stroke="#d652e6" stroke-width="1.3" stroke-opacity="1"/>
<line x1="441.8" y1="284.2" x2="441.8" y2="297.3" stroke="#dc3ce4" stroke-width="1.0" stroke-opacity="0.6"/>
<line x1="441.8" y1="314.0" x2="441.8" y2="344.6" stroke="#dc3ce4" stroke-width="1.0" stroke-opacity="0.6"/>
<line x1="441.8" y1="297.3" x2="441.8" y2="314.0" stroke="#dc3ce4" stroke-width="1.0" stroke-opacity="0.7"/>
<circle cx="441.8" cy="317.4" r="2.1" fill="#dc3ce4" fill-opacity="1"/>
<rect x="447.7" y="297.3" width="11.9" height="28.8" fill="none" stroke="#b0102c" stroke-width="1.4"/>
<line x1="447.7" y1="306.0" x2="459.6" y2="306.0" stroke="#b0102c" stroke-width="1.3" stroke-opacity="1"/>
<line x1="453.6" y1="276.2" x2="453.6" y2="297.3" stroke="#c01430" stroke-width="1.9" stroke-opacity="1"/>
<line x1="453.6" y1="326.1" x2="453.6" y2="361.7" stroke="#c01430" stroke-width="1.9" stroke-opacity="1"/>
<line x1="453.6" y1="297.3" x2="453.6" y2="326.1" stroke="#c01430" stroke-width="1.0" stroke-opacity="0.7"/>
<circle cx="453.6" cy="316.4" r="2.1" fill="#c01430" fill-opacity="1"/>
<rect x="465.5" y="282.9" width="11.9" height="22.6" fill="none" stroke="#d652e6" stroke-width="1.4"/>
<line x1="465.5" y1="290.6" x2="477.4" y2="290.6" stroke="#d652e6" stroke-width="1.3" stroke-opacity="1"/>
<line x1="471.5" y1="260.7" x2="471.5" y2="282.9" stroke="#dc3ce4" stroke-width="1.8" stroke-opacity="1"/>
<line x1="471.5" y1="305.5" x2="471.5" y2="316.8" stroke="#dc3ce4" stroke-width="1.0" stroke-opacity="0.6"/>
<line x1="471.5" y1="282.9" x2="471.5" y2="305.5" stroke="#dc3ce4" stroke-width="1.0" stroke-opacity="0.7"/>
<circle cx="471.5" cy="294.6" r="2.1" fill="#dc3ce4" fill-opacity="1"/>
<circle cx="471.5" cy="363.5" r="1.5" fill="#dc3ce4" fill-opacity="1"/>
<rect x="477.4" y="290.6" width="11.9" height="15.6" fill="none" stroke="#b0102c" stroke-width="1.4"/>
<line x1="477.4" y1="298.1" x2="489.3" y2="298.1" stroke="#b0102c" stroke-width="1.3" stroke-opacity="1"/>
<line x1="483.3" y1="280.5" x2="483.3" y2="290.6" stroke="#c01430" stroke-width="1.0" stroke-opacity="0.6"/>
<line x1="483.3" y1="306.2" x2="483.3" y2="321.4" stroke="#c01430" stroke-width="1.0" stroke-opacity="0.6"/>
<line x1="483.3" y1="290.6" x2="483.3" y2="306.2" stroke="#c01430" stroke-width="1.0" stroke-opacity="0.7"/>
<circle cx="483.3" cy="299.2" r="2.1" fill="#c01430" fill-opacity="1"/>
<circle cx="483.3" cy="259.5" r="1.5" fill="#c01430" fill-opacity="1"/>
<circle cx="483.3" cy="363.5" r="1.5" fill="#c01430" fill-opacity="1"/>
<rect x="495.2" y="290.6" width="11.9" height="15.6" fill="none" stroke="#d652e6" stroke-width="1.4"/>
<line x1="495.2" y1="296.9" x2="507.1" y2="296.9" stroke="#d652e6" stroke-width="1.3" stroke-opacity="1"/>
<line x1="501.2" y1="281.7" x2="501.2" y2="290.6" stroke="#dc3ce4" stroke-width="1.0" stroke-opacity="0.6"/>
<line x1="501.2" y1="306.2" x2="501.2" y2="319.1" stroke="#dc3ce4" stroke-width="1.0" stroke-opacity="0.6"/>
<line x1="501.2" y1="290.6" x2="501.2" y2="306.2" stroke="#dc3ce4" stroke-width="1.0" stroke-opacity="0.7"/>
<circle cx="501.2" cy="300.9" r="2.1" fill="#dc3ce4" fill-opacity="1"/>
<circle cx="501.2" cy="259.5" r="1.5" fill="#dc3ce4" fill-opacity="1"/>
<circle cx="501.2" cy="363.5" r="1.5" fill="#dc3ce4" fill-opacity="1"/>
<rect x="507.1" y="297.6" width="11.9" height="16.4" fill="none" stroke="#b0102c" stroke-width="1.4"/>
<line x1="507.1" y1="305.1" x2="519.0" y2="305.1" stroke="#b0102c" stroke-width="1.3" stroke-opacity="1"/>
<line x1="513.0" y1="290.6" x2="513.0" y2="297.6" stroke="#c01430" stroke-width="1.0" stroke-opacity="0.6"/>
<line x1="513.0" y1="314.0" x2="513.0" y2="325.6" stroke="#c01430" stroke-width="1.0" stroke-opacity="0.6"/>
<line x1="513.0" y1="297.6" x2="513.0" y2="314.0" stroke="#c01430" stroke-width="1.0" stroke-opacity="0.7"/>
<circle cx="513.0" cy="305.1" r="2.1" fill="#c01430" fill-opacity="1"/>
<circle cx="513.0" cy="259.5" r="1.5" fill="#c01430" fill-opacity="1"/>
<circle cx="513.0" cy="363.5" r="1.5" fill="#c01430" fill-opacity="1"/>
<rect x="524.9" y="297.6" width="11.9" height="14.0" fill="none" stroke="#d652e6" stroke-width="1.4"/>
<line x1="524.9" y1="303.9" x2="536.8" y2="303.9" stroke="#d652e6" stroke-width="1.3" stroke-opacity="1"/>
<line x1="530.8" y1="290.6" x2="530.8" y2="297.6" stroke="#dc3ce4" stroke-width="1.0" stroke-opacity="0.6"/>
<line x1="530.8" y1="311.6" x2="530.8" y2="329.6" stroke="#dc3ce4" stroke-width="1.0" stroke-opacity="0.6"/>
<line x1="530.8" y1="297.6" x2="530.8" y2="311.6" stroke="#dc3ce4" stroke-width="1.0" stroke-opacity="0.7"/>
<circle cx="530.8" cy="309.3" r="2.1" fill="#dc3ce4" fill-opacity="1"/>
<circle cx="530.8" cy="363.5" r="1.5" fill="#dc3ce4" fill-opacity="1"/>
<rect x="536.8" y="308.6" width="11.9" height="29.6" fill="none" stroke="#b0102c" stroke-width="1.4"/>
<line x1="536.8" y1="313.3" x2="548.7" y2="313.3" stroke="#b0102c" stroke-width="1.3" stroke-opacity="1"/>
<line x1="542.7" y1="291.1" x2="542.7" y2="308.6" stroke="#c01430" stroke-width="1.9" stroke-opacity="1"/>
<line x1="542.7" y1="338.2" x2="542.7" y2="362.3" stroke="#c01430" stroke-width="1.9" stroke-opacity="1"/>
<line x1="542.7" y1="308.6" x2="542.7" y2="338.2" stroke="#c01430" stroke-width="1.0" stroke-opacity="0.7"/>
<circle cx="542.7" cy="322.6" r="2.1" fill="#c01430" fill-opacity="1"/>
<rect x="564.6" y="299.2" width="11.9" height="14.1" fill="none" stroke="#d652e6" stroke-width="1.4"/>
<line x1="564.6" y1="309.3" x2="576.5" y2="309.3" stroke="#d652e6" stroke-width="1.3" stroke-opacity="1"/>
<line x1="570.5" y1="282.9" x2="570.5" y2="299.2" stroke="#dc3ce4" stroke-width="1.0" stroke-opacity="0.6"/>
<line x1="570.5" y1="313.3" x2="570.5" y2="343.6" stroke="#dc3ce4" stroke-width="1.0" stroke-opacity="0.6"/>
<line x1="570.5" y1="299.2" x2="570.5" y2="313.3" stroke="#dc3ce4" stroke-width="1.0" stroke-opacity="0.7"/>
<circle cx="570.5" cy="316.3" r="2.1" fill="#dc3ce4" fill-opacity="1"/>
<rect x="576.5" y="303.9" width="11.9" height="59.1" fill="none" stroke="#b0102c" stroke-width="1.4"/>
<line x1="576.5" y1="305.1" x2="588.4" y2="305.1" stroke="#b0102c" stroke-width="1.3" stroke-opacity="1"/>
<line x1="582.4" y1="275.9" x2="582.4" y2="303.9" stroke="#c01430" stroke-width="1.8" stroke-opacity="1"/>
<line x1="582.4" y1="303.9" x2="582.4" y2="363.0" stroke="#c01430" stroke-width="1.0" stroke-opacity="0.7"/>
<circle cx="582.4" cy="319.1" r="2.1" fill="#c01430" fill-opacity="1"/>
<rect x="594.3" y="297.6" width="11.9" height="15.7" fill="none" stroke="#d652e6" stroke-width="1.4"/>
<line x1="594.3" y1="306.2" x2="606.2" y2="306.2" stroke="#d652e6" stroke-width="1.3" stroke-opacity="1"/>
<line x1="600.3" y1="282.9" x2="600.3" y2="297.6" stroke="#dc3ce4" stroke-width="1.0" stroke-opacity="0.6"/>
<line x1="600.3" y1="313.3" x2="600.3" y2="330.8" stroke="#dc3ce4" stroke-width="1.0" stroke-opacity="0.6"/>
<line x1="600.3" y1="297.6" x2="600.3" y2="313.3" stroke="#dc3ce4" stroke-width="1.0" stroke-opacity="0.7"/>
<circle cx="600.3" cy="309.3" r="2.1" fill="#dc3ce4" fill-opacity="1"/>
<rect x="606.2" y="297.6" width="11.9" height="15.7" fill="none" stroke="#b0102c" stroke-width="1.4"/>
<line x1="606.2" y1="305.1" x2="618.1" y2="305.1" stroke="#b0102c" stroke-width="1.3" stroke-opacity="1"/>
<line x1="612.2" y1="275.9" x2="612.2" y2="297.6" stroke="#c01430" stroke-width="1.0" stroke-opacity="0.6"/>
<line x1="612.2" y1="313.3" x2="612.2" y2="342.0" stroke="#c01430" stroke-width="1.0" stroke-opacity="0.6"/>
<line x1="612.2" y1="297.6" x2="612.2" y2="313.3" stroke="#c01430" stroke-width="1.0" stroke-opacity="0.7"/>
<circle cx="612.2" cy="314.0" r="2.1" fill="#c01430" fill-opacity="1"/>
<rect x="624.1" y="289.9" width="11.9" height="16.8" fill="none" stroke="#d652e6" stroke-width="1.4"/>
<line x1="624.1" y1="297.6" x2="636.0" y2="297.6" stroke="#d652e6" stroke-width="1.3" stroke-opacity="1"/>
<line x1="630.0" y1="268.0" x2="630.0" y2="289.9" stroke="#dc3ce4" stroke-width="1.8" stroke-opacity="1"/>
<line x1="630.0" y1="306.7" x2="630.0" y2="318.8" stroke="#dc3ce4" stroke-width="1.8" stroke-opacity="1"/>
<line x1="630.0" y1="289.9" x2="630.0" y2="306.7" stroke="#dc3ce4" stroke-width="1.0" stroke-opacity="0.7"/>
<circle cx="630.0" cy="300.7" r="2.1" fill="#dc3ce4" fill-opacity="1"/>
<circle cx="630.0" cy="363.5" r="1.5" fill="#dc3ce4" fill-opacity="1"/>
<rect x="636.0" y="289.9" width="11.9" height="16.8" fill="none" stroke="#b0102c" stroke-width="1.4"/>
<line x1="636.0" y1="297.6" x2="647.9" y2="297.6" stroke="#b0102c" stroke-width="1.3" stroke-opacity="1"/>
<line x1="641.9" y1="268.0" x2="641.9" y2="289.9" stroke="#c01430" stroke-width="1.8" stroke-opacity="1"/>
<line x1="641.9" y1="306.7" x2="641.9" y2="318.8" stroke="#c01430" stroke-width="1.8" stroke-opacity="1"/>
<line x1="641.9" y1="289.9" x2="641.9" y2="306.7" stroke="#c01430" stroke-width="1.0" stroke-opacity="0.7"/>
<circle cx="641.9" cy="298.2" r="2.1" fill="#c01430" fill-opacity="1"/>
<circle cx="641.9" cy="363.5" r="1.5" fill="#c01430" fill-opacity="1"/>
<rect x="653.8" y="289.9" width="11.9" height="16.8" fill="none" stroke="#d652e6" stroke-width="1.4"/>
<line x1="653.8" y1="297.6" x2="665.7" y2="297.6" stroke="#d652e6" stroke-width="1.3" stroke-opacity="1"/>
<line x1="659.8" y1="282.7" x2="659.8" y2="289.9" stroke="#dc3ce4" stroke-width="1.0" stroke-opacity="0.6"/>
<line x1="659.8" y1="306.7" x2="659.8" y2="320.1" stroke="#dc3ce4" stroke-width="1.0" stroke-opacity="0.6"/>
<line x1="659.8" y1="289.9" x2="659.8" y2="306.7" stroke="#dc3ce4" stroke-width="1.0" stroke-opacity="0.7"/>
<circle cx="659.8" cy="303.3" r="2.1" fill="#dc3ce4" fill-opacity="1"/>
<circle cx="659.8" cy="363.5" r="1.5" fill="#dc3ce4" fill-opacity="1"/>
<rect x="665.7" y="289.9" width="11.9" height="23.7" fill="none" stroke="#b0102c" stroke-width="1.4"/>
<line x1="665.7" y1="305.9" x2="677.6" y2="305.9" stroke="#b0102c" stroke-width="1.3" stroke-opacity="1"/>
<line x1="671.6" y1="276.2" x2="671.6" y2="289.9" stroke="#c01430" stroke-width="1.8" stroke-opacity="1"/>
<line x1="671.6" y1="313.6" x2="671.6" y2="323.9" stroke="#c01430" stroke-width="1.8" stroke-opacity="1"/>
<line x1="671.6" y1="289.9" x2="671.6" y2="313.6" stroke="#c01430" stroke-width="1.0" stroke-opacity="0.7"/>
<circle cx="671.6" cy="304.1" r="2.1" fill="#c01430" fill-opacity="1"/>
<circle cx="671.6" cy="363.5" r="1.5" fill="#c01430" fill-opacity="1"/>
<rect x="683.5" y="297.6" width="11.9" height="41.0" fill="none" stroke="#d652e6" stroke-width="1.4"/>
<line x1="683.5" y1="312.9" x2="695.4" y2="312.9" stroke="#d652e6" stroke-width="1.3" stroke-opacity="1"/>
<line x1="689.5" y1="290.4" x2="689.5" y2="297.6" stroke="#dc3ce4" stroke-width="1.9" stroke-opacity="1"/>
<line x1="689.5" y1="338.6" x2="689.5" y2="362.6" stroke="#dc3ce4" stroke-width="1.9" stroke-opacity="1"/>
<line x1="689.5" y1="297.6" x2="689.5" y2="338.6" stroke="#dc3ce4" stroke-width="1.0" stroke-opacity="0.7"/>
<circle cx="689.5" cy="318.8" r="2.1" fill="#dc3ce4" fill-opacity="1"/>
<rect x="695.4" y="301.5" width="11.9" height="61.1" fill="none" stroke="#b0102c" stroke-width="1.4"/>
<line x1="695.4" y1="312.9" x2="707.3" y2="312.9" stroke="#b0102c" stroke-width="1.3" stroke-opacity="1"/>
<line x1="701.4" y1="290.4" x2="701.4" y2="301.5" stroke="#c01430" stroke-width="1.0" stroke-opacity="0.6"/>
<line x1="701.4" y1="301.5" x2="701.4" y2="351.0" stroke="#c01430" stroke-width="1.0" stroke-opacity="0.7"/>
<circle cx="701.4" cy="322.1" r="2.1" fill="#c01430" fill-opacity="1"/>
<circle cx="418.1" cy="290.9" r="1.35" fill="#2a2a2a" fill-opacity="0.78"/>
<circle cx="416.5" cy="312.2" r="1.35" fill="#2a2a2a" fill-opacity="0.78"/>
<circle cx="418.3" cy="308.4" r="1.35" fill="#2a2a2a" fill-opacity="0.78"/>
<circle cx="413.6" cy="288.0" r="1.35" fill="#2a2a2a" fill-opacity="0.78"/>
<circle cx="418.4" cy="313.4" r="1.35" fill="#2a2a2a" fill-opacity="0.78"/>
<circle cx="420.1" cy="284.4" r="1.35" fill="#2a2a2a" fill-opacity="0.78"/>
<circle cx="419.9" cy="308.9" r="1.35" fill="#2a2a2a" fill-opacity="0.78"/>
<circle cx="414.6" cy="291.2" r="1.35" fill="#2a2a2a" fill-opacity="0.78"/>
<circle cx="417.8" cy="309.7" r="1.35" fill="#2a2a2a" fill-opacity="0.78"/>
<circle cx="417.7" cy="302.9" r="1.35" fill="#2a2a2a" fill-opacity="0.78"/>
<circle cx="423.9" cy="293.0" r="1.35" fill="#2a2a2a" fill-opacity="0.78"/>
<circle cx="415.7" cy="363.5" r="1.35" fill="#2a2a2a" fill-opacity="0.78"/>
<circle cx="420.7" cy="363.3" r="1.35" fill="#2a2a2a" fill-opacity="0.78"/>
<circle cx="415.6" cy="363.3" r="1.35" fill="#2a2a2a" fill-opacity="0.78"/>
<circle cx="415.6" cy="305.4" r="1.35" fill="#2a2a2a" fill-opacity="0.78"/>
<circle cx="414.4" cy="309.4" r="1.35" fill="#2a2a2a" fill-opacity="0.78"/>
<circle cx="419.1" cy="293.3" r="1.35" fill="#2a2a2a" fill-opacity="0.78"/>
<circle cx="413.0" cy="313.1" r="1.35" fill="#2a2a2a" fill-opacity="0.78"/>
<circle cx="423.0" cy="305.9" r="1.35" fill="#2a2a2a" fill-opacity="0.78"/>
<circle cx="414.0" cy="304.2" r="1.35" fill="#2a2a2a" fill-opacity="0.78"/>
<circle cx="420.9" cy="287.3" r="1.35" fill="#2a2a2a" fill-opacity="0.78"/>
<circle cx="416.7" cy="300.9" r="1.35" fill="#2a2a2a" fill-opacity="0.78"/>
<circle cx="411.0" cy="301.4" r="1.35" fill="#2a2a2a" fill-opacity="0.78"/>
<circle cx="413.6" cy="284.6" r="1.35" fill="#2a2a2a" fill-opacity="0.78"/>
<circle cx="419.9" cy="305.3" r="1.35" fill="#2a2a2a" fill-opacity="0.78"/>
<circle cx="411.0" cy="363.3" r="1.35" fill="#2a2a2a" fill-opacity="0.78"/>
<circle cx="415.8" cy="363.7" r="1.35" fill="#2a2a2a" fill-opacity="0.78"/>
<circle cx="421.4" cy="363.8" r="1.35" fill="#2a2a2a" fill-opacity="0.78"/>
<circle cx="448.1" cy="285.9" r="1.35" fill="#2a2a2a" fill-opacity="0.78"/>
<circle cx="445.9" cy="291.1" r="1.35" fill="#2a2a2a" fill-opacity="0.78"/>
<circle cx="446.2" cy="313.8" r="1.35" fill="#2a2a2a" fill-opacity="0.78"/>
<circle cx="450.1" cy="278.3" r="1.35" fill="#2a2a2a" fill-opacity="0.78"/>
<circle cx="454.6" cy="298.2" r="1.35" fill="#2a2a2a" fill-opacity="0.78"/>
<circle cx="450.4" cy="290.9" r="1.35" fill="#2a2a2a" fill-opacity="0.78"/>
<circle cx="442.0" cy="298.4" r="1.35" fill="#2a2a2a" fill-opacity="0.78"/>
<circle cx="446.4" cy="304.4" r="1.35" fill="#2a2a2a" fill-opacity="0.78"/>
<circle cx="442.3" cy="298.0" r="1.35" fill="#2a2a2a" fill-opacity="0.78"/>
<circle cx="447.7" cy="297.3" r="1.35" fill="#2a2a2a" fill-opacity="0.78"/>
<circle cx="452.9" cy="296.7" r="1.35" fill="#2a2a2a" fill-opacity="0.78"/>
<circle cx="449.5" cy="363.8" r="1.35" fill="#2a2a2a" fill-opacity="0.78"/>
<circle cx="447.6" cy="363.3" r="1.35" fill="#2a2a2a" fill-opacity="0.78"/>
<circle cx="446.5" cy="363.3" r="1.35" fill="#2a2a2a" fill-opacity="0.78"/>
<circle cx="440.7" cy="297.6" r="1.35" fill="#2a2a2a" fill-opacity="0.78"/>
<circle cx="443.9" cy="282.3" r="1.35" fill="#2a2a2a" fill-opacity="0.78"/>
<circle cx="447.0" cy="299.8" r="1.35" fill="#2a2a2a" fill-opacity="0.78"/>
<circle cx="451.5" cy="287.0" r="1.35" fill="#2a2a2a" fill-opacity="0.78"/>
<circle cx="444.7" cy="306.6" r="1.35" fill="#2a2a2a" fill-opacity="0.78"/>
<circle cx="446.1" cy="299.0" r="1.35" fill="#2a2a2a" fill-opacity="0.78"/>
<circle cx="448.6" cy="293.5" r="1.35" fill="#2a2a2a" fill-opacity="0.78"/>
<circle cx="440.7" cy="297.6" r="1.35" fill="#2a2a2a" fill-opacity="0.78"/>
<circle cx="445.8" cy="312.2" r="1.35" fill="#2a2a2a" fill-opacity="0.78"/>
<circle cx="444.4" cy="278.9" r="1.35" fill="#2a2a2a" fill-opacity="0.78"/>
<circle cx="452.2" cy="287.4" r="1.35" fill="#2a2a2a" fill-opacity="0.78"/>
<circle cx="445.9" cy="363.8" r="1.35" fill="#2a2a2a" fill-opacity="0.78"/>
<circle cx="443.0" cy="363.4" r="1.35" fill="#2a2a2a" fill-opacity="0.78"/>
<circle cx="447.2" cy="363.5" r="1.35" fill="#2a2a2a" fill-opacity="0.78"/>
<circle cx="480.5" cy="271.2" r="1.35" fill="#2a2a2a" fill-opacity="0.78"/>
<circle cx="474.0" cy="277.1" r="1.35" fill="#2a2a2a" fill-opacity="0.78"/>
<circle cx="480.8" cy="284.9" r="1.35" fill="#2a2a2a" fill-opacity="0.78"/>
<circle cx="482.8" cy="282.0" r="1.35" fill="#2a2a2a" fill-opacity="0.78"/>
<circle cx="471.9" cy="278.5" r="1.35" fill="#2a2a2a" fill-opacity="0.78"/>
<circle cx="478.4" cy="308.1" r="1.35" fill="#2a2a2a" fill-opacity="0.78"/>
<circle cx="478.3" cy="305.5" r="1.35" fill="#2a2a2a" fill-opacity="0.78"/>
<circle cx="477.1" cy="303.4" r="1.35" fill="#2a2a2a" fill-opacity="0.78"/>
<circle cx="481.2" cy="271.3" r="1.35" fill="#2a2a2a" fill-opacity="0.78"/>
<circle cx="480.1" cy="280.1" r="1.35" fill="#2a2a2a" fill-opacity="0.78"/>
<circle cx="471.5" cy="303.8" r="1.35" fill="#2a2a2a" fill-opacity="0.78"/>
<circle cx="476.5" cy="312.2" r="1.35" fill="#2a2a2a" fill-opacity="0.78"/>
<circle cx="474.6" cy="280.5" r="1.35" fill="#2a2a2a" fill-opacity="0.78"/>
<circle cx="474.6" cy="291.2" r="1.35" fill="#2a2a2a" fill-opacity="0.78"/>
<circle cx="477.9" cy="363.8" r="1.35" fill="#2a2a2a" fill-opacity="0.78"/>
<circle cx="473.3" cy="317.4" r="1.35" fill="#2a2a2a" fill-opacity="0.78"/>
<circle cx="475.5" cy="280.7" r="1.35" fill="#2a2a2a" fill-opacity="0.78"/>
<circle cx="478.2" cy="277.2" r="1.35" fill="#2a2a2a" fill-opacity="0.78"/>
<circle cx="481.9" cy="316.3" r="1.35" fill="#2a2a2a" fill-opacity="0.78"/>
<circle cx="475.5" cy="290.7" r="1.35" fill="#2a2a2a" fill-opacity="0.78"/>
<circle cx="480.4" cy="309.7" r="1.35" fill="#2a2a2a" fill-opacity="0.78"/>
<circle cx="481.7" cy="278.2" r="1.35" fill="#2a2a2a" fill-opacity="0.78"/>
<circle cx="474.9" cy="287.0" r="1.35" fill="#2a2a2a" fill-opacity="0.78"/>
<circle cx="476.8" cy="312.4" r="1.35" fill="#2a2a2a" fill-opacity="0.78"/>
<circle cx="475.2" cy="311.9" r="1.35" fill="#2a2a2a" fill-opacity="0.78"/>
<circle cx="477.9" cy="281.0" r="1.35" fill="#2a2a2a" fill-opacity="0.78"/>
<circle cx="480.5" cy="304.5" r="1.35" fill="#2a2a2a" fill-opacity="0.78"/>
<circle cx="482.3" cy="273.0" r="1.35" fill="#2a2a2a" fill-opacity="0.78"/>
<circle cx="478.9" cy="310.4" r="1.35" fill="#2a2a2a" fill-opacity="0.78"/>
<circle cx="473.2" cy="363.1" r="1.35" fill="#2a2a2a" fill-opacity="0.78"/>
<circle cx="505.9" cy="289.1" r="1.35" fill="#2a2a2a" fill-opacity="0.78"/>
<circle cx="501.3" cy="302.4" r="1.35" fill="#2a2a2a" fill-opacity="0.78"/>
<circle cx="514.1" cy="308.7" r="1.35" fill="#2a2a2a" fill-opacity="0.78"/>
<circle cx="508.5" cy="288.5" r="1.35" fill="#2a2a2a" fill-opacity="0.78"/>
<circle cx="507.7" cy="304.7" r="1.35" fill="#2a2a2a" fill-opacity="0.78"/>
<circle cx="508.3" cy="304.0" r="1.35" fill="#2a2a2a" fill-opacity="0.78"/>
<circle cx="509.4" cy="304.7" r="1.35" fill="#2a2a2a" fill-opacity="0.78"/>
<circle cx="505.5" cy="294.9" r="1.35" fill="#2a2a2a" fill-opacity="0.78"/>
<circle cx="510.4" cy="301.5" r="1.35" fill="#2a2a2a" fill-opacity="0.78"/>
<circle cx="505.2" cy="294.0" r="1.35" fill="#2a2a2a" fill-opacity="0.78"/>
<circle cx="509.5" cy="295.0" r="1.35" fill="#2a2a2a" fill-opacity="0.78"/>
<circle cx="507.1" cy="295.4" r="1.35" fill="#2a2a2a" fill-opacity="0.78"/>
<circle cx="507.7" cy="302.2" r="1.35" fill="#2a2a2a" fill-opacity="0.78"/>
<circle cx="506.9" cy="363.8" r="1.35" fill="#2a2a2a" fill-opacity="0.78"/>
<circle cx="508.7" cy="299.3" r="1.35" fill="#2a2a2a" fill-opacity="0.78"/>
<circle cx="504.2" cy="309.3" r="1.35" fill="#2a2a2a" fill-opacity="0.78"/>
<circle cx="506.9" cy="306.1" r="1.35" fill="#2a2a2a" fill-opacity="0.78"/>
<circle cx="503.6" cy="304.6" r="1.35" fill="#2a2a2a" fill-opacity="0.78"/>
<circle cx="503.7" cy="300.0" r="1.35" fill="#2a2a2a" fill-opacity="0.78"/>
<circle cx="504.3" cy="300.1" r="1.35" fill="#2a2a2a" fill-opacity="0.78"/>
<circle cx="508.8" cy="299.2" r="1.35" fill="#2a2a2a" fill-opacity="0.78"/>
<circle cx="503.1" cy="306.9" r="1.35" fill="#2a2a2a" fill-opacity="0.78"/>
<circle cx="506.4" cy="309.4" r="1.35" fill="#2a2a2a" fill-opacity="0.78"/>
<circle cx="507.2" cy="295.2" r="1.35" fill="#2a2a2a" fill-opacity="0.78"/>
<circle cx="507.8" cy="288.8" r="1.35" fill="#2a2a2a" fill-opacity="0.78"/>
<circle cx="508.4" cy="294.9" r="1.35" fill="#2a2a2a" fill-opacity="0.78"/>
<circle cx="502.7" cy="292.6" r="1.35" fill="#2a2a2a" fill-opacity="0.78"/>
<circle cx="511.3" cy="363.7" r="1.35" fill="#2a2a2a" fill-opacity="0.78"/>
<circle cx="502.5" cy="363.7" r="1.35" fill="#2a2a2a" fill-opacity="0.78"/>
<circle cx="536.7" cy="299.9" r="1.35" fill="#2a2a2a" fill-opacity="0.78"/>
<circle cx="533.2" cy="304.6" r="1.35" fill="#2a2a2a" fill-opacity="0.78"/>
<circle cx="543.8" cy="315.5" r="1.35" fill="#2a2a2a" fill-opacity="0.78"/>
<circle cx="529.8" cy="313.1" r="1.35" fill="#2a2a2a" fill-opacity="0.78"/>
<circle cx="539.0" cy="317.1" r="1.35" fill="#2a2a2a" fill-opacity="0.78"/>
<circle cx="537.9" cy="304.3" r="1.35" fill="#2a2a2a" fill-opacity="0.78"/>
<circle cx="534.0" cy="313.9" r="1.35" fill="#2a2a2a" fill-opacity="0.78"/>
<circle cx="536.5" cy="303.5" r="1.35" fill="#2a2a2a" fill-opacity="0.78"/>
<circle cx="538.1" cy="317.8" r="1.35" fill="#2a2a2a" fill-opacity="0.78"/>
<circle cx="536.7" cy="288.4" r="1.35" fill="#2a2a2a" fill-opacity="0.78"/>
<circle cx="538.7" cy="307.2" r="1.35" fill="#2a2a2a" fill-opacity="0.78"/>
<circle cx="539.4" cy="363.1" r="1.35" fill="#2a2a2a" fill-opacity="0.78"/>
<circle cx="529.8" cy="301.1" r="1.35" fill="#2a2a2a" fill-opacity="0.78"/>
<circle cx="533.8" cy="310.9" r="1.35" fill="#2a2a2a" fill-opacity="0.78"/>
<circle cx="533.1" cy="293.2" r="1.35" fill="#2a2a2a" fill-opacity="0.78"/>
<circle cx="534.4" cy="301.9" r="1.35" fill="#2a2a2a" fill-opacity="0.78"/>
<circle cx="540.8" cy="294.5" r="1.35" fill="#2a2a2a" fill-opacity="0.78"/>
<circle cx="533.9" cy="301.4" r="1.35" fill="#2a2a2a" fill-opacity="0.78"/>
<circle cx="533.9" cy="305.3" r="1.35" fill="#2a2a2a" fill-opacity="0.78"/>
<circle cx="536.0" cy="306.9" r="1.35" fill="#2a2a2a" fill-opacity="0.78"/>
<circle cx="539.1" cy="307.7" r="1.35" fill="#2a2a2a" fill-opacity="0.78"/>
<circle cx="537.0" cy="294.4" r="1.35" fill="#2a2a2a" fill-opacity="0.78"/>
<circle cx="541.8" cy="298.0" r="1.35" fill="#2a2a2a" fill-opacity="0.78"/>
<circle cx="539.3" cy="364.0" r="1.35" fill="#2a2a2a" fill-opacity="0.78"/>
<circle cx="535.4" cy="363.6" r="1.35" fill="#2a2a2a" fill-opacity="0.78"/>
<circle cx="575.9" cy="285.5" r="1.35" fill="#2a2a2a" fill-opacity="0.78"/>
<circle cx="578.5" cy="305.3" r="1.35" fill="#2a2a2a" fill-opacity="0.78"/>
<circle cx="571.6" cy="277.3" r="1.35" fill="#2a2a2a" fill-opacity="0.78"/>
<circle cx="582.2" cy="280.6" r="1.35" fill="#2a2a2a" fill-opacity="0.78"/>
<circle cx="577.7" cy="283.1" r="1.35" fill="#2a2a2a" fill-opacity="0.78"/>
<circle cx="578.4" cy="293.9" r="1.35" fill="#2a2a2a" fill-opacity="0.78"/>
<circle cx="576.8" cy="313.3" r="1.35" fill="#2a2a2a" fill-opacity="0.78"/>
<circle cx="575.3" cy="308.1" r="1.35" fill="#2a2a2a" fill-opacity="0.78"/>
<circle cx="578.8" cy="282.4" r="1.35" fill="#2a2a2a" fill-opacity="0.78"/>
<circle cx="573.4" cy="312.4" r="1.35" fill="#2a2a2a" fill-opacity="0.78"/>
<circle cx="573.0" cy="276.7" r="1.35" fill="#2a2a2a" fill-opacity="0.78"/>
<circle cx="573.5" cy="363.8" r="1.35" fill="#2a2a2a" fill-opacity="0.78"/>
<circle cx="575.2" cy="363.3" r="1.35" fill="#2a2a2a" fill-opacity="0.78"/>
<circle cx="576.0" cy="294.8" r="1.35" fill="#2a2a2a" fill-opacity="0.78"/>
<circle cx="574.4" cy="313.7" r="1.35" fill="#2a2a2a" fill-opacity="0.78"/>
<circle cx="576.6" cy="311.7" r="1.35" fill="#2a2a2a" fill-opacity="0.78"/>
<circle cx="579.1" cy="302.0" r="1.35" fill="#2a2a2a" fill-opacity="0.78"/>
<circle cx="578.4" cy="284.5" r="1.35" fill="#2a2a2a" fill-opacity="0.78"/>
<circle cx="577.3" cy="286.6" r="1.35" fill="#2a2a2a" fill-opacity="0.78"/>
<circle cx="579.3" cy="314.2" r="1.35" fill="#2a2a2a" fill-opacity="0.78"/>
<circle cx="572.2" cy="301.8" r="1.35" fill="#2a2a2a" fill-opacity="0.78"/>
<circle cx="574.2" cy="303.7" r="1.35" fill="#2a2a2a" fill-opacity="0.78"/>
<circle cx="574.1" cy="294.7" r="1.35" fill="#2a2a2a" fill-opacity="0.78"/>
<circle cx="580.0" cy="290.4" r="1.35" fill="#2a2a2a" fill-opacity="0.78"/>
<circle cx="577.8" cy="363.5" r="1.35" fill="#2a2a2a" fill-opacity="0.78"/>
<circle cx="577.2" cy="364.0" r="1.35" fill="#2a2a2a" fill-opacity="0.78"/>
<circle cx="606.4" cy="289.1" r="1.35" fill="#2a2a2a" fill-opacity="0.78"/>
<circle cx="605.3" cy="297.5" r="1.35" fill="#2a2a2a" fill-opacity="0.78"/>
<circle cx="607.8" cy="309.8" r="1.35" fill="#2a2a2a" fill-opacity="0.78"/>
<circle cx="607.8" cy="294.0" r="1.35" fill="#2a2a2a" fill-opacity="0.78"/>
<circle cx="609.7" cy="304.1" r="1.35" fill="#2a2a2a" fill-opacity="0.78"/>
<circle cx="604.0" cy="282.2" r="1.35" fill="#2a2a2a" fill-opacity="0.78"/>
<circle cx="605.2" cy="302.5" r="1.35" fill="#2a2a2a" fill-opacity="0.78"/>
<circle cx="612.0" cy="276.3" r="1.35" fill="#2a2a2a" fill-opacity="0.78"/>
<circle cx="609.3" cy="282.2" r="1.35" fill="#2a2a2a" fill-opacity="0.78"/>
<circle cx="600.0" cy="298.5" r="1.35" fill="#2a2a2a" fill-opacity="0.78"/>
<circle cx="607.5" cy="303.3" r="1.35" fill="#2a2a2a" fill-opacity="0.78"/>
<circle cx="606.6" cy="363.1" r="1.35" fill="#2a2a2a" fill-opacity="0.78"/>
<circle cx="600.9" cy="363.8" r="1.35" fill="#2a2a2a" fill-opacity="0.78"/>
<circle cx="607.4" cy="276.4" r="1.35" fill="#2a2a2a" fill-opacity="0.78"/>
<circle cx="607.8" cy="276.1" r="1.35" fill="#2a2a2a" fill-opacity="0.78"/>
<circle cx="608.5" cy="278.3" r="1.35" fill="#2a2a2a" fill-opacity="0.78"/>
<circle cx="603.9" cy="276.8" r="1.35" fill="#2a2a2a" fill-opacity="0.78"/>
<circle cx="608.7" cy="309.8" r="1.35" fill="#2a2a2a" fill-opacity="0.78"/>
<circle cx="602.5" cy="276.4" r="1.35" fill="#2a2a2a" fill-opacity="0.78"/>
<circle cx="608.3" cy="282.3" r="1.35" fill="#2a2a2a" fill-opacity="0.78"/>
<circle cx="608.0" cy="279.3" r="1.35" fill="#2a2a2a" fill-opacity="0.78"/>
<circle cx="607.6" cy="281.4" r="1.35" fill="#2a2a2a" fill-opacity="0.78"/>
<circle cx="610.7" cy="281.4" r="1.35" fill="#2a2a2a" fill-opacity="0.78"/>
<circle cx="603.1" cy="280.7" r="1.35" fill="#2a2a2a" fill-opacity="0.78"/>
<circle cx="605.5" cy="363.6" r="1.35" fill="#2a2a2a" fill-opacity="0.78"/>
<circle cx="602.9" cy="363.5" r="1.35" fill="#2a2a2a" fill-opacity="0.78"/>
<circle cx="635.8" cy="269.8" r="1.35" fill="#2a2a2a" fill-opacity="0.78"/>
<circle cx="634.3" cy="283.1" r="1.35" fill="#2a2a2a" fill-opacity="0.78"/>
<circle cx="634.5" cy="268.4" r="1.35" fill="#2a2a2a" fill-opacity="0.78"/>
<circle cx="639.3" cy="285.6" r="1.35" fill="#2a2a2a" fill-opacity="0.78"/>
<circle cx="633.1" cy="292.4" r="1.35" fill="#2a2a2a" fill-opacity="0.78"/>
<circle cx="637.6" cy="285.3" r="1.35" fill="#2a2a2a" fill-opacity="0.78"/>
<circle cx="635.3" cy="299.9" r="1.35" fill="#2a2a2a" fill-opacity="0.78"/>
<circle cx="632.4" cy="308.9" r="1.35" fill="#2a2a2a" fill-opacity="0.78"/>
<circle cx="639.7" cy="269.8" r="1.35" fill="#2a2a2a" fill-opacity="0.78"/>
<circle cx="635.4" cy="301.8" r="1.35" fill="#2a2a2a" fill-opacity="0.78"/>
<circle cx="638.6" cy="303.3" r="1.35" fill="#2a2a2a" fill-opacity="0.78"/>
<circle cx="633.6" cy="276.4" r="1.35" fill="#2a2a2a" fill-opacity="0.78"/>
<circle cx="629.0" cy="285.7" r="1.35" fill="#2a2a2a" fill-opacity="0.78"/>
<circle cx="639.3" cy="363.1" r="1.35" fill="#2a2a2a" fill-opacity="0.78"/>
<circle cx="631.5" cy="312.1" r="1.35" fill="#2a2a2a" fill-opacity="0.78"/>
<circle cx="635.6" cy="284.3" r="1.35" fill="#2a2a2a" fill-opacity="0.78"/>
<circle cx="629.3" cy="295.2" r="1.35" fill="#2a2a2a" fill-opacity="0.78"/>
<circle cx="642.8" cy="294.0" r="1.35" fill="#2a2a2a" fill-opacity="0.78"/>
<circle cx="634.1" cy="308.0" r="1.35" fill="#2a2a2a" fill-opacity="0.78"/>
<circle cx="642.3" cy="297.5" r="1.35" fill="#2a2a2a" fill-opacity="0.78"/>
<circle cx="635.9" cy="311.2" r="1.35" fill="#2a2a2a" fill-opacity="0.78"/>
<circle cx="638.0" cy="293.4" r="1.35" fill="#2a2a2a" fill-opacity="0.78"/>
<circle cx="638.6" cy="273.9" r="1.35" fill="#2a2a2a" fill-opacity="0.78"/>
<circle cx="636.2" cy="296.3" r="1.35" fill="#2a2a2a" fill-opacity="0.78"/>
<circle cx="634.8" cy="280.6" r="1.35" fill="#2a2a2a" fill-opacity="0.78"/>
<circle cx="634.0" cy="276.6" r="1.35" fill="#2a2a2a" fill-opacity="0.78"/>
<circle cx="640.0" cy="288.1" r="1.35" fill="#2a2a2a" fill-opacity="0.78"/>
<circle cx="642.0" cy="363.3" r="1.35" fill="#2a2a2a" fill-opacity="0.78"/>
<circle cx="658.7" cy="288.9" r="1.35" fill="#2a2a2a" fill-opacity="0.78"/>
<circle cx="665.0" cy="307.3" r="1.35" fill="#2a2a2a" fill-opacity="0.78"/>
<circle cx="663.7" cy="282.6" r="1.35" fill="#2a2a2a" fill-opacity="0.78"/>
<circle cx="662.9" cy="275.0" r="1.35" fill="#2a2a2a" fill-opacity="0.78"/>
<circle cx="664.7" cy="275.0" r="1.35" fill="#2a2a2a" fill-opacity="0.78"/>
<circle cx="668.6" cy="285.5" r="1.35" fill="#2a2a2a" fill-opacity="0.78"/>
<circle cx="665.7" cy="312.7" r="1.35" fill="#2a2a2a" fill-opacity="0.78"/>
<circle cx="664.9" cy="302.2" r="1.35" fill="#2a2a2a" fill-opacity="0.78"/>
<circle cx="664.8" cy="283.8" r="1.35" fill="#2a2a2a" fill-opacity="0.78"/>
<circle cx="660.5" cy="307.6" r="1.35" fill="#2a2a2a" fill-opacity="0.78"/>
<circle cx="666.3" cy="310.5" r="1.35" fill="#2a2a2a" fill-opacity="0.78"/>
<circle cx="663.2" cy="290.1" r="1.35" fill="#2a2a2a" fill-opacity="0.78"/>
<circle cx="667.1" cy="286.9" r="1.35" fill="#2a2a2a" fill-opacity="0.78"/>
<circle cx="665.5" cy="363.7" r="1.35" fill="#2a2a2a" fill-opacity="0.78"/>
<circle cx="662.0" cy="280.8" r="1.35" fill="#2a2a2a" fill-opacity="0.78"/>
<circle cx="667.5" cy="282.7" r="1.35" fill="#2a2a2a" fill-opacity="0.78"/>
<circle cx="658.7" cy="298.4" r="1.35" fill="#2a2a2a" fill-opacity="0.78"/>
<circle cx="666.2" cy="290.7" r="1.35" fill="#2a2a2a" fill-opacity="0.78"/>
<circle cx="666.5" cy="282.0" r="1.35" fill="#2a2a2a" fill-opacity="0.78"/>
<circle cx="665.2" cy="300.6" r="1.35" fill="#2a2a2a" fill-opacity="0.78"/>
<circle cx="661.4" cy="311.8" r="1.35" fill="#2a2a2a" fill-opacity="0.78"/>
<circle cx="667.1" cy="276.4" r="1.35" fill="#2a2a2a" fill-opacity="0.78"/>
<circle cx="666.2" cy="292.5" r="1.35" fill="#2a2a2a" fill-opacity="0.78"/>
<circle cx="668.0" cy="295.8" r="1.35" fill="#2a2a2a" fill-opacity="0.78"/>
<circle cx="661.2" cy="307.5" r="1.35" fill="#2a2a2a" fill-opacity="0.78"/>
<circle cx="664.6" cy="299.4" r="1.35" fill="#2a2a2a" fill-opacity="0.78"/>
<circle cx="666.9" cy="276.0" r="1.35" fill="#2a2a2a" fill-opacity="0.78"/>
<circle cx="665.8" cy="363.2" r="1.35" fill="#2a2a2a" fill-opacity="0.78"/>
<circle cx="696.3" cy="291.8" r="1.35" fill="#2a2a2a" fill-opacity="0.78"/>
<circle cx="693.8" cy="306.9" r="1.35" fill="#2a2a2a" fill-opacity="0.78"/>
<circle cx="695.1" cy="313.1" r="1.35" fill="#2a2a2a" fill-opacity="0.78"/>
<circle cx="694.5" cy="308.8" r="1.35" fill="#2a2a2a" fill-opacity="0.78"/>
<circle cx="696.8" cy="310.4" r="1.35" fill="#2a2a2a" fill-opacity="0.78"/>
<circle cx="698.6" cy="306.3" r="1.35" fill="#2a2a2a" fill-opacity="0.78"/>
<circle cx="692.7" cy="314.2" r="1.35" fill="#2a2a2a" fill-opacity="0.78"/>
<circle cx="691.5" cy="298.0" r="1.35" fill="#2a2a2a" fill-opacity="0.78"/>
<circle cx="688.4" cy="311.7" r="1.35" fill="#2a2a2a" fill-opacity="0.78"/>
<circle cx="693.0" cy="290.3" r="1.35" fill="#2a2a2a" fill-opacity="0.78"/>
<circle cx="692.7" cy="363.5" r="1.35" fill="#2a2a2a" fill-opacity="0.78"/>
<circle cx="695.1" cy="363.5" r="1.35" fill="#2a2a2a" fill-opacity="0.78"/>
<circle cx="699.9" cy="304.3" r="1.35" fill="#2a2a2a" fill-opacity="0.78"/>
<circle cx="697.1" cy="307.0" r="1.35" fill="#2a2a2a" fill-opacity="0.78"/>
<circle cx="696.1" cy="309.1" r="1.35" fill="#2a2a2a" fill-opacity="0.78"/>
<circle cx="701.3" cy="298.1" r="1.35" fill="#2a2a2a" fill-opacity="0.78"/>
<circle cx="695.1" cy="302.8" r="1.35" fill="#2a2a2a" fill-opacity="0.78"/>
<circle cx="689.5" cy="301.0" r="1.35" fill="#2a2a2a" fill-opacity="0.78"/>
<circle cx="695.2" cy="315.8" r="1.35" fill="#2a2a2a" fill-opacity="0.78"/>
<circle cx="692.1" cy="303.4" r="1.35" fill="#2a2a2a" fill-opacity="0.78"/>
<circle cx="695.8" cy="300.0" r="1.35" fill="#2a2a2a" fill-opacity="0.78"/>
<circle cx="696.5" cy="301.2" r="1.35" fill="#2a2a2a" fill-opacity="0.78"/>
<circle cx="695.4" cy="363.1" r="1.35" fill="#2a2a2a" fill-opacity="0.78"/>
<circle cx="694.6" cy="363.1" r="1.35" fill="#2a2a2a" fill-opacity="0.78"/>
<text transform="translate(6.18,434.50) scale(0.8,1)" font-size="19.3" font-weight="bold" fill="#000" stroke="#000" stroke-width="0.50">E</text>
<text x="23.8" y="427.0" font-size="9.83" text-anchor="start" font-weight="normal" fill="#000" stroke="#000" stroke-width="0.30" >IgG to N protein</text>
<text x="48.5" y="446.3" font-size="8.51" text-anchor="start" font-weight="normal" fill="#000" stroke="#000" stroke-width="0.30" >early_1_to_5_days.1_late_2</text>
<rect x="160.2" y="439.3" width="10.2" height="7.7" fill="none" stroke="#d652e6" stroke-width="1.3"/>
<line x1="160.2" y1="443.2" x2="170.5" y2="443.2" stroke="#d652e6" stroke-width="1" stroke-opacity="1"/>
<line x1="165.3" y1="437.3" x2="165.3" y2="448.1" stroke="#dc3ce4" stroke-width="1.2" stroke-opacity="1"/>
<circle cx="165.3" cy="443.2" r="1.845" fill="#dc3ce4" fill-opacity="1"/>
<text x="175.6" y="446.3" font-size="6.76" text-anchor="start" font-weight="normal" fill="#000" stroke="#000" stroke-width="0.08" >Early infusion (2-5 days)</text>
<rect x="253.5" y="439.3" width="10.2" height="7.7" fill="none" stroke="#b0102c" stroke-width="1.3"/>
<line x1="253.5" y1="443.2" x2="263.8" y2="443.2" stroke="#b0102c" stroke-width="1" stroke-opacity="1"/>
<line x1="258.6" y1="437.3" x2="258.6" y2="448.1" stroke="#c01430" stroke-width="1.2" stroke-opacity="1"/>
<circle cx="258.6" cy="443.2" r="1.845" fill="#c01430" fill-opacity="1"/>
<text x="268.9" y="446.3" font-size="6.76" text-anchor="start" font-weight="normal" fill="#000" stroke="#000" stroke-width="0.08" >Late infusion (6-9 days)</text>
<rect x="23.5" y="460.7" width="168.0" height="13.3" fill="#e9e9e9" stroke="#4a4a4a" stroke-width="1.2"/>
<text x="107.5" y="470.0" font-size="6.83" text-anchor="middle" font-weight="normal" fill="#000" stroke="#000" stroke-width="0.06" >Control</text>
<line x1="23.5" y1="594.5" x2="191.5" y2="594.5" stroke="#444" stroke-width="1.0" stroke-opacity="1"/>
<rect x="196.4" y="460.7" width="167.8" height="13.3" fill="#e9e9e9" stroke="#4a4a4a" stroke-width="1.2"/>
<text x="280.3" y="470.0" font-size="6.83" text-anchor="middle" font-weight="normal" fill="#000" stroke="#000" stroke-width="0.06" >Convalescent</text>
<line x1="196.4" y1="594.5" x2="364.2" y2="594.5" stroke="#444" stroke-width="1.0" stroke-opacity="1"/>
<line x1="23.5" y1="474.0" x2="23.5" y2="594.2" stroke="#444" stroke-width="1.0" stroke-opacity="1"/>
<line x1="21.0" y1="491.6" x2="23.5" y2="491.6" stroke="#444" stroke-width="1.0" stroke-opacity="1"/>
<text x="20.0" y="495.3" font-size="8.69" text-anchor="end" font-weight="normal" fill="#000" stroke="#000" stroke-width="0.30" >4</text>
<line x1="21.0" y1="514.6" x2="23.5" y2="514.6" stroke="#444" stroke-width="1.0" stroke-opacity="1"/>
<text x="20.0" y="518.3" font-size="8.69" text-anchor="end" font-weight="normal" fill="#000" stroke="#000" stroke-width="0.30" >3</text>
<line x1="21.0" y1="537.6" x2="23.5" y2="537.6" stroke="#444" stroke-width="1.0" stroke-opacity="1"/>
<text x="20.0" y="541.3" font-size="8.69" text-anchor="end" font-weight="normal" fill="#000" stroke="#000" stroke-width="0.30" >2</text>
<line x1="21.0" y1="560.6" x2="23.5" y2="560.6" stroke="#444" stroke-width="1.0" stroke-opacity="1"/>
<text x="20.0" y="564.3" font-size="8.69" text-anchor="end" font-weight="normal" fill="#000" stroke="#000" stroke-width="0.30" >1</text>
<line x1="21.0" y1="583.4" x2="23.5" y2="583.4" stroke="#444" stroke-width="1.0" stroke-opacity="1"/>
<text x="20.0" y="587.1" font-size="8.69" text-anchor="end" font-weight="normal" fill="#000" stroke="#000" stroke-width="0.30" >0</text>
<text transform="translate(9.0,527.5) rotate(-90)" font-size="8.85" text-anchor="middle" fill="#000" stroke="#000" stroke-width="0.05">Molar of NH<tspan font-size="5.5" dy="2">4</tspan><tspan dy="-2"> SCN (Avidity index)</tspan></text>
<text x="194.0" y="615.3" font-size="8.38" text-anchor="middle" font-weight="normal" fill="#000" stroke="#000" stroke-width="0.30" >Days post plasma infusion</text>
<line x1="42.9" y1="594.2" x2="42.9" y2="596.7" stroke="#3a3a3a" stroke-width="1.0" stroke-opacity="1"/>
<text x="42.9" y="605.0" font-size="8.49" text-anchor="middle" font-weight="normal" fill="#000" stroke="#000" stroke-width="0.30" >-1</text>
<text x="42.9" y="479.5" font-size="7.45" text-anchor="middle" font-weight="normal" fill="#000" stroke="#000" stroke-width="0.12" >ns</text>
<line x1="75.2" y1="594.2" x2="75.2" y2="596.7" stroke="#3a3a3a" stroke-width="1.0" stroke-opacity="1"/>
<text x="75.2" y="605.0" font-size="8.49" text-anchor="middle" font-weight="normal" fill="#000" stroke="#000" stroke-width="0.30" >0</text>
<text x="75.2" y="479.5" font-size="7.45" text-anchor="middle" font-weight="normal" fill="#000" stroke="#000" stroke-width="0.12" >ns</text>
<line x1="107.5" y1="594.2" x2="107.5" y2="596.7" stroke="#3a3a3a" stroke-width="1.0" stroke-opacity="1"/>
<text x="107.5" y="605.0" font-size="8.49" text-anchor="middle" font-weight="normal" fill="#000" stroke="#000" stroke-width="0.30" >14</text>
<text x="107.5" y="479.5" font-size="7.45" text-anchor="middle" font-weight="normal" fill="#000" stroke="#000" stroke-width="0.12" >ns</text>
<line x1="139.8" y1="594.2" x2="139.8" y2="596.7" stroke="#3a3a3a" stroke-width="1.0" stroke-opacity="1"/>
<text x="139.8" y="605.0" font-size="8.49" text-anchor="middle" font-weight="normal" fill="#000" stroke="#000" stroke-width="0.30" >28</text>
<text x="139.8" y="479.5" font-size="7.45" text-anchor="middle" font-weight="normal" fill="#000" stroke="#000" stroke-width="0.12" >ns</text>
<line x1="172.1" y1="594.2" x2="172.1" y2="596.7" stroke="#3a3a3a" stroke-width="1.0" stroke-opacity="1"/>
<text x="172.1" y="605.0" font-size="8.49" text-anchor="middle" font-weight="normal" fill="#000" stroke="#000" stroke-width="0.30" >90</text>
<text x="172.1" y="479.5" font-size="7.45" text-anchor="middle" font-weight="normal" fill="#000" stroke="#000" stroke-width="0.12" >ns</text>
<line x1="215.8" y1="594.2" x2="215.8" y2="596.7" stroke="#3a3a3a" stroke-width="1.0" stroke-opacity="1"/>
<text x="215.8" y="605.0" font-size="8.49" text-anchor="middle" font-weight="normal" fill="#000" stroke="#000" stroke-width="0.30" >-1</text>
<line x1="248.0" y1="594.2" x2="248.0" y2="596.7" stroke="#3a3a3a" stroke-width="1.0" stroke-opacity="1"/>
<text x="248.0" y="605.0" font-size="8.49" text-anchor="middle" font-weight="normal" fill="#000" stroke="#000" stroke-width="0.30" >0</text>
<text x="248.0" y="479.5" font-size="7.45" text-anchor="middle" font-weight="normal" fill="#000" stroke="#000" stroke-width="0.12" >ns</text>
<line x1="280.3" y1="594.2" x2="280.3" y2="596.7" stroke="#3a3a3a" stroke-width="1.0" stroke-opacity="1"/>
<text x="280.3" y="605.0" font-size="8.49" text-anchor="middle" font-weight="normal" fill="#000" stroke="#000" stroke-width="0.30" >14</text>
<text x="280.3" y="479.5" font-size="7.45" text-anchor="middle" font-weight="normal" fill="#000" stroke="#000" stroke-width="0.12" >ns</text>
<line x1="312.6" y1="594.2" x2="312.6" y2="596.7" stroke="#3a3a3a" stroke-width="1.0" stroke-opacity="1"/>
<text x="312.6" y="605.0" font-size="8.49" text-anchor="middle" font-weight="normal" fill="#000" stroke="#000" stroke-width="0.30" >28</text>
<text x="312.6" y="479.5" font-size="7.45" text-anchor="middle" font-weight="normal" fill="#000" stroke="#000" stroke-width="0.12" >ns</text>
<line x1="344.8" y1="594.2" x2="344.8" y2="596.7" stroke="#3a3a3a" stroke-width="1.0" stroke-opacity="1"/>
<text x="344.8" y="605.0" font-size="8.49" text-anchor="middle" font-weight="normal" fill="#000" stroke="#000" stroke-width="0.30" >90</text>
<text x="344.8" y="479.5" font-size="7.45" text-anchor="middle" font-weight="normal" fill="#000" stroke="#000" stroke-width="0.12" >ns</text>
<rect x="30.0" y="548.6" width="12.9" height="11.5" fill="none" stroke="#d652e6" stroke-width="1.4"/>
<line x1="30.0" y1="555.3" x2="42.9" y2="555.3" stroke="#d652e6" stroke-width="1.3" stroke-opacity="1"/>
<line x1="36.4" y1="536.6" x2="36.4" y2="548.6" stroke="#dc3ce4" stroke-width="2.2" stroke-opacity="1"/>
<line x1="36.4" y1="560.1" x2="36.4" y2="574.0" stroke="#dc3ce4" stroke-width="1.0" stroke-opacity="0.6"/>
<line x1="36.4" y1="548.6" x2="36.4" y2="560.1" stroke="#dc3ce4" stroke-width="1.0" stroke-opacity="0.7"/>
<circle cx="36.4" cy="556.1" r="2.1" fill="#dc3ce4" fill-opacity="1"/>
<circle cx="36.4" cy="513.8" r="1.5" fill="#dc3ce4" fill-opacity="1"/>
<circle cx="36.4" cy="525.9" r="1.5" fill="#dc3ce4" fill-opacity="1"/>
<circle cx="36.4" cy="583.4" r="1.5" fill="#dc3ce4" fill-opacity="1"/>
<rect x="42.9" y="548.6" width="12.9" height="35.3" fill="none" stroke="#b0102c" stroke-width="1.4"/>
<line x1="42.9" y1="572.1" x2="55.8" y2="572.1" stroke="#b0102c" stroke-width="1.3" stroke-opacity="1"/>
<line x1="49.3" y1="514.4" x2="49.3" y2="548.6" stroke="#c01430" stroke-width="2.2" stroke-opacity="1"/>
<line x1="49.3" y1="548.6" x2="49.3" y2="583.9" stroke="#c01430" stroke-width="1.0" stroke-opacity="0.7"/>
<circle cx="49.3" cy="563.3" r="2.1" fill="#c01430" fill-opacity="1"/>
<rect x="62.3" y="548.6" width="12.9" height="11.5" fill="none" stroke="#d652e6" stroke-width="1.4"/>
<line x1="62.3" y1="555.3" x2="75.2" y2="555.3" stroke="#d652e6" stroke-width="1.3" stroke-opacity="1"/>
<line x1="68.7" y1="537.9" x2="68.7" y2="548.6" stroke="#dc3ce4" stroke-width="2.2" stroke-opacity="1"/>
<line x1="68.7" y1="560.1" x2="68.7" y2="572.7" stroke="#dc3ce4" stroke-width="1.0" stroke-opacity="0.6"/>
<line x1="68.7" y1="548.6" x2="68.7" y2="560.1" stroke="#dc3ce4" stroke-width="1.0" stroke-opacity="0.7"/>
<circle cx="68.7" cy="556.1" r="2.1" fill="#dc3ce4" fill-opacity="1"/>
<circle cx="68.7" cy="525.9" r="1.5" fill="#dc3ce4" fill-opacity="1"/>
<rect x="75.2" y="548.6" width="12.9" height="35.3" fill="none" stroke="#b0102c" stroke-width="1.4"/>
<line x1="75.2" y1="560.6" x2="88.1" y2="560.6" stroke="#b0102c" stroke-width="1.3" stroke-opacity="1"/>
<line x1="81.7" y1="514.4" x2="81.7" y2="548.6" stroke="#c01430" stroke-width="2.2" stroke-opacity="1"/>
<line x1="81.7" y1="548.6" x2="81.7" y2="583.9" stroke="#c01430" stroke-width="1.0" stroke-opacity="0.7"/>
<circle cx="81.7" cy="561.4" r="2.1" fill="#c01430" fill-opacity="1"/>
<rect x="94.6" y="536.6" width="12.9" height="21.4" fill="none" stroke="#d652e6" stroke-width="1.4"/>
<line x1="94.6" y1="537.4" x2="107.5" y2="537.4" stroke="#d652e6" stroke-width="1.3" stroke-opacity="1"/>
<line x1="101.0" y1="525.9" x2="101.0" y2="536.6" stroke="#dc3ce4" stroke-width="2.2" stroke-opacity="1"/>
<line x1="101.0" y1="536.6" x2="101.0" y2="558.0" stroke="#dc3ce4" stroke-width="1.0" stroke-opacity="0.7"/>
<circle cx="101.0" cy="542.7" r="2.1" fill="#dc3ce4" fill-opacity="1"/>
<rect x="107.5" y="536.6" width="12.9" height="23.5" fill="none" stroke="#b0102c" stroke-width="1.4"/>
<line x1="107.5" y1="548.6" x2="120.4" y2="548.6" stroke="#b0102c" stroke-width="1.3" stroke-opacity="1"/>
<line x1="114.0" y1="514.4" x2="114.0" y2="536.6" stroke="#c01430" stroke-width="2.2" stroke-opacity="1"/>
<line x1="114.0" y1="560.1" x2="114.0" y2="571.3" stroke="#c01430" stroke-width="2.2" stroke-opacity="1"/>
<line x1="114.0" y1="536.6" x2="114.0" y2="560.1" stroke="#c01430" stroke-width="1.0" stroke-opacity="0.7"/>
<circle cx="114.0" cy="545.4" r="2.1" fill="#c01430" fill-opacity="1"/>
<circle cx="114.0" cy="490.3" r="1.5" fill="#c01430" fill-opacity="1"/>
<rect x="126.9" y="525.9" width="12.9" height="22.7" fill="none" stroke="#d652e6" stroke-width="1.4"/>
<line x1="126.9" y1="537.4" x2="139.8" y2="537.4" stroke="#d652e6" stroke-width="1.3" stroke-opacity="1"/>
<line x1="133.3" y1="514.4" x2="133.3" y2="525.9" stroke="#dc3ce4" stroke-width="2.2" stroke-opacity="1"/>
<line x1="133.3" y1="548.6" x2="133.3" y2="560.6" stroke="#dc3ce4" stroke-width="2.2" stroke-opacity="1"/>
<line x1="133.3" y1="525.9" x2="133.3" y2="548.6" stroke="#dc3ce4" stroke-width="1.0" stroke-opacity="0.7"/>
<circle cx="133.3" cy="537.9" r="2.1" fill="#dc3ce4" fill-opacity="1"/>
<rect x="139.8" y="536.6" width="12.9" height="12.0" fill="none" stroke="#b0102c" stroke-width="1.4"/>
<line x1="139.8" y1="537.4" x2="152.7" y2="537.4" stroke="#b0102c" stroke-width="1.3" stroke-opacity="1"/>
<line x1="146.3" y1="525.9" x2="146.3" y2="536.6" stroke="#c01430" stroke-width="2.2" stroke-opacity="1"/>
<line x1="146.3" y1="548.6" x2="146.3" y2="560.6" stroke="#c01430" stroke-width="2.2" stroke-opacity="1"/>
<line x1="146.3" y1="536.6" x2="146.3" y2="548.6" stroke="#c01430" stroke-width="1.0" stroke-opacity="0.7"/>
<circle cx="146.3" cy="540.0" r="2.1" fill="#c01430" fill-opacity="1"/>
<circle cx="146.3" cy="502.6" r="1.5" fill="#c01430" fill-opacity="1"/>
<rect x="159.2" y="519.2" width="12.9" height="29.4" fill="none" stroke="#d652e6" stroke-width="1.4"/>
<line x1="159.2" y1="537.4" x2="172.1" y2="537.4" stroke="#d652e6" stroke-width="1.3" stroke-opacity="1"/>
<line x1="165.7" y1="514.4" x2="165.7" y2="519.2" stroke="#dc3ce4" stroke-width="2.2" stroke-opacity="1"/>
<line x1="165.7" y1="548.6" x2="165.7" y2="560.6" stroke="#dc3ce4" stroke-width="2.2" stroke-opacity="1"/>
<line x1="165.7" y1="519.2" x2="165.7" y2="548.6" stroke="#dc3ce4" stroke-width="1.0" stroke-opacity="0.7"/>
<circle cx="165.7" cy="534.7" r="2.1" fill="#dc3ce4" fill-opacity="1"/>
<rect x="172.1" y="525.0" width="12.9" height="18.3" fill="none" stroke="#b0102c" stroke-width="1.4"/>
<line x1="172.1" y1="537.4" x2="185.0" y2="537.4" stroke="#b0102c" stroke-width="1.3" stroke-opacity="1"/>
<line x1="178.6" y1="514.4" x2="178.6" y2="525.0" stroke="#c01430" stroke-width="2.2" stroke-opacity="1"/>
<line x1="178.6" y1="543.3" x2="178.6" y2="560.6" stroke="#c01430" stroke-width="2.2" stroke-opacity="1"/>
<line x1="178.6" y1="525.0" x2="178.6" y2="543.3" stroke="#c01430" stroke-width="1.0" stroke-opacity="0.7"/>
<circle cx="178.6" cy="532.6" r="2.1" fill="#c01430" fill-opacity="1"/>
<circle cx="178.6" cy="490.3" r="1.5" fill="#c01430" fill-opacity="1"/>
<rect x="202.9" y="548.6" width="12.9" height="35.5" fill="none" stroke="#d652e6" stroke-width="1.4"/>
<line x1="202.9" y1="572.0" x2="215.8" y2="572.0" stroke="#d652e6" stroke-width="1.3" stroke-opacity="1"/>
<line x1="209.3" y1="525.5" x2="209.3" y2="548.6" stroke="#dc3ce4" stroke-width="2.2" stroke-opacity="1"/>
<line x1="209.3" y1="548.6" x2="209.3" y2="584.1" stroke="#dc3ce4" stroke-width="1.0" stroke-opacity="0.7"/>
<circle cx="209.3" cy="564.8" r="2.1" fill="#dc3ce4" fill-opacity="1"/>
<rect x="215.8" y="545.9" width="12.9" height="26.9" fill="none" stroke="#b0102c" stroke-width="1.4"/>
<line x1="215.8" y1="554.0" x2="228.7" y2="554.0" stroke="#b0102c" stroke-width="1.3" stroke-opacity="1"/>
<line x1="222.2" y1="514.7" x2="222.2" y2="545.9" stroke="#c01430" stroke-width="2.2" stroke-opacity="1"/>
<line x1="222.2" y1="572.8" x2="222.2" y2="582.8" stroke="#c01430" stroke-width="2.2" stroke-opacity="1"/>
<line x1="222.2" y1="545.9" x2="222.2" y2="572.8" stroke="#c01430" stroke-width="1.0" stroke-opacity="0.7"/>
<circle cx="222.2" cy="554.0" r="2.1" fill="#c01430" fill-opacity="1"/>
<rect x="235.1" y="547.8" width="12.9" height="12.7" fill="none" stroke="#d652e6" stroke-width="1.4"/>
<line x1="235.1" y1="549.7" x2="248.0" y2="549.7" stroke="#d652e6" stroke-width="1.3" stroke-opacity="1"/>
<line x1="241.6" y1="525.5" x2="241.6" y2="547.8" stroke="#dc3ce4" stroke-width="2.2" stroke-opacity="1"/>
<line x1="241.6" y1="560.5" x2="241.6" y2="571.2" stroke="#dc3ce4" stroke-width="2.2" stroke-opacity="1"/>
<line x1="241.6" y1="547.8" x2="241.6" y2="560.5" stroke="#dc3ce4" stroke-width="1.0" stroke-opacity="0.7"/>
<circle cx="241.6" cy="549.7" r="2.1" fill="#dc3ce4" fill-opacity="1"/>
<circle cx="241.6" cy="525.5" r="1.5" fill="#dc3ce4" fill-opacity="1"/>
<rect x="248.0" y="537.0" width="12.9" height="23.5" fill="none" stroke="#b0102c" stroke-width="1.4"/>
<line x1="248.0" y1="548.6" x2="260.9" y2="548.6" stroke="#b0102c" stroke-width="1.3" stroke-opacity="1"/>
<line x1="254.5" y1="502.9" x2="254.5" y2="537.0" stroke="#c01430" stroke-width="2.2" stroke-opacity="1"/>
<line x1="254.5" y1="537.0" x2="254.5" y2="560.5" stroke="#c01430" stroke-width="1.0" stroke-opacity="0.7"/>
<circle cx="254.5" cy="544.3" r="2.1" fill="#c01430" fill-opacity="1"/>
<rect x="267.4" y="537.0" width="12.9" height="23.5" fill="none" stroke="#d652e6" stroke-width="1.4"/>
<line x1="267.4" y1="549.2" x2="280.3" y2="549.2" stroke="#d652e6" stroke-width="1.3" stroke-opacity="1"/>
<line x1="273.8" y1="525.5" x2="273.8" y2="537.0" stroke="#dc3ce4" stroke-width="2.2" stroke-opacity="1"/>
<line x1="273.8" y1="560.5" x2="273.8" y2="583.6" stroke="#dc3ce4" stroke-width="2.2" stroke-opacity="1"/>
<line x1="273.8" y1="537.0" x2="273.8" y2="560.5" stroke="#dc3ce4" stroke-width="1.0" stroke-opacity="0.7"/>
<circle cx="273.8" cy="549.7" r="2.1" fill="#dc3ce4" fill-opacity="1"/>
<rect x="280.3" y="537.0" width="12.9" height="11.6" fill="none" stroke="#b0102c" stroke-width="1.4"/>
<line x1="280.3" y1="548.6" x2="293.2" y2="548.6" stroke="#b0102c" stroke-width="1.3" stroke-opacity="1"/>
<line x1="286.8" y1="525.5" x2="286.8" y2="537.0" stroke="#c01430" stroke-width="2.2" stroke-opacity="1"/>
<line x1="286.8" y1="548.6" x2="286.8" y2="560.5" stroke="#c01430" stroke-width="2.2" stroke-opacity="1"/>
<line x1="286.8" y1="537.0" x2="286.8" y2="548.6" stroke="#c01430" stroke-width="1.0" stroke-opacity="0.7"/>
<circle cx="286.8" cy="543.2" r="2.1" fill="#c01430" fill-opacity="1"/>
<circle cx="286.8" cy="502.9" r="1.5" fill="#c01430" fill-opacity="1"/>
<rect x="299.7" y="537.0" width="12.9" height="18.1" fill="none" stroke="#d652e6" stroke-width="1.4"/>
<line x1="299.7" y1="548.6" x2="312.6" y2="548.6" stroke="#d652e6" stroke-width="1.3" stroke-opacity="1"/>
<line x1="306.1" y1="525.5" x2="306.1" y2="537.0" stroke="#dc3ce4" stroke-width="2.2" stroke-opacity="1"/>
<line x1="306.1" y1="555.1" x2="306.1" y2="572.0" stroke="#dc3ce4" stroke-width="2.2" stroke-opacity="1"/>
<line x1="306.1" y1="537.0" x2="306.1" y2="555.1" stroke="#dc3ce4" stroke-width="1.0" stroke-opacity="0.7"/>
<circle cx="306.1" cy="546.5" r="2.1" fill="#dc3ce4" fill-opacity="1"/>
<circle cx="306.1" cy="583.6" r="1.5" fill="#dc3ce4" fill-opacity="1"/>
<rect x="312.6" y="525.5" width="12.9" height="23.7" fill="none" stroke="#b0102c" stroke-width="1.4"/>
<line x1="312.6" y1="537.0" x2="325.5" y2="537.0" stroke="#b0102c" stroke-width="1.3" stroke-opacity="1"/>
<line x1="319.0" y1="502.9" x2="319.0" y2="525.5" stroke="#c01430" stroke-width="2.2" stroke-opacity="1"/>
<line x1="319.0" y1="549.2" x2="319.0" y2="560.5" stroke="#c01430" stroke-width="2.2" stroke-opacity="1"/>
<line x1="319.0" y1="525.5" x2="319.0" y2="549.2" stroke="#c01430" stroke-width="1.0" stroke-opacity="0.7"/>
<circle cx="319.0" cy="537.0" r="2.1" fill="#c01430" fill-opacity="1"/>
<rect x="331.9" y="537.0" width="12.9" height="12.2" fill="none" stroke="#d652e6" stroke-width="1.4"/>
<line x1="331.9" y1="537.0" x2="344.8" y2="537.0" stroke="#d652e6" stroke-width="1.3" stroke-opacity="1"/>
<line x1="338.4" y1="525.5" x2="338.4" y2="537.0" stroke="#dc3ce4" stroke-width="2.2" stroke-opacity="1"/>
<line x1="338.4" y1="537.0" x2="338.4" y2="549.2" stroke="#dc3ce4" stroke-width="1.0" stroke-opacity="0.7"/>
<circle cx="338.4" cy="537.0" r="2.1" fill="#dc3ce4" fill-opacity="1"/>
<circle cx="338.4" cy="490.5" r="1.5" fill="#dc3ce4" fill-opacity="1"/>
<rect x="344.8" y="525.5" width="12.9" height="23.7" fill="none" stroke="#b0102c" stroke-width="1.4"/>
<line x1="344.8" y1="537.0" x2="357.7" y2="537.0" stroke="#b0102c" stroke-width="1.3" stroke-opacity="1"/>
<line x1="351.3" y1="502.9" x2="351.3" y2="525.5" stroke="#c01430" stroke-width="2.2" stroke-opacity="1"/>
<line x1="351.3" y1="549.2" x2="351.3" y2="560.5" stroke="#c01430" stroke-width="2.2" stroke-opacity="1"/>
<line x1="351.3" y1="525.5" x2="351.3" y2="549.2" stroke="#c01430" stroke-width="1.0" stroke-opacity="0.7"/>
<circle cx="351.3" cy="533.0" r="2.1" fill="#c01430" fill-opacity="1"/>
<circle cx="41.2" cy="555.5" r="1.35" fill="#2a2a2a" fill-opacity="0.78"/>
<circle cx="42.0" cy="566.3" r="1.35" fill="#2a2a2a" fill-opacity="0.78"/>
<circle cx="45.9" cy="563.1" r="1.35" fill="#2a2a2a" fill-opacity="0.78"/>
<circle cx="41.1" cy="558.8" r="1.35" fill="#2a2a2a" fill-opacity="0.78"/>
<circle cx="43.1" cy="558.8" r="1.35" fill="#2a2a2a" fill-opacity="0.78"/>
<circle cx="41.8" cy="537.4" r="1.35" fill="#2a2a2a" fill-opacity="0.78"/>
<circle cx="40.8" cy="555.6" r="1.35" fill="#2a2a2a" fill-opacity="0.78"/>
<circle cx="41.9" cy="559.4" r="1.35" fill="#2a2a2a" fill-opacity="0.78"/>
<circle cx="44.5" cy="561.6" r="1.35" fill="#2a2a2a" fill-opacity="0.78"/>
<circle cx="35.9" cy="556.1" r="1.35" fill="#2a2a2a" fill-opacity="0.78"/>
<circle cx="44.2" cy="563.0" r="1.35" fill="#2a2a2a" fill-opacity="0.78"/>
<circle cx="40.1" cy="555.5" r="1.35" fill="#2a2a2a" fill-opacity="0.78"/>
<circle cx="43.4" cy="563.0" r="1.35" fill="#2a2a2a" fill-opacity="0.78"/>
<circle cx="49.9" cy="537.5" r="1.35" fill="#2a2a2a" fill-opacity="0.78"/>
<circle cx="39.2" cy="540.4" r="1.35" fill="#2a2a2a" fill-opacity="0.78"/>
<circle cx="43.1" cy="547.4" r="1.35" fill="#2a2a2a" fill-opacity="0.78"/>
<circle cx="42.0" cy="538.3" r="1.35" fill="#2a2a2a" fill-opacity="0.78"/>
<circle cx="44.5" cy="548.0" r="1.35" fill="#2a2a2a" fill-opacity="0.78"/>
<circle cx="41.0" cy="540.4" r="1.35" fill="#2a2a2a" fill-opacity="0.78"/>
<circle cx="43.1" cy="557.2" r="1.35" fill="#2a2a2a" fill-opacity="0.78"/>
<circle cx="39.9" cy="573.2" r="1.35" fill="#2a2a2a" fill-opacity="0.78"/>
<circle cx="44.0" cy="530.3" r="1.35" fill="#2a2a2a" fill-opacity="0.78"/>
<circle cx="43.9" cy="577.8" r="1.35" fill="#2a2a2a" fill-opacity="0.78"/>
<circle cx="40.8" cy="571.3" r="1.35" fill="#2a2a2a" fill-opacity="0.78"/>
<circle cx="45.3" cy="583.0" r="1.35" fill="#2a2a2a" fill-opacity="0.78"/>
<circle cx="41.6" cy="518.8" r="1.35" fill="#2a2a2a" fill-opacity="0.78"/>
<circle cx="38.6" cy="540.7" r="1.35" fill="#2a2a2a" fill-opacity="0.78"/>
<circle cx="46.2" cy="544.4" r="1.35" fill="#2a2a2a" fill-opacity="0.78"/>
<circle cx="42.2" cy="527.2" r="1.35" fill="#2a2a2a" fill-opacity="0.78"/>
<circle cx="41.0" cy="561.5" r="1.35" fill="#2a2a2a" fill-opacity="0.78"/>
<circle cx="40.4" cy="578.5" r="1.35" fill="#2a2a2a" fill-opacity="0.78"/>
<circle cx="44.7" cy="583.9" r="1.35" fill="#2a2a2a" fill-opacity="0.78"/>
<circle cx="40.2" cy="523.0" r="1.35" fill="#2a2a2a" fill-opacity="0.78"/>
<circle cx="45.1" cy="552.2" r="1.35" fill="#2a2a2a" fill-opacity="0.78"/>
<circle cx="35.9" cy="562.0" r="1.35" fill="#2a2a2a" fill-opacity="0.78"/>
<circle cx="38.4" cy="553.6" r="1.35" fill="#2a2a2a" fill-opacity="0.78"/>
<circle cx="37.6" cy="557.6" r="1.35" fill="#2a2a2a" fill-opacity="0.78"/>
<circle cx="45.1" cy="583.9" r="1.35" fill="#2a2a2a" fill-opacity="0.78"/>
<circle cx="40.7" cy="555.7" r="1.35" fill="#2a2a2a" fill-opacity="0.78"/>
<circle cx="41.9" cy="563.6" r="1.35" fill="#2a2a2a" fill-opacity="0.78"/>
<circle cx="80.4" cy="555.9" r="1.35" fill="#2a2a2a" fill-opacity="0.78"/>
<circle cx="75.8" cy="564.2" r="1.35" fill="#2a2a2a" fill-opacity="0.78"/>
<circle cx="76.7" cy="557.7" r="1.35" fill="#2a2a2a" fill-opacity="0.78"/>
<circle cx="70.9" cy="538.1" r="1.35" fill="#2a2a2a" fill-opacity="0.78"/>
<circle cx="76.5" cy="549.0" r="1.35" fill="#2a2a2a" fill-opacity="0.78"/>
<circle cx="78.3" cy="552.7" r="1.35" fill="#2a2a2a" fill-opacity="0.78"/>
<circle cx="74.7" cy="571.0" r="1.35" fill="#2a2a2a" fill-opacity="0.78"/>
<circle cx="75.7" cy="539.2" r="1.35" fill="#2a2a2a" fill-opacity="0.78"/>
<circle cx="73.9" cy="538.9" r="1.35" fill="#2a2a2a" fill-opacity="0.78"/>
<circle cx="80.9" cy="553.3" r="1.35" fill="#2a2a2a" fill-opacity="0.78"/>
<circle cx="82.2" cy="547.5" r="1.35" fill="#2a2a2a" fill-opacity="0.78"/>
<circle cx="72.9" cy="569.6" r="1.35" fill="#2a2a2a" fill-opacity="0.78"/>
<circle cx="72.2" cy="568.5" r="1.35" fill="#2a2a2a" fill-opacity="0.78"/>
<circle cx="71.8" cy="554.7" r="1.35" fill="#2a2a2a" fill-opacity="0.78"/>
<circle cx="77.2" cy="545.3" r="1.35" fill="#2a2a2a" fill-opacity="0.78"/>
<circle cx="75.9" cy="546.3" r="1.35" fill="#2a2a2a" fill-opacity="0.78"/>
<circle cx="73.9" cy="549.1" r="1.35" fill="#2a2a2a" fill-opacity="0.78"/>
<circle cx="73.9" cy="559.6" r="1.35" fill="#2a2a2a" fill-opacity="0.78"/>
<circle cx="78.5" cy="555.1" r="1.35" fill="#2a2a2a" fill-opacity="0.78"/>
<circle cx="72.1" cy="557.6" r="1.35" fill="#2a2a2a" fill-opacity="0.78"/>
<circle cx="80.7" cy="583.9" r="1.35" fill="#2a2a2a" fill-opacity="0.78"/>
<circle cx="76.1" cy="517.6" r="1.35" fill="#2a2a2a" fill-opacity="0.78"/>
<circle cx="74.4" cy="575.7" r="1.35" fill="#2a2a2a" fill-opacity="0.78"/>
<circle cx="71.8" cy="537.2" r="1.35" fill="#2a2a2a" fill-opacity="0.78"/>
<circle cx="77.3" cy="564.9" r="1.35" fill="#2a2a2a" fill-opacity="0.78"/>
<circle cx="76.6" cy="572.4" r="1.35" fill="#2a2a2a" fill-opacity="0.78"/>
<circle cx="76.3" cy="567.4" r="1.35" fill="#2a2a2a" fill-opacity="0.78"/>
<circle cx="81.4" cy="514.5" r="1.35" fill="#2a2a2a" fill-opacity="0.78"/>
<circle cx="74.7" cy="554.2" r="1.35" fill="#2a2a2a" fill-opacity="0.78"/>
<circle cx="77.6" cy="583.9" r="1.35" fill="#2a2a2a" fill-opacity="0.78"/>
<circle cx="80.2" cy="583.9" r="1.35" fill="#2a2a2a" fill-opacity="0.78"/>
<circle cx="76.4" cy="552.9" r="1.35" fill="#2a2a2a" fill-opacity="0.78"/>
<circle cx="77.2" cy="583.9" r="1.35" fill="#2a2a2a" fill-opacity="0.78"/>
<circle cx="73.7" cy="553.1" r="1.35" fill="#2a2a2a" fill-opacity="0.78"/>
<circle cx="77.2" cy="539.0" r="1.35" fill="#2a2a2a" fill-opacity="0.78"/>
<circle cx="71.6" cy="583.9" r="1.35" fill="#2a2a2a" fill-opacity="0.78"/>
<circle cx="76.2" cy="564.7" r="1.35" fill="#2a2a2a" fill-opacity="0.78"/>
<circle cx="73.2" cy="538.7" r="1.35" fill="#2a2a2a" fill-opacity="0.78"/>
<circle cx="79.0" cy="550.2" r="1.35" fill="#2a2a2a" fill-opacity="0.78"/>
<circle cx="76.5" cy="561.3" r="1.35" fill="#2a2a2a" fill-opacity="0.78"/>
<circle cx="107.8" cy="556.8" r="1.35" fill="#2a2a2a" fill-opacity="0.78"/>
<circle cx="106.2" cy="558.0" r="1.35" fill="#2a2a2a" fill-opacity="0.78"/>
<circle cx="110.4" cy="539.5" r="1.35" fill="#2a2a2a" fill-opacity="0.78"/>
<circle cx="106.0" cy="534.9" r="1.35" fill="#2a2a2a" fill-opacity="0.78"/>
<circle cx="108.9" cy="536.9" r="1.35" fill="#2a2a2a" fill-opacity="0.78"/>
<circle cx="106.6" cy="558.0" r="1.35" fill="#2a2a2a" fill-opacity="0.78"/>
<circle cx="101.7" cy="540.6" r="1.35" fill="#2a2a2a" fill-opacity="0.78"/>
<circle cx="107.3" cy="553.1" r="1.35" fill="#2a2a2a" fill-opacity="0.78"/>
<circle cx="104.7" cy="544.2" r="1.35" fill="#2a2a2a" fill-opacity="0.78"/>
<circle cx="107.1" cy="553.6" r="1.35" fill="#2a2a2a" fill-opacity="0.78"/>
<circle cx="113.5" cy="558.0" r="1.35" fill="#2a2a2a" fill-opacity="0.78"/>
<circle cx="112.3" cy="558.0" r="1.35" fill="#2a2a2a" fill-opacity="0.78"/>
<circle cx="114.5" cy="553.8" r="1.35" fill="#2a2a2a" fill-opacity="0.78"/>
<circle cx="101.6" cy="543.1" r="1.35" fill="#2a2a2a" fill-opacity="0.78"/>
<circle cx="109.7" cy="528.1" r="1.35" fill="#2a2a2a" fill-opacity="0.78"/>
<circle cx="106.4" cy="558.0" r="1.35" fill="#2a2a2a" fill-opacity="0.78"/>
<circle cx="107.4" cy="542.9" r="1.35" fill="#2a2a2a" fill-opacity="0.78"/>
<circle cx="102.5" cy="556.8" r="1.35" fill="#2a2a2a" fill-opacity="0.78"/>
<circle cx="104.1" cy="541.9" r="1.35" fill="#2a2a2a" fill-opacity="0.78"/>
<circle cx="107.7" cy="529.5" r="1.35" fill="#2a2a2a" fill-opacity="0.78"/>
<circle cx="108.7" cy="546.3" r="1.35" fill="#2a2a2a" fill-opacity="0.78"/>
<circle cx="105.0" cy="523.3" r="1.35" fill="#2a2a2a" fill-opacity="0.78"/>
<circle cx="106.4" cy="552.4" r="1.35" fill="#2a2a2a" fill-opacity="0.78"/>
<circle cx="105.6" cy="548.1" r="1.35" fill="#2a2a2a" fill-opacity="0.78"/>
<circle cx="109.3" cy="543.6" r="1.35" fill="#2a2a2a" fill-opacity="0.78"/>
<circle cx="111.2" cy="539.3" r="1.35" fill="#2a2a2a" fill-opacity="0.78"/>
<circle cx="108.2" cy="557.3" r="1.35" fill="#2a2a2a" fill-opacity="0.78"/>
<circle cx="106.8" cy="547.0" r="1.35" fill="#2a2a2a" fill-opacity="0.78"/>
<circle cx="107.4" cy="555.1" r="1.35" fill="#2a2a2a" fill-opacity="0.78"/>
<circle cx="104.4" cy="525.4" r="1.35" fill="#2a2a2a" fill-opacity="0.78"/>
<circle cx="112.1" cy="532.0" r="1.35" fill="#2a2a2a" fill-opacity="0.78"/>
<circle cx="106.8" cy="570.1" r="1.35" fill="#2a2a2a" fill-opacity="0.78"/>
<circle cx="102.6" cy="549.1" r="1.35" fill="#2a2a2a" fill-opacity="0.78"/>
<circle cx="110.2" cy="526.1" r="1.35" fill="#2a2a2a" fill-opacity="0.78"/>
<circle cx="101.6" cy="554.3" r="1.35" fill="#2a2a2a" fill-opacity="0.78"/>
<circle cx="108.4" cy="527.7" r="1.35" fill="#2a2a2a" fill-opacity="0.78"/>
<circle cx="106.9" cy="545.4" r="1.35" fill="#2a2a2a" fill-opacity="0.78"/>
<circle cx="105.8" cy="561.9" r="1.35" fill="#2a2a2a" fill-opacity="0.78"/>
<circle cx="106.8" cy="565.6" r="1.35" fill="#2a2a2a" fill-opacity="0.78"/>
<circle cx="107.8" cy="521.2" r="1.35" fill="#2a2a2a" fill-opacity="0.78"/>
<circle cx="139.5" cy="542.5" r="1.35" fill="#2a2a2a" fill-opacity="0.78"/>
<circle cx="139.6" cy="557.9" r="1.35" fill="#2a2a2a" fill-opacity="0.78"/>
<circle cx="141.1" cy="522.8" r="1.35" fill="#2a2a2a" fill-opacity="0.78"/>
<circle cx="139.0" cy="547.1" r="1.35" fill="#2a2a2a" fill-opacity="0.78"/>
<circle cx="139.7" cy="533.6" r="1.35" fill="#2a2a2a" fill-opacity="0.78"/>
<circle cx="141.4" cy="546.0" r="1.35" fill="#2a2a2a" fill-opacity="0.78"/>
<circle cx="139.1" cy="532.1" r="1.35" fill="#2a2a2a" fill-opacity="0.78"/>
<circle cx="138.1" cy="515.7" r="1.35" fill="#2a2a2a" fill-opacity="0.78"/>
<circle cx="142.7" cy="535.8" r="1.35" fill="#2a2a2a" fill-opacity="0.78"/>
<circle cx="146.3" cy="525.2" r="1.35" fill="#2a2a2a" fill-opacity="0.78"/>
<circle cx="136.8" cy="551.3" r="1.35" fill="#2a2a2a" fill-opacity="0.78"/>
<circle cx="137.0" cy="536.3" r="1.35" fill="#2a2a2a" fill-opacity="0.78"/>
<circle cx="136.3" cy="548.4" r="1.35" fill="#2a2a2a" fill-opacity="0.78"/>
<circle cx="141.7" cy="526.3" r="1.35" fill="#2a2a2a" fill-opacity="0.78"/>
<circle cx="141.0" cy="524.1" r="1.35" fill="#2a2a2a" fill-opacity="0.78"/>
<circle cx="140.1" cy="531.3" r="1.35" fill="#2a2a2a" fill-opacity="0.78"/>
<circle cx="145.6" cy="551.8" r="1.35" fill="#2a2a2a" fill-opacity="0.78"/>
<circle cx="145.0" cy="547.8" r="1.35" fill="#2a2a2a" fill-opacity="0.78"/>
<circle cx="138.9" cy="542.9" r="1.35" fill="#2a2a2a" fill-opacity="0.78"/>
<circle cx="139.3" cy="554.7" r="1.35" fill="#2a2a2a" fill-opacity="0.78"/>
<circle cx="143.8" cy="529.4" r="1.35" fill="#2a2a2a" fill-opacity="0.78"/>
<circle cx="142.0" cy="527.5" r="1.35" fill="#2a2a2a" fill-opacity="0.78"/>
<circle cx="139.4" cy="548.1" r="1.35" fill="#2a2a2a" fill-opacity="0.78"/>
<circle cx="143.3" cy="559.7" r="1.35" fill="#2a2a2a" fill-opacity="0.78"/>
<circle cx="134.4" cy="555.4" r="1.35" fill="#2a2a2a" fill-opacity="0.78"/>
<circle cx="143.0" cy="545.4" r="1.35" fill="#2a2a2a" fill-opacity="0.78"/>
<circle cx="134.4" cy="537.3" r="1.35" fill="#2a2a2a" fill-opacity="0.78"/>
<circle cx="146.8" cy="531.1" r="1.35" fill="#2a2a2a" fill-opacity="0.78"/>
<circle cx="133.6" cy="544.7" r="1.35" fill="#2a2a2a" fill-opacity="0.78"/>
<circle cx="136.6" cy="533.3" r="1.35" fill="#2a2a2a" fill-opacity="0.78"/>
<circle cx="143.3" cy="547.4" r="1.35" fill="#2a2a2a" fill-opacity="0.78"/>
<circle cx="137.6" cy="534.5" r="1.35" fill="#2a2a2a" fill-opacity="0.78"/>
<circle cx="140.3" cy="544.8" r="1.35" fill="#2a2a2a" fill-opacity="0.78"/>
<circle cx="143.1" cy="527.1" r="1.35" fill="#2a2a2a" fill-opacity="0.78"/>
<circle cx="139.9" cy="539.3" r="1.35" fill="#2a2a2a" fill-opacity="0.78"/>
<circle cx="137.3" cy="541.6" r="1.35" fill="#2a2a2a" fill-opacity="0.78"/>
<circle cx="132.9" cy="526.1" r="1.35" fill="#2a2a2a" fill-opacity="0.78"/>
<circle cx="139.3" cy="555.9" r="1.35" fill="#2a2a2a" fill-opacity="0.78"/>
<circle cx="135.3" cy="540.7" r="1.35" fill="#2a2a2a" fill-opacity="0.78"/>
<circle cx="144.5" cy="544.6" r="1.35" fill="#2a2a2a" fill-opacity="0.78"/>
<circle cx="173.8" cy="556.6" r="1.35" fill="#2a2a2a" fill-opacity="0.78"/>
<circle cx="178.0" cy="518.3" r="1.35" fill="#2a2a2a" fill-opacity="0.78"/>
<circle cx="170.6" cy="554.1" r="1.35" fill="#2a2a2a" fill-opacity="0.78"/>
<circle cx="167.9" cy="537.3" r="1.35" fill="#2a2a2a" fill-opacity="0.78"/>
<circle cx="167.1" cy="516.1" r="1.35" fill="#2a2a2a" fill-opacity="0.78"/>
<circle cx="165.3" cy="543.6" r="1.35" fill="#2a2a2a" fill-opacity="0.78"/>
<circle cx="165.3" cy="518.5" r="1.35" fill="#2a2a2a" fill-opacity="0.78"/>
<circle cx="165.3" cy="560.5" r="1.35" fill="#2a2a2a" fill-opacity="0.78"/>
<circle cx="173.8" cy="519.5" r="1.35" fill="#2a2a2a" fill-opacity="0.78"/>
<circle cx="175.4" cy="529.5" r="1.35" fill="#2a2a2a" fill-opacity="0.78"/>
<circle cx="172.0" cy="539.5" r="1.35" fill="#2a2a2a" fill-opacity="0.78"/>
<circle cx="170.8" cy="528.2" r="1.35" fill="#2a2a2a" fill-opacity="0.78"/>
<circle cx="173.2" cy="516.4" r="1.35" fill="#2a2a2a" fill-opacity="0.78"/>
<circle cx="174.3" cy="552.7" r="1.35" fill="#2a2a2a" fill-opacity="0.78"/>
<circle cx="171.8" cy="515.5" r="1.35" fill="#2a2a2a" fill-opacity="0.78"/>
<circle cx="174.3" cy="528.1" r="1.35" fill="#2a2a2a" fill-opacity="0.78"/>
<circle cx="170.4" cy="534.6" r="1.35" fill="#2a2a2a" fill-opacity="0.78"/>
<circle cx="174.9" cy="534.9" r="1.35" fill="#2a2a2a" fill-opacity="0.78"/>
<circle cx="173.3" cy="543.2" r="1.35" fill="#2a2a2a" fill-opacity="0.78"/>
<circle cx="166.6" cy="557.0" r="1.35" fill="#2a2a2a" fill-opacity="0.78"/>
<circle cx="168.4" cy="515.0" r="1.35" fill="#2a2a2a" fill-opacity="0.78"/>
<circle cx="177.4" cy="538.7" r="1.35" fill="#2a2a2a" fill-opacity="0.78"/>
<circle cx="165.1" cy="546.0" r="1.35" fill="#2a2a2a" fill-opacity="0.78"/>
<circle cx="170.7" cy="521.0" r="1.35" fill="#2a2a2a" fill-opacity="0.78"/>
<circle cx="171.0" cy="552.1" r="1.35" fill="#2a2a2a" fill-opacity="0.78"/>
<circle cx="171.2" cy="543.0" r="1.35" fill="#2a2a2a" fill-opacity="0.78"/>
<circle cx="172.9" cy="517.2" r="1.35" fill="#2a2a2a" fill-opacity="0.78"/>
<circle cx="169.9" cy="530.5" r="1.35" fill="#2a2a2a" fill-opacity="0.78"/>
<circle cx="170.3" cy="524.0" r="1.35" fill="#2a2a2a" fill-opacity="0.78"/>
<circle cx="174.3" cy="558.7" r="1.35" fill="#2a2a2a" fill-opacity="0.78"/>
<circle cx="170.9" cy="544.9" r="1.35" fill="#2a2a2a" fill-opacity="0.78"/>
<circle cx="178.6" cy="515.2" r="1.35" fill="#2a2a2a" fill-opacity="0.78"/>
<circle cx="176.8" cy="538.1" r="1.35" fill="#2a2a2a" fill-opacity="0.78"/>
<circle cx="172.4" cy="514.4" r="1.35" fill="#2a2a2a" fill-opacity="0.78"/>
<circle cx="171.0" cy="557.5" r="1.35" fill="#2a2a2a" fill-opacity="0.78"/>
<circle cx="177.2" cy="533.2" r="1.35" fill="#2a2a2a" fill-opacity="0.78"/>
<circle cx="173.0" cy="534.6" r="1.35" fill="#2a2a2a" fill-opacity="0.78"/>
<circle cx="176.0" cy="555.0" r="1.35" fill="#2a2a2a" fill-opacity="0.78"/>
<circle cx="175.6" cy="517.9" r="1.35" fill="#2a2a2a" fill-opacity="0.78"/>
<circle cx="168.7" cy="553.3" r="1.35" fill="#2a2a2a" fill-opacity="0.78"/>
<circle cx="217.8" cy="558.8" r="1.35" fill="#2a2a2a" fill-opacity="0.78"/>
<circle cx="216.2" cy="584.1" r="1.35" fill="#2a2a2a" fill-opacity="0.78"/>
<circle cx="212.6" cy="548.6" r="1.35" fill="#2a2a2a" fill-opacity="0.78"/>
<circle cx="220.1" cy="584.1" r="1.35" fill="#2a2a2a" fill-opacity="0.78"/>
<circle cx="215.3" cy="554.4" r="1.35" fill="#2a2a2a" fill-opacity="0.78"/>
<circle cx="209.8" cy="570.3" r="1.35" fill="#2a2a2a" fill-opacity="0.78"/>
<circle cx="210.0" cy="556.9" r="1.35" fill="#2a2a2a" fill-opacity="0.78"/>
<circle cx="219.5" cy="553.8" r="1.35" fill="#2a2a2a" fill-opacity="0.78"/>
<circle cx="216.4" cy="561.7" r="1.35" fill="#2a2a2a" fill-opacity="0.78"/>
<circle cx="217.7" cy="584.1" r="1.35" fill="#2a2a2a" fill-opacity="0.78"/>
<circle cx="212.2" cy="549.7" r="1.35" fill="#2a2a2a" fill-opacity="0.78"/>
<circle cx="220.6" cy="545.7" r="1.35" fill="#2a2a2a" fill-opacity="0.78"/>
<circle cx="217.4" cy="573.0" r="1.35" fill="#2a2a2a" fill-opacity="0.78"/>
<circle cx="215.8" cy="584.1" r="1.35" fill="#2a2a2a" fill-opacity="0.78"/>
<circle cx="217.7" cy="584.1" r="1.35" fill="#2a2a2a" fill-opacity="0.78"/>
<circle cx="218.8" cy="584.1" r="1.35" fill="#2a2a2a" fill-opacity="0.78"/>
<circle cx="216.8" cy="584.1" r="1.35" fill="#2a2a2a" fill-opacity="0.78"/>
<circle cx="218.0" cy="550.1" r="1.35" fill="#2a2a2a" fill-opacity="0.78"/>
<circle cx="213.7" cy="561.2" r="1.35" fill="#2a2a2a" fill-opacity="0.78"/>
<circle cx="212.2" cy="564.0" r="1.35" fill="#2a2a2a" fill-opacity="0.78"/>
<circle cx="212.5" cy="560.3" r="1.35" fill="#2a2a2a" fill-opacity="0.78"/>
<circle cx="216.7" cy="557.8" r="1.35" fill="#2a2a2a" fill-opacity="0.78"/>
<circle cx="213.4" cy="575.2" r="1.35" fill="#2a2a2a" fill-opacity="0.78"/>
<circle cx="220.0" cy="567.2" r="1.35" fill="#2a2a2a" fill-opacity="0.78"/>
<circle cx="215.9" cy="537.0" r="1.35" fill="#2a2a2a" fill-opacity="0.78"/>
<circle cx="216.1" cy="579.7" r="1.35" fill="#2a2a2a" fill-opacity="0.78"/>
<circle cx="217.9" cy="553.5" r="1.35" fill="#2a2a2a" fill-opacity="0.78"/>
<circle cx="214.6" cy="517.5" r="1.35" fill="#2a2a2a" fill-opacity="0.78"/>
<circle cx="212.5" cy="549.1" r="1.35" fill="#2a2a2a" fill-opacity="0.78"/>
<circle cx="218.2" cy="581.3" r="1.35" fill="#2a2a2a" fill-opacity="0.78"/>
<circle cx="213.5" cy="574.5" r="1.35" fill="#2a2a2a" fill-opacity="0.78"/>
<circle cx="215.8" cy="544.1" r="1.35" fill="#2a2a2a" fill-opacity="0.78"/>
<circle cx="216.1" cy="548.1" r="1.35" fill="#2a2a2a" fill-opacity="0.78"/>
<circle cx="214.2" cy="578.9" r="1.35" fill="#2a2a2a" fill-opacity="0.78"/>
<circle cx="216.0" cy="519.0" r="1.35" fill="#2a2a2a" fill-opacity="0.78"/>
<circle cx="212.1" cy="561.9" r="1.35" fill="#2a2a2a" fill-opacity="0.78"/>
<circle cx="211.1" cy="574.2" r="1.35" fill="#2a2a2a" fill-opacity="0.78"/>
<circle cx="215.0" cy="549.8" r="1.35" fill="#2a2a2a" fill-opacity="0.78"/>
<circle cx="215.8" cy="579.6" r="1.35" fill="#2a2a2a" fill-opacity="0.78"/>
<circle cx="221.1" cy="577.7" r="1.35" fill="#2a2a2a" fill-opacity="0.78"/>
<circle cx="244.7" cy="569.1" r="1.35" fill="#2a2a2a" fill-opacity="0.78"/>
<circle cx="253.3" cy="552.2" r="1.35" fill="#2a2a2a" fill-opacity="0.78"/>
<circle cx="250.0" cy="560.3" r="1.35" fill="#2a2a2a" fill-opacity="0.78"/>
<circle cx="253.8" cy="553.3" r="1.35" fill="#2a2a2a" fill-opacity="0.78"/>
<circle cx="241.6" cy="569.9" r="1.35" fill="#2a2a2a" fill-opacity="0.78"/>
<circle cx="247.1" cy="563.4" r="1.35" fill="#2a2a2a" fill-opacity="0.78"/>
<circle cx="247.2" cy="546.7" r="1.35" fill="#2a2a2a" fill-opacity="0.78"/>
<circle cx="246.9" cy="528.8" r="1.35" fill="#2a2a2a" fill-opacity="0.78"/>
<circle cx="247.5" cy="548.8" r="1.35" fill="#2a2a2a" fill-opacity="0.78"/>
<circle cx="247.6" cy="558.2" r="1.35" fill="#2a2a2a" fill-opacity="0.78"/>
<circle cx="241.6" cy="553.4" r="1.35" fill="#2a2a2a" fill-opacity="0.78"/>
<circle cx="245.0" cy="557.8" r="1.35" fill="#2a2a2a" fill-opacity="0.78"/>
<circle cx="246.6" cy="553.6" r="1.35" fill="#2a2a2a" fill-opacity="0.78"/>
<circle cx="251.1" cy="549.3" r="1.35" fill="#2a2a2a" fill-opacity="0.78"/>
<circle cx="249.7" cy="558.3" r="1.35" fill="#2a2a2a" fill-opacity="0.78"/>
<circle cx="246.2" cy="544.8" r="1.35" fill="#2a2a2a" fill-opacity="0.78"/>
<circle cx="247.4" cy="558.5" r="1.35" fill="#2a2a2a" fill-opacity="0.78"/>
<circle cx="247.3" cy="539.9" r="1.35" fill="#2a2a2a" fill-opacity="0.78"/>
<circle cx="247.3" cy="553.3" r="1.35" fill="#2a2a2a" fill-opacity="0.78"/>
<circle cx="245.9" cy="570.6" r="1.35" fill="#2a2a2a" fill-opacity="0.78"/>
<circle cx="246.6" cy="550.1" r="1.35" fill="#2a2a2a" fill-opacity="0.78"/>
<circle cx="248.6" cy="558.9" r="1.35" fill="#2a2a2a" fill-opacity="0.78"/>
<circle cx="250.2" cy="537.7" r="1.35" fill="#2a2a2a" fill-opacity="0.78"/>
<circle cx="248.4" cy="560.5" r="1.35" fill="#2a2a2a" fill-opacity="0.78"/>
<circle cx="248.5" cy="511.3" r="1.35" fill="#2a2a2a" fill-opacity="0.78"/>
<circle cx="248.0" cy="534.0" r="1.35" fill="#2a2a2a" fill-opacity="0.78"/>
<circle cx="245.4" cy="512.8" r="1.35" fill="#2a2a2a" fill-opacity="0.78"/>
<circle cx="251.4" cy="560.5" r="1.35" fill="#2a2a2a" fill-opacity="0.78"/>
<circle cx="244.4" cy="560.5" r="1.35" fill="#2a2a2a" fill-opacity="0.78"/>
<circle cx="247.8" cy="560.5" r="1.35" fill="#2a2a2a" fill-opacity="0.78"/>
<circle cx="252.8" cy="539.7" r="1.35" fill="#2a2a2a" fill-opacity="0.78"/>
<circle cx="248.1" cy="551.3" r="1.35" fill="#2a2a2a" fill-opacity="0.78"/>
<circle cx="249.5" cy="560.5" r="1.35" fill="#2a2a2a" fill-opacity="0.78"/>
<circle cx="243.0" cy="560.5" r="1.35" fill="#2a2a2a" fill-opacity="0.78"/>
<circle cx="253.8" cy="560.5" r="1.35" fill="#2a2a2a" fill-opacity="0.78"/>
<circle cx="252.3" cy="560.5" r="1.35" fill="#2a2a2a" fill-opacity="0.78"/>
<circle cx="246.2" cy="513.9" r="1.35" fill="#2a2a2a" fill-opacity="0.78"/>
<circle cx="248.1" cy="550.4" r="1.35" fill="#2a2a2a" fill-opacity="0.78"/>
<circle cx="252.8" cy="560.5" r="1.35" fill="#2a2a2a" fill-opacity="0.78"/>
<circle cx="245.7" cy="537.7" r="1.35" fill="#2a2a2a" fill-opacity="0.78"/>
<circle cx="282.9" cy="573.1" r="1.35" fill="#2a2a2a" fill-opacity="0.78"/>
<circle cx="275.6" cy="532.5" r="1.35" fill="#2a2a2a" fill-opacity="0.78"/>
<circle cx="278.7" cy="531.9" r="1.35" fill="#2a2a2a" fill-opacity="0.78"/>
<circle cx="273.9" cy="539.9" r="1.35" fill="#2a2a2a" fill-opacity="0.78"/>
<circle cx="282.8" cy="567.3" r="1.35" fill="#2a2a2a" fill-opacity="0.78"/>
<circle cx="278.3" cy="531.5" r="1.35" fill="#2a2a2a" fill-opacity="0.78"/>
<circle cx="280.9" cy="562.5" r="1.35" fill="#2a2a2a" fill-opacity="0.78"/>
<circle cx="280.9" cy="543.5" r="1.35" fill="#2a2a2a" fill-opacity="0.78"/>
<circle cx="282.4" cy="549.3" r="1.35" fill="#2a2a2a" fill-opacity="0.78"/>
<circle cx="276.6" cy="552.1" r="1.35" fill="#2a2a2a" fill-opacity="0.78"/>
<circle cx="277.6" cy="551.4" r="1.35" fill="#2a2a2a" fill-opacity="0.78"/>
<circle cx="279.4" cy="547.9" r="1.35" fill="#2a2a2a" fill-opacity="0.78"/>
<circle cx="278.2" cy="532.2" r="1.35" fill="#2a2a2a" fill-opacity="0.78"/>
<circle cx="274.9" cy="574.7" r="1.35" fill="#2a2a2a" fill-opacity="0.78"/>
<circle cx="278.6" cy="545.8" r="1.35" fill="#2a2a2a" fill-opacity="0.78"/>
<circle cx="279.9" cy="554.3" r="1.35" fill="#2a2a2a" fill-opacity="0.78"/>
<circle cx="278.2" cy="583.2" r="1.35" fill="#2a2a2a" fill-opacity="0.78"/>
<circle cx="277.9" cy="560.4" r="1.35" fill="#2a2a2a" fill-opacity="0.78"/>
<circle cx="278.1" cy="537.4" r="1.35" fill="#2a2a2a" fill-opacity="0.78"/>
<circle cx="276.0" cy="533.8" r="1.35" fill="#2a2a2a" fill-opacity="0.78"/>
<circle cx="276.5" cy="545.6" r="1.35" fill="#2a2a2a" fill-opacity="0.78"/>
<circle cx="275.6" cy="532.8" r="1.35" fill="#2a2a2a" fill-opacity="0.78"/>
<circle cx="278.8" cy="526.5" r="1.35" fill="#2a2a2a" fill-opacity="0.78"/>
<circle cx="273.3" cy="533.6" r="1.35" fill="#2a2a2a" fill-opacity="0.78"/>
<circle cx="284.1" cy="538.9" r="1.35" fill="#2a2a2a" fill-opacity="0.78"/>
<circle cx="283.8" cy="529.6" r="1.35" fill="#2a2a2a" fill-opacity="0.78"/>
<circle cx="286.3" cy="545.3" r="1.35" fill="#2a2a2a" fill-opacity="0.78"/>
<circle cx="281.7" cy="543.0" r="1.35" fill="#2a2a2a" fill-opacity="0.78"/>
<circle cx="280.3" cy="548.7" r="1.35" fill="#2a2a2a" fill-opacity="0.78"/>
<circle cx="275.8" cy="559.4" r="1.35" fill="#2a2a2a" fill-opacity="0.78"/>
<circle cx="281.8" cy="538.9" r="1.35" fill="#2a2a2a" fill-opacity="0.78"/>
<circle cx="281.4" cy="542.1" r="1.35" fill="#2a2a2a" fill-opacity="0.78"/>
<circle cx="279.1" cy="530.9" r="1.35" fill="#2a2a2a" fill-opacity="0.78"/>
<circle cx="277.9" cy="534.6" r="1.35" fill="#2a2a2a" fill-opacity="0.78"/>
<circle cx="278.6" cy="555.7" r="1.35" fill="#2a2a2a" fill-opacity="0.78"/>
<circle cx="281.0" cy="543.4" r="1.35" fill="#2a2a2a" fill-opacity="0.78"/>
<circle cx="279.5" cy="531.1" r="1.35" fill="#2a2a2a" fill-opacity="0.78"/>
<circle cx="280.7" cy="538.8" r="1.35" fill="#2a2a2a" fill-opacity="0.78"/>
<circle cx="283.8" cy="544.0" r="1.35" fill="#2a2a2a" fill-opacity="0.78"/>
<circle cx="274.5" cy="544.2" r="1.35" fill="#2a2a2a" fill-opacity="0.78"/>
<circle cx="313.5" cy="559.1" r="1.35" fill="#2a2a2a" fill-opacity="0.78"/>
<circle cx="311.3" cy="564.3" r="1.35" fill="#2a2a2a" fill-opacity="0.78"/>
<circle cx="314.7" cy="530.5" r="1.35" fill="#2a2a2a" fill-opacity="0.78"/>
<circle cx="314.2" cy="528.4" r="1.35" fill="#2a2a2a" fill-opacity="0.78"/>
<circle cx="310.6" cy="562.5" r="1.35" fill="#2a2a2a" fill-opacity="0.78"/>
<circle cx="308.5" cy="547.5" r="1.35" fill="#2a2a2a" fill-opacity="0.78"/>
<circle cx="312.0" cy="536.4" r="1.35" fill="#2a2a2a" fill-opacity="0.78"/>
<circle cx="313.2" cy="526.6" r="1.35" fill="#2a2a2a" fill-opacity="0.78"/>
<circle cx="312.5" cy="551.8" r="1.35" fill="#2a2a2a" fill-opacity="0.78"/>
<circle cx="314.3" cy="537.5" r="1.35" fill="#2a2a2a" fill-opacity="0.78"/>
<circle cx="316.0" cy="555.4" r="1.35" fill="#2a2a2a" fill-opacity="0.78"/>
<circle cx="315.3" cy="537.2" r="1.35" fill="#2a2a2a" fill-opacity="0.78"/>
<circle cx="313.5" cy="554.5" r="1.35" fill="#2a2a2a" fill-opacity="0.78"/>
<circle cx="306.5" cy="535.3" r="1.35" fill="#2a2a2a" fill-opacity="0.78"/>
<circle cx="308.7" cy="528.3" r="1.35" fill="#2a2a2a" fill-opacity="0.78"/>
<circle cx="318.3" cy="545.7" r="1.35" fill="#2a2a2a" fill-opacity="0.78"/>
<circle cx="317.3" cy="540.6" r="1.35" fill="#2a2a2a" fill-opacity="0.78"/>
<circle cx="311.9" cy="551.6" r="1.35" fill="#2a2a2a" fill-opacity="0.78"/>
<circle cx="316.9" cy="541.4" r="1.35" fill="#2a2a2a" fill-opacity="0.78"/>
<circle cx="311.7" cy="546.1" r="1.35" fill="#2a2a2a" fill-opacity="0.78"/>
<circle cx="310.4" cy="516.1" r="1.35" fill="#2a2a2a" fill-opacity="0.78"/>
<circle cx="307.0" cy="560.5" r="1.35" fill="#2a2a2a" fill-opacity="0.78"/>
<circle cx="319.6" cy="537.6" r="1.35" fill="#2a2a2a" fill-opacity="0.78"/>
<circle cx="311.6" cy="527.5" r="1.35" fill="#2a2a2a" fill-opacity="0.78"/>
<circle cx="311.4" cy="527.5" r="1.35" fill="#2a2a2a" fill-opacity="0.78"/>
<circle cx="312.1" cy="507.3" r="1.35" fill="#2a2a2a" fill-opacity="0.78"/>
<circle cx="318.2" cy="529.0" r="1.35" fill="#2a2a2a" fill-opacity="0.78"/>
<circle cx="310.0" cy="525.4" r="1.35" fill="#2a2a2a" fill-opacity="0.78"/>
<circle cx="310.1" cy="518.8" r="1.35" fill="#2a2a2a" fill-opacity="0.78"/>
<circle cx="312.6" cy="558.1" r="1.35" fill="#2a2a2a" fill-opacity="0.78"/>
<circle cx="318.3" cy="528.5" r="1.35" fill="#2a2a2a" fill-opacity="0.78"/>
<circle cx="310.1" cy="507.1" r="1.35" fill="#2a2a2a" fill-opacity="0.78"/>
<circle cx="311.6" cy="554.1" r="1.35" fill="#2a2a2a" fill-opacity="0.78"/>
<circle cx="307.2" cy="559.9" r="1.35" fill="#2a2a2a" fill-opacity="0.78"/>
<circle cx="314.2" cy="535.0" r="1.35" fill="#2a2a2a" fill-opacity="0.78"/>
<circle cx="317.0" cy="541.1" r="1.35" fill="#2a2a2a" fill-opacity="0.78"/>
<circle cx="310.2" cy="537.9" r="1.35" fill="#2a2a2a" fill-opacity="0.78"/>
<circle cx="312.6" cy="534.8" r="1.35" fill="#2a2a2a" fill-opacity="0.78"/>
<circle cx="312.2" cy="537.6" r="1.35" fill="#2a2a2a" fill-opacity="0.78"/>
<circle cx="312.5" cy="542.9" r="1.35" fill="#2a2a2a" fill-opacity="0.78"/>
<circle cx="348.2" cy="544.3" r="1.35" fill="#2a2a2a" fill-opacity="0.78"/>
<circle cx="339.7" cy="545.3" r="1.35" fill="#2a2a2a" fill-opacity="0.78"/>
<circle cx="347.5" cy="526.7" r="1.35" fill="#2a2a2a" fill-opacity="0.78"/>
<circle cx="342.5" cy="540.1" r="1.35" fill="#2a2a2a" fill-opacity="0.78"/>
<circle cx="351.8" cy="546.0" r="1.35" fill="#2a2a2a" fill-opacity="0.78"/>
<circle cx="346.6" cy="544.7" r="1.35" fill="#2a2a2a" fill-opacity="0.78"/>
<circle cx="346.4" cy="537.3" r="1.35" fill="#2a2a2a" fill-opacity="0.78"/>
<circle cx="344.5" cy="549.2" r="1.35" fill="#2a2a2a" fill-opacity="0.78"/>
<circle cx="345.2" cy="533.1" r="1.35" fill="#2a2a2a" fill-opacity="0.78"/>
<circle cx="347.0" cy="546.4" r="1.35" fill="#2a2a2a" fill-opacity="0.78"/>
<circle cx="345.8" cy="549.2" r="1.35" fill="#2a2a2a" fill-opacity="0.78"/>
<circle cx="346.2" cy="543.2" r="1.35" fill="#2a2a2a" fill-opacity="0.78"/>
<circle cx="340.6" cy="527.6" r="1.35" fill="#2a2a2a" fill-opacity="0.78"/>
<circle cx="340.4" cy="539.3" r="1.35" fill="#2a2a2a" fill-opacity="0.78"/>
<circle cx="344.2" cy="544.8" r="1.35" fill="#2a2a2a" fill-opacity="0.78"/>
<circle cx="339.5" cy="532.9" r="1.35" fill="#2a2a2a" fill-opacity="0.78"/>
<circle cx="348.2" cy="535.6" r="1.35" fill="#2a2a2a" fill-opacity="0.78"/>
<circle cx="345.5" cy="549.2" r="1.35" fill="#2a2a2a" fill-opacity="0.78"/>
<circle cx="339.8" cy="528.3" r="1.35" fill="#2a2a2a" fill-opacity="0.78"/>
<circle cx="344.9" cy="545.1" r="1.35" fill="#2a2a2a" fill-opacity="0.78"/>
<circle cx="349.4" cy="516.6" r="1.35" fill="#2a2a2a" fill-opacity="0.78"/>
<circle cx="343.2" cy="531.2" r="1.35" fill="#2a2a2a" fill-opacity="0.78"/>
<circle cx="349.6" cy="552.8" r="1.35" fill="#2a2a2a" fill-opacity="0.78"/>
<circle cx="340.6" cy="536.1" r="1.35" fill="#2a2a2a" fill-opacity="0.78"/>
<circle cx="346.8" cy="557.9" r="1.35" fill="#2a2a2a" fill-opacity="0.78"/>
<circle cx="348.4" cy="557.4" r="1.35" fill="#2a2a2a" fill-opacity="0.78"/>
<circle cx="344.2" cy="540.9" r="1.35" fill="#2a2a2a" fill-opacity="0.78"/>
<circle cx="341.2" cy="545.2" r="1.35" fill="#2a2a2a" fill-opacity="0.78"/>
<circle cx="346.9" cy="511.1" r="1.35" fill="#2a2a2a" fill-opacity="0.78"/>
<circle cx="337.8" cy="532.1" r="1.35" fill="#2a2a2a" fill-opacity="0.78"/>
<circle cx="346.0" cy="546.9" r="1.35" fill="#2a2a2a" fill-opacity="0.78"/>
<circle cx="344.7" cy="558.1" r="1.35" fill="#2a2a2a" fill-opacity="0.78"/>
<circle cx="345.5" cy="550.0" r="1.35" fill="#2a2a2a" fill-opacity="0.78"/>
<circle cx="342.0" cy="547.8" r="1.35" fill="#2a2a2a" fill-opacity="0.78"/>
<circle cx="339.4" cy="551.2" r="1.35" fill="#2a2a2a" fill-opacity="0.78"/>
<circle cx="342.0" cy="505.0" r="1.35" fill="#2a2a2a" fill-opacity="0.78"/>
<circle cx="347.5" cy="552.5" r="1.35" fill="#2a2a2a" fill-opacity="0.78"/>
<circle cx="344.8" cy="506.1" r="1.35" fill="#2a2a2a" fill-opacity="0.78"/>
<circle cx="346.0" cy="516.1" r="1.35" fill="#2a2a2a" fill-opacity="0.78"/>
<circle cx="349.7" cy="512.4" r="1.35" fill="#2a2a2a" fill-opacity="0.78"/>
<text transform="translate(374.48,434.50) scale(0.8,1)" font-size="19.3" font-weight="bold" fill="#000" stroke="#000" stroke-width="0.50">F</text>
<text x="392.0" y="425.9" font-size="9.83" text-anchor="start" font-weight="normal" fill="#000" stroke="#000" stroke-width="0.30" >IgG to S protein</text>
<text x="416.9" y="446.1" font-size="8.51" text-anchor="start" font-weight="normal" fill="#000" stroke="#000" stroke-width="0.30" >early_1_to_5_days.1_late_2</text>
<rect x="528.6" y="439.1" width="10.2" height="7.7" fill="none" stroke="#d652e6" stroke-width="1.3"/>
<line x1="528.6" y1="443.0" x2="538.9" y2="443.0" stroke="#d652e6" stroke-width="1" stroke-opacity="1"/>
<line x1="533.8" y1="437.1" x2="533.8" y2="447.9" stroke="#dc3ce4" stroke-width="1.2" stroke-opacity="1"/>
<circle cx="533.8" cy="443.0" r="1.845" fill="#dc3ce4" fill-opacity="1"/>
<text x="544.0" y="446.1" font-size="6.76" text-anchor="start" font-weight="normal" fill="#000" stroke="#000" stroke-width="0.08" >Early infusion (2-5 days)</text>
<rect x="621.9" y="439.1" width="10.2" height="7.7" fill="none" stroke="#b0102c" stroke-width="1.3"/>
<line x1="621.9" y1="443.0" x2="632.1" y2="443.0" stroke="#b0102c" stroke-width="1" stroke-opacity="1"/>
<line x1="627.0" y1="437.1" x2="627.0" y2="447.9" stroke="#c01430" stroke-width="1.2" stroke-opacity="1"/>
<circle cx="627.0" cy="443.0" r="1.845" fill="#c01430" fill-opacity="1"/>
<text x="637.3" y="446.1" font-size="6.76" text-anchor="start" font-weight="normal" fill="#000" stroke="#000" stroke-width="0.08" >Late infusion (6-9 days)</text>
<rect x="391.8" y="461.0" width="168.7" height="12.6" fill="#e9e9e9" stroke="#4a4a4a" stroke-width="1.2"/>
<text x="476.1" y="470.0" font-size="6.83" text-anchor="middle" font-weight="normal" fill="#000" stroke="#000" stroke-width="0.06" >Control</text>
<line x1="391.8" y1="593.5" x2="560.5" y2="593.5" stroke="#444" stroke-width="1.0" stroke-opacity="1"/>
<rect x="564.6" y="461.0" width="168.2" height="12.6" fill="#e9e9e9" stroke="#4a4a4a" stroke-width="1.2"/>
<text x="648.7" y="470.0" font-size="6.83" text-anchor="middle" font-weight="normal" fill="#000" stroke="#000" stroke-width="0.06" >Convalescent</text>
<line x1="564.6" y1="593.5" x2="732.8" y2="593.5" stroke="#444" stroke-width="1.0" stroke-opacity="1"/>
<line x1="391.5" y1="473.6" x2="391.5" y2="593.5" stroke="#444" stroke-width="1.0" stroke-opacity="1"/>
<line x1="389.0" y1="490.9" x2="391.5" y2="490.9" stroke="#444" stroke-width="1.0" stroke-opacity="1"/>
<text x="388.0" y="494.6" font-size="8.69" text-anchor="end" font-weight="normal" fill="#000" stroke="#000" stroke-width="0.30" >4</text>
<line x1="389.0" y1="514.4" x2="391.5" y2="514.4" stroke="#444" stroke-width="1.0" stroke-opacity="1"/>
<text x="388.0" y="518.1" font-size="8.69" text-anchor="end" font-weight="normal" fill="#000" stroke="#000" stroke-width="0.30" >3</text>
<line x1="389.0" y1="537.4" x2="391.5" y2="537.4" stroke="#444" stroke-width="1.0" stroke-opacity="1"/>
<text x="388.0" y="541.1" font-size="8.69" text-anchor="end" font-weight="normal" fill="#000" stroke="#000" stroke-width="0.30" >2</text>
<line x1="389.0" y1="560.4" x2="391.5" y2="560.4" stroke="#444" stroke-width="1.0" stroke-opacity="1"/>
<text x="388.0" y="564.1" font-size="8.69" text-anchor="end" font-weight="normal" fill="#000" stroke="#000" stroke-width="0.30" >1</text>
<line x1="389.0" y1="583.4" x2="391.5" y2="583.4" stroke="#444" stroke-width="1.0" stroke-opacity="1"/>
<text x="388.0" y="587.1" font-size="8.69" text-anchor="end" font-weight="normal" fill="#000" stroke="#000" stroke-width="0.30" >0</text>
<text transform="translate(376.5,527.5) rotate(-90)" font-size="8.85" text-anchor="middle" fill="#000" stroke="#000" stroke-width="0.05">Molar of NH<tspan font-size="5.5" dy="2">4</tspan><tspan dy="-2"> SCN (Avidity index)</tspan></text>
<text x="562.5" y="615.5" font-size="8.38" text-anchor="middle" font-weight="normal" fill="#000" stroke="#000" stroke-width="0.30" >Days post plasma infusion</text>
<line x1="411.3" y1="593.5" x2="411.3" y2="596.0" stroke="#3a3a3a" stroke-width="1.0" stroke-opacity="1"/>
<text x="411.3" y="604.3" font-size="8.49" text-anchor="middle" font-weight="normal" fill="#000" stroke="#000" stroke-width="0.30" >-1</text>
<text x="411.3" y="480.0" font-size="7.45" text-anchor="middle" font-weight="normal" fill="#000" stroke="#000" stroke-width="0.12" >ns</text>
<line x1="443.7" y1="593.5" x2="443.7" y2="596.0" stroke="#3a3a3a" stroke-width="1.0" stroke-opacity="1"/>
<text x="443.7" y="604.3" font-size="8.49" text-anchor="middle" font-weight="normal" fill="#000" stroke="#000" stroke-width="0.30" >0</text>
<text x="443.7" y="480.0" font-size="7.45" text-anchor="middle" font-weight="normal" fill="#000" stroke="#000" stroke-width="0.12" >ns</text>
<line x1="476.1" y1="593.5" x2="476.1" y2="596.0" stroke="#3a3a3a" stroke-width="1.0" stroke-opacity="1"/>
<text x="476.1" y="604.3" font-size="8.49" text-anchor="middle" font-weight="normal" fill="#000" stroke="#000" stroke-width="0.30" >14</text>
<text x="476.1" y="480.0" font-size="7.45" text-anchor="middle" font-weight="normal" fill="#000" stroke="#000" stroke-width="0.12" >ns</text>
<line x1="508.6" y1="593.5" x2="508.6" y2="596.0" stroke="#3a3a3a" stroke-width="1.0" stroke-opacity="1"/>
<text x="508.6" y="604.3" font-size="8.49" text-anchor="middle" font-weight="normal" fill="#000" stroke="#000" stroke-width="0.30" >28</text>
<text x="508.6" y="480.0" font-size="7.45" text-anchor="middle" font-weight="normal" fill="#000" stroke="#000" stroke-width="0.12" >ns</text>
<line x1="541.0" y1="593.5" x2="541.0" y2="596.0" stroke="#3a3a3a" stroke-width="1.0" stroke-opacity="1"/>
<text x="541.0" y="604.3" font-size="8.49" text-anchor="middle" font-weight="normal" fill="#000" stroke="#000" stroke-width="0.30" >90</text>
<text x="541.0" y="480.0" font-size="7.45" text-anchor="middle" font-weight="normal" fill="#000" stroke="#000" stroke-width="0.12" >ns</text>
<line x1="584.0" y1="593.5" x2="584.0" y2="596.0" stroke="#3a3a3a" stroke-width="1.0" stroke-opacity="1"/>
<text x="584.0" y="604.3" font-size="8.49" text-anchor="middle" font-weight="normal" fill="#000" stroke="#000" stroke-width="0.30" >-1</text>
<text x="584.0" y="480.0" font-size="7.45" text-anchor="middle" font-weight="normal" fill="#000" stroke="#000" stroke-width="0.12" >ns</text>
<line x1="616.4" y1="593.5" x2="616.4" y2="596.0" stroke="#3a3a3a" stroke-width="1.0" stroke-opacity="1"/>
<text x="616.4" y="604.3" font-size="8.49" text-anchor="middle" font-weight="normal" fill="#000" stroke="#000" stroke-width="0.30" >0</text>
<text x="616.4" y="480.0" font-size="7.45" text-anchor="middle" font-weight="normal" fill="#000" stroke="#000" stroke-width="0.12" >ns</text>
<line x1="648.7" y1="593.5" x2="648.7" y2="596.0" stroke="#3a3a3a" stroke-width="1.0" stroke-opacity="1"/>
<text x="648.7" y="604.3" font-size="8.49" text-anchor="middle" font-weight="normal" fill="#000" stroke="#000" stroke-width="0.30" >14</text>
<text x="648.7" y="480.0" font-size="7.45" text-anchor="middle" font-weight="normal" fill="#000" stroke="#000" stroke-width="0.12" >ns</text>
<line x1="681.0" y1="593.5" x2="681.0" y2="596.0" stroke="#3a3a3a" stroke-width="1.0" stroke-opacity="1"/>
<text x="681.0" y="604.3" font-size="8.49" text-anchor="middle" font-weight="normal" fill="#000" stroke="#000" stroke-width="0.30" >28</text>
<text x="681.0" y="480.0" font-size="7.45" text-anchor="middle" font-weight="normal" fill="#000" stroke="#000" stroke-width="0.12" >ns</text>
<line x1="713.4" y1="593.5" x2="713.4" y2="596.0" stroke="#3a3a3a" stroke-width="1.0" stroke-opacity="1"/>
<text x="713.4" y="604.3" font-size="8.49" text-anchor="middle" font-weight="normal" fill="#000" stroke="#000" stroke-width="0.30" >90</text>
<text x="713.4" y="480.0" font-size="7.45" text-anchor="middle" font-weight="normal" fill="#000" stroke="#000" stroke-width="0.12" >ns</text>
<rect x="398.3" y="548.5" width="13.0" height="20.9" fill="none" stroke="#d652e6" stroke-width="1.4"/>
<line x1="398.3" y1="560.0" x2="411.3" y2="560.0" stroke="#d652e6" stroke-width="1.3" stroke-opacity="1"/>
<line x1="404.8" y1="537.4" x2="404.8" y2="548.5" stroke="#dc3ce4" stroke-width="2.2" stroke-opacity="1"/>
<line x1="404.8" y1="548.5" x2="404.8" y2="569.4" stroke="#dc3ce4" stroke-width="1.0" stroke-opacity="0.7"/>
<circle cx="404.8" cy="554.1" r="2.1" fill="#dc3ce4" fill-opacity="1"/>
<circle cx="404.8" cy="513.9" r="1.5" fill="#dc3ce4" fill-opacity="1"/>
<rect x="411.3" y="548.5" width="13.0" height="15.7" fill="none" stroke="#b0102c" stroke-width="1.4"/>
<line x1="411.3" y1="560.0" x2="424.2" y2="560.0" stroke="#b0102c" stroke-width="1.3" stroke-opacity="1"/>
<line x1="417.8" y1="537.4" x2="417.8" y2="548.5" stroke="#c01430" stroke-width="2.2" stroke-opacity="1"/>
<line x1="417.8" y1="564.2" x2="417.8" y2="583.0" stroke="#c01430" stroke-width="2.2" stroke-opacity="1"/>
<line x1="417.8" y1="548.5" x2="417.8" y2="564.2" stroke="#c01430" stroke-width="1.0" stroke-opacity="0.7"/>
<circle cx="417.8" cy="556.2" r="2.1" fill="#c01430" fill-opacity="1"/>
<circle cx="417.8" cy="513.9" r="1.5" fill="#c01430" fill-opacity="1"/>
<rect x="430.7" y="548.5" width="13.0" height="20.9" fill="none" stroke="#d652e6" stroke-width="1.4"/>
<line x1="430.7" y1="560.0" x2="443.7" y2="560.0" stroke="#d652e6" stroke-width="1.3" stroke-opacity="1"/>
<line x1="437.2" y1="537.4" x2="437.2" y2="548.5" stroke="#dc3ce4" stroke-width="2.2" stroke-opacity="1"/>
<line x1="437.2" y1="548.5" x2="437.2" y2="569.4" stroke="#dc3ce4" stroke-width="1.0" stroke-opacity="0.7"/>
<circle cx="437.2" cy="554.1" r="2.1" fill="#dc3ce4" fill-opacity="1"/>
<circle cx="437.2" cy="513.9" r="1.5" fill="#dc3ce4" fill-opacity="1"/>
<rect x="443.7" y="545.3" width="13.0" height="18.9" fill="none" stroke="#b0102c" stroke-width="1.4"/>
<line x1="443.7" y1="554.7" x2="456.7" y2="554.7" stroke="#b0102c" stroke-width="1.3" stroke-opacity="1"/>
<line x1="450.2" y1="525.5" x2="450.2" y2="545.3" stroke="#c01430" stroke-width="2.2" stroke-opacity="1"/>
<line x1="450.2" y1="564.2" x2="450.2" y2="583.0" stroke="#c01430" stroke-width="2.2" stroke-opacity="1"/>
<line x1="450.2" y1="545.3" x2="450.2" y2="564.2" stroke="#c01430" stroke-width="1.0" stroke-opacity="0.7"/>
<circle cx="450.2" cy="553.7" r="2.1" fill="#c01430" fill-opacity="1"/>
<circle cx="450.2" cy="513.9" r="1.5" fill="#c01430" fill-opacity="1"/>
<rect x="463.2" y="548.5" width="13.0" height="11.5" fill="none" stroke="#d652e6" stroke-width="1.4"/>
<line x1="463.2" y1="554.1" x2="476.1" y2="554.1" stroke="#d652e6" stroke-width="1.3" stroke-opacity="1"/>
<line x1="469.7" y1="537.4" x2="469.7" y2="548.5" stroke="#dc3ce4" stroke-width="2.2" stroke-opacity="1"/>
<line x1="469.7" y1="560.0" x2="469.7" y2="571.5" stroke="#dc3ce4" stroke-width="2.2" stroke-opacity="1"/>
<line x1="469.7" y1="548.5" x2="469.7" y2="560.0" stroke="#dc3ce4" stroke-width="1.0" stroke-opacity="0.7"/>
<circle cx="469.7" cy="554.1" r="2.1" fill="#dc3ce4" fill-opacity="1"/>
<rect x="476.1" y="548.5" width="13.0" height="12.5" fill="none" stroke="#b0102c" stroke-width="1.4"/>
<line x1="476.1" y1="560.0" x2="489.1" y2="560.0" stroke="#b0102c" stroke-width="1.3" stroke-opacity="1"/>
<line x1="482.6" y1="537.4" x2="482.6" y2="548.5" stroke="#c01430" stroke-width="2.2" stroke-opacity="1"/>
<line x1="482.6" y1="561.0" x2="482.6" y2="571.5" stroke="#c01430" stroke-width="2.2" stroke-opacity="1"/>
<line x1="482.6" y1="548.5" x2="482.6" y2="561.0" stroke="#c01430" stroke-width="1.0" stroke-opacity="0.7"/>
<circle cx="482.6" cy="555.4" r="2.1" fill="#c01430" fill-opacity="1"/>
<circle cx="482.6" cy="513.9" r="1.5" fill="#c01430" fill-opacity="1"/>
<circle cx="482.6" cy="525.5" r="1.5" fill="#c01430" fill-opacity="1"/>
<circle cx="482.6" cy="583.0" r="1.5" fill="#c01430" fill-opacity="1"/>
<rect x="495.6" y="548.5" width="13.0" height="11.5" fill="none" stroke="#d652e6" stroke-width="1.4"/>
<line x1="495.6" y1="554.7" x2="508.6" y2="554.7" stroke="#d652e6" stroke-width="1.3" stroke-opacity="1"/>
<line x1="502.1" y1="537.4" x2="502.1" y2="548.5" stroke="#dc3ce4" stroke-width="2.2" stroke-opacity="1"/>
<line x1="502.1" y1="560.0" x2="502.1" y2="571.5" stroke="#dc3ce4" stroke-width="2.2" stroke-opacity="1"/>
<line x1="502.1" y1="548.5" x2="502.1" y2="560.0" stroke="#dc3ce4" stroke-width="1.0" stroke-opacity="0.7"/>
<circle cx="502.1" cy="549.9" r="2.1" fill="#dc3ce4" fill-opacity="1"/>
<circle cx="502.1" cy="501.8" r="1.5" fill="#dc3ce4" fill-opacity="1"/>
<rect x="508.6" y="547.8" width="13.0" height="12.2" fill="none" stroke="#b0102c" stroke-width="1.4"/>
<line x1="508.6" y1="548.5" x2="521.6" y2="548.5" stroke="#b0102c" stroke-width="1.3" stroke-opacity="1"/>
<line x1="515.1" y1="537.4" x2="515.1" y2="547.8" stroke="#c01430" stroke-width="2.2" stroke-opacity="1"/>
<line x1="515.1" y1="560.0" x2="515.1" y2="571.5" stroke="#c01430" stroke-width="2.2" stroke-opacity="1"/>
<line x1="515.1" y1="547.8" x2="515.1" y2="560.0" stroke="#c01430" stroke-width="1.0" stroke-opacity="0.7"/>
<circle cx="515.1" cy="553.3" r="2.1" fill="#c01430" fill-opacity="1"/>
<circle cx="515.1" cy="513.9" r="1.5" fill="#c01430" fill-opacity="1"/>
<circle cx="515.1" cy="525.5" r="1.5" fill="#c01430" fill-opacity="1"/>
<circle cx="515.1" cy="583.0" r="1.5" fill="#c01430" fill-opacity="1"/>
<rect x="528.1" y="542.5" width="13.0" height="12.3" fill="none" stroke="#d652e6" stroke-width="1.4"/>
<line x1="528.1" y1="548.9" x2="541.0" y2="548.9" stroke="#d652e6" stroke-width="1.3" stroke-opacity="1"/>
<line x1="534.5" y1="525.4" x2="534.5" y2="542.5" stroke="#dc3ce4" stroke-width="2.2" stroke-opacity="1"/>
<line x1="534.5" y1="554.8" x2="534.5" y2="571.8" stroke="#dc3ce4" stroke-width="2.2" stroke-opacity="1"/>
<line x1="534.5" y1="542.5" x2="534.5" y2="554.8" stroke="#dc3ce4" stroke-width="1.0" stroke-opacity="0.7"/>
<circle cx="534.5" cy="548.9" r="2.1" fill="#dc3ce4" fill-opacity="1"/>
<circle cx="534.5" cy="502.0" r="1.5" fill="#dc3ce4" fill-opacity="1"/>
<rect x="541.0" y="542.5" width="13.0" height="17.6" fill="none" stroke="#b0102c" stroke-width="1.4"/>
<line x1="541.0" y1="548.9" x2="554.0" y2="548.9" stroke="#b0102c" stroke-width="1.3" stroke-opacity="1"/>
<line x1="547.5" y1="525.4" x2="547.5" y2="542.5" stroke="#c01430" stroke-width="2.2" stroke-opacity="1"/>
<line x1="547.5" y1="560.1" x2="547.5" y2="582.7" stroke="#c01430" stroke-width="2.2" stroke-opacity="1"/>
<line x1="547.5" y1="542.5" x2="547.5" y2="560.1" stroke="#c01430" stroke-width="1.0" stroke-opacity="0.7"/>
<circle cx="547.5" cy="549.5" r="2.1" fill="#c01430" fill-opacity="1"/>
<circle cx="547.5" cy="514.3" r="1.5" fill="#c01430" fill-opacity="1"/>
<rect x="571.1" y="546.0" width="12.9" height="26.4" fill="none" stroke="#d652e6" stroke-width="1.4"/>
<line x1="571.1" y1="559.2" x2="584.0" y2="559.2" stroke="#d652e6" stroke-width="1.3" stroke-opacity="1"/>
<line x1="577.5" y1="525.4" x2="577.5" y2="546.0" stroke="#dc3ce4" stroke-width="2.2" stroke-opacity="1"/>
<line x1="577.5" y1="572.4" x2="577.5" y2="583.6" stroke="#dc3ce4" stroke-width="2.2" stroke-opacity="1"/>
<line x1="577.5" y1="546.0" x2="577.5" y2="572.4" stroke="#dc3ce4" stroke-width="1.0" stroke-opacity="0.7"/>
<circle cx="577.5" cy="559.2" r="2.1" fill="#dc3ce4" fill-opacity="1"/>
<rect x="584.0" y="545.4" width="12.9" height="15.3" fill="none" stroke="#b0102c" stroke-width="1.4"/>
<line x1="584.0" y1="551.9" x2="596.9" y2="551.9" stroke="#b0102c" stroke-width="1.3" stroke-opacity="1"/>
<line x1="590.5" y1="525.4" x2="590.5" y2="545.4" stroke="#c01430" stroke-width="2.2" stroke-opacity="1"/>
<line x1="590.5" y1="560.7" x2="590.5" y2="572.4" stroke="#c01430" stroke-width="2.2" stroke-opacity="1"/>
<line x1="590.5" y1="545.4" x2="590.5" y2="560.7" stroke="#c01430" stroke-width="1.0" stroke-opacity="0.7"/>
<circle cx="590.5" cy="551.9" r="2.1" fill="#c01430" fill-opacity="1"/>
<circle cx="590.5" cy="514.3" r="1.5" fill="#c01430" fill-opacity="1"/>
<circle cx="590.5" cy="583.6" r="1.5" fill="#c01430" fill-opacity="1"/>
<rect x="603.4" y="548.9" width="12.9" height="23.5" fill="none" stroke="#d652e6" stroke-width="1.4"/>
<line x1="603.4" y1="554.2" x2="616.4" y2="554.2" stroke="#d652e6" stroke-width="1.3" stroke-opacity="1"/>
<line x1="609.9" y1="525.4" x2="609.9" y2="548.9" stroke="#dc3ce4" stroke-width="2.2" stroke-opacity="1"/>
<line x1="609.9" y1="572.4" x2="609.9" y2="583.6" stroke="#dc3ce4" stroke-width="2.2" stroke-opacity="1"/>
<line x1="609.9" y1="548.9" x2="609.9" y2="572.4" stroke="#dc3ce4" stroke-width="1.0" stroke-opacity="0.7"/>
<circle cx="609.9" cy="557.7" r="2.1" fill="#dc3ce4" fill-opacity="1"/>
<rect x="616.4" y="545.4" width="12.9" height="15.3" fill="none" stroke="#b0102c" stroke-width="1.4"/>
<line x1="616.4" y1="550.4" x2="629.3" y2="550.4" stroke="#b0102c" stroke-width="1.3" stroke-opacity="1"/>
<line x1="622.8" y1="531.3" x2="622.8" y2="545.4" stroke="#c01430" stroke-width="2.2" stroke-opacity="1"/>
<line x1="622.8" y1="560.7" x2="622.8" y2="572.4" stroke="#c01430" stroke-width="2.2" stroke-opacity="1"/>
<line x1="622.8" y1="545.4" x2="622.8" y2="560.7" stroke="#c01430" stroke-width="1.0" stroke-opacity="0.7"/>
<circle cx="622.8" cy="550.4" r="2.1" fill="#c01430" fill-opacity="1"/>
<circle cx="622.8" cy="514.3" r="1.5" fill="#c01430" fill-opacity="1"/>
<rect x="635.8" y="548.9" width="12.9" height="23.5" fill="none" stroke="#d652e6" stroke-width="1.4"/>
<line x1="635.8" y1="559.2" x2="648.7" y2="559.2" stroke="#d652e6" stroke-width="1.3" stroke-opacity="1"/>
<line x1="642.2" y1="514.3" x2="642.2" y2="548.9" stroke="#dc3ce4" stroke-width="2.2" stroke-opacity="1"/>
<line x1="642.2" y1="572.4" x2="642.2" y2="583.6" stroke="#dc3ce4" stroke-width="2.2" stroke-opacity="1"/>
<line x1="642.2" y1="548.9" x2="642.2" y2="572.4" stroke="#dc3ce4" stroke-width="1.0" stroke-opacity="0.7"/>
<circle cx="642.2" cy="556.3" r="2.1" fill="#dc3ce4" fill-opacity="1"/>
<rect x="648.7" y="548.3" width="12.9" height="12.4" fill="none" stroke="#b0102c" stroke-width="1.4"/>
<line x1="648.7" y1="550.4" x2="661.6" y2="550.4" stroke="#b0102c" stroke-width="1.3" stroke-opacity="1"/>
<line x1="655.2" y1="525.4" x2="655.2" y2="548.3" stroke="#c01430" stroke-width="2.2" stroke-opacity="1"/>
<line x1="655.2" y1="560.7" x2="655.2" y2="572.4" stroke="#c01430" stroke-width="2.2" stroke-opacity="1"/>
<line x1="655.2" y1="548.3" x2="655.2" y2="560.7" stroke="#c01430" stroke-width="1.0" stroke-opacity="0.7"/>
<circle cx="655.2" cy="550.4" r="2.1" fill="#c01430" fill-opacity="1"/>
<circle cx="655.2" cy="514.3" r="1.5" fill="#c01430" fill-opacity="1"/>
<circle cx="655.2" cy="525.4" r="1.5" fill="#c01430" fill-opacity="1"/>
<rect x="668.1" y="548.9" width="12.9" height="17.6" fill="none" stroke="#d652e6" stroke-width="1.4"/>
<line x1="668.1" y1="559.2" x2="681.0" y2="559.2" stroke="#d652e6" stroke-width="1.3" stroke-opacity="1"/>
<line x1="674.6" y1="514.3" x2="674.6" y2="548.9" stroke="#dc3ce4" stroke-width="2.2" stroke-opacity="1"/>
<line x1="674.6" y1="566.5" x2="674.6" y2="583.6" stroke="#dc3ce4" stroke-width="2.2" stroke-opacity="1"/>
<line x1="674.6" y1="548.9" x2="674.6" y2="566.5" stroke="#dc3ce4" stroke-width="1.0" stroke-opacity="0.7"/>
<circle cx="674.6" cy="554.8" r="2.1" fill="#dc3ce4" fill-opacity="1"/>
<rect x="681.0" y="548.3" width="12.9" height="12.4" fill="none" stroke="#b0102c" stroke-width="1.4"/>
<line x1="681.0" y1="550.4" x2="694.0" y2="550.4" stroke="#b0102c" stroke-width="1.3" stroke-opacity="1"/>
<line x1="687.5" y1="525.4" x2="687.5" y2="548.3" stroke="#c01430" stroke-width="2.2" stroke-opacity="1"/>
<line x1="687.5" y1="560.7" x2="687.5" y2="572.4" stroke="#c01430" stroke-width="2.2" stroke-opacity="1"/>
<line x1="687.5" y1="548.3" x2="687.5" y2="560.7" stroke="#c01430" stroke-width="1.0" stroke-opacity="0.7"/>
<circle cx="687.5" cy="550.4" r="2.1" fill="#c01430" fill-opacity="1"/>
<circle cx="687.5" cy="514.3" r="1.5" fill="#c01430" fill-opacity="1"/>
<rect x="700.5" y="537.2" width="12.9" height="23.5" fill="none" stroke="#d652e6" stroke-width="1.4"/>
<line x1="700.5" y1="548.9" x2="713.4" y2="548.9" stroke="#d652e6" stroke-width="1.3" stroke-opacity="1"/>
<line x1="706.9" y1="514.3" x2="706.9" y2="537.2" stroke="#dc3ce4" stroke-width="2.2" stroke-opacity="1"/>
<line x1="706.9" y1="537.2" x2="706.9" y2="560.7" stroke="#dc3ce4" stroke-width="1.0" stroke-opacity="0.7"/>
<circle cx="706.9" cy="550.4" r="2.1" fill="#dc3ce4" fill-opacity="1"/>
<circle cx="706.9" cy="490.8" r="1.5" fill="#dc3ce4" fill-opacity="1"/>
<rect x="713.4" y="542.5" width="12.9" height="7.9" fill="none" stroke="#b0102c" stroke-width="1.4"/>
<line x1="713.4" y1="548.3" x2="726.3" y2="548.3" stroke="#b0102c" stroke-width="1.3" stroke-opacity="1"/>
<line x1="719.9" y1="537.2" x2="719.9" y2="542.5" stroke="#c01430" stroke-width="2.2" stroke-opacity="1"/>
<line x1="719.9" y1="550.4" x2="719.9" y2="559.2" stroke="#c01430" stroke-width="2.2" stroke-opacity="1"/>
<line x1="719.9" y1="542.5" x2="719.9" y2="550.4" stroke="#c01430" stroke-width="1.0" stroke-opacity="0.7"/>
<circle cx="719.9" cy="548.3" r="2.1" fill="#c01430" fill-opacity="1"/>
<circle cx="719.9" cy="525.4" r="1.5" fill="#c01430" fill-opacity="1"/>
<circle cx="719.9" cy="571.8" r="1.5" fill="#c01430" fill-opacity="1"/>
<circle cx="409.2" cy="545.3" r="1.35" fill="#2a2a2a" fill-opacity="0.78"/>
<circle cx="407.0" cy="554.6" r="1.35" fill="#2a2a2a" fill-opacity="0.78"/>
<circle cx="409.8" cy="575.1" r="1.35" fill="#2a2a2a" fill-opacity="0.78"/>
<circle cx="409.1" cy="568.2" r="1.35" fill="#2a2a2a" fill-opacity="0.78"/>
<circle cx="411.7" cy="574.7" r="1.35" fill="#2a2a2a" fill-opacity="0.78"/>
<circle cx="411.1" cy="574.0" r="1.35" fill="#2a2a2a" fill-opacity="0.78"/>
<circle cx="415.0" cy="555.9" r="1.35" fill="#2a2a2a" fill-opacity="0.78"/>
<circle cx="411.2" cy="527.1" r="1.35" fill="#2a2a2a" fill-opacity="0.78"/>
<circle cx="412.9" cy="559.5" r="1.35" fill="#2a2a2a" fill-opacity="0.78"/>
<circle cx="415.0" cy="533.5" r="1.35" fill="#2a2a2a" fill-opacity="0.78"/>
<circle cx="408.7" cy="530.6" r="1.35" fill="#2a2a2a" fill-opacity="0.78"/>
<circle cx="412.7" cy="572.3" r="1.35" fill="#2a2a2a" fill-opacity="0.78"/>
<circle cx="409.2" cy="575.1" r="1.35" fill="#2a2a2a" fill-opacity="0.78"/>
<circle cx="413.1" cy="563.8" r="1.35" fill="#2a2a2a" fill-opacity="0.78"/>
<circle cx="414.0" cy="555.5" r="1.35" fill="#2a2a2a" fill-opacity="0.78"/>
<circle cx="410.1" cy="551.9" r="1.35" fill="#2a2a2a" fill-opacity="0.78"/>
<circle cx="412.1" cy="572.4" r="1.35" fill="#2a2a2a" fill-opacity="0.78"/>
<circle cx="418.0" cy="534.1" r="1.35" fill="#2a2a2a" fill-opacity="0.78"/>
<circle cx="410.2" cy="544.5" r="1.35" fill="#2a2a2a" fill-opacity="0.78"/>
<circle cx="407.5" cy="577.2" r="1.35" fill="#2a2a2a" fill-opacity="0.78"/>
<circle cx="413.6" cy="554.2" r="1.35" fill="#2a2a2a" fill-opacity="0.78"/>
<circle cx="416.8" cy="558.3" r="1.35" fill="#2a2a2a" fill-opacity="0.78"/>
<circle cx="411.5" cy="555.1" r="1.35" fill="#2a2a2a" fill-opacity="0.78"/>
<circle cx="410.0" cy="561.7" r="1.35" fill="#2a2a2a" fill-opacity="0.78"/>
<circle cx="409.9" cy="529.3" r="1.35" fill="#2a2a2a" fill-opacity="0.78"/>
<circle cx="414.7" cy="533.8" r="1.35" fill="#2a2a2a" fill-opacity="0.78"/>
<circle cx="410.3" cy="553.4" r="1.35" fill="#2a2a2a" fill-opacity="0.78"/>
<circle cx="411.4" cy="573.7" r="1.35" fill="#2a2a2a" fill-opacity="0.78"/>
<circle cx="415.3" cy="547.0" r="1.35" fill="#2a2a2a" fill-opacity="0.78"/>
<circle cx="410.6" cy="553.7" r="1.35" fill="#2a2a2a" fill-opacity="0.78"/>
<circle cx="407.5" cy="540.3" r="1.35" fill="#2a2a2a" fill-opacity="0.78"/>
<circle cx="412.5" cy="549.3" r="1.35" fill="#2a2a2a" fill-opacity="0.78"/>
<circle cx="413.8" cy="553.0" r="1.35" fill="#2a2a2a" fill-opacity="0.78"/>
<circle cx="405.8" cy="548.9" r="1.35" fill="#2a2a2a" fill-opacity="0.78"/>
<circle cx="410.4" cy="550.0" r="1.35" fill="#2a2a2a" fill-opacity="0.78"/>
<circle cx="413.7" cy="525.4" r="1.35" fill="#2a2a2a" fill-opacity="0.78"/>
<circle cx="414.2" cy="560.8" r="1.35" fill="#2a2a2a" fill-opacity="0.78"/>
<circle cx="410.7" cy="536.5" r="1.35" fill="#2a2a2a" fill-opacity="0.78"/>
<circle cx="411.8" cy="574.8" r="1.35" fill="#2a2a2a" fill-opacity="0.78"/>
<circle cx="407.5" cy="567.1" r="1.35" fill="#2a2a2a" fill-opacity="0.78"/>
<circle cx="445.4" cy="550.1" r="1.35" fill="#2a2a2a" fill-opacity="0.78"/>
<circle cx="447.8" cy="577.3" r="1.35" fill="#2a2a2a" fill-opacity="0.78"/>
<circle cx="443.7" cy="538.5" r="1.35" fill="#2a2a2a" fill-opacity="0.78"/>
<circle cx="441.5" cy="552.1" r="1.35" fill="#2a2a2a" fill-opacity="0.78"/>
<circle cx="440.9" cy="524.5" r="1.35" fill="#2a2a2a" fill-opacity="0.78"/>
<circle cx="444.0" cy="550.9" r="1.35" fill="#2a2a2a" fill-opacity="0.78"/>
<circle cx="440.0" cy="564.8" r="1.35" fill="#2a2a2a" fill-opacity="0.78"/>
<circle cx="443.5" cy="530.7" r="1.35" fill="#2a2a2a" fill-opacity="0.78"/>
<circle cx="443.8" cy="549.3" r="1.35" fill="#2a2a2a" fill-opacity="0.78"/>
<circle cx="436.7" cy="576.8" r="1.35" fill="#2a2a2a" fill-opacity="0.78"/>
<circle cx="441.6" cy="540.5" r="1.35" fill="#2a2a2a" fill-opacity="0.78"/>
<circle cx="441.1" cy="557.6" r="1.35" fill="#2a2a2a" fill-opacity="0.78"/>
<circle cx="441.5" cy="532.0" r="1.35" fill="#2a2a2a" fill-opacity="0.78"/>
<circle cx="440.2" cy="528.6" r="1.35" fill="#2a2a2a" fill-opacity="0.78"/>
<circle cx="443.9" cy="524.8" r="1.35" fill="#2a2a2a" fill-opacity="0.78"/>
<circle cx="445.6" cy="563.5" r="1.35" fill="#2a2a2a" fill-opacity="0.78"/>
<circle cx="447.0" cy="574.5" r="1.35" fill="#2a2a2a" fill-opacity="0.78"/>
<circle cx="446.9" cy="542.7" r="1.35" fill="#2a2a2a" fill-opacity="0.78"/>
<circle cx="443.1" cy="564.3" r="1.35" fill="#2a2a2a" fill-opacity="0.78"/>
<circle cx="443.1" cy="558.3" r="1.35" fill="#2a2a2a" fill-opacity="0.78"/>
<circle cx="447.9" cy="540.6" r="1.35" fill="#2a2a2a" fill-opacity="0.78"/>
<circle cx="448.0" cy="534.9" r="1.35" fill="#2a2a2a" fill-opacity="0.78"/>
<circle cx="446.0" cy="580.9" r="1.35" fill="#2a2a2a" fill-opacity="0.78"/>
<circle cx="441.9" cy="555.0" r="1.35" fill="#2a2a2a" fill-opacity="0.78"/>
<circle cx="444.8" cy="560.3" r="1.35" fill="#2a2a2a" fill-opacity="0.78"/>
<circle cx="439.0" cy="512.8" r="1.35" fill="#2a2a2a" fill-opacity="0.78"/>
<circle cx="439.6" cy="517.6" r="1.35" fill="#2a2a2a" fill-opacity="0.78"/>
<circle cx="440.0" cy="569.1" r="1.35" fill="#2a2a2a" fill-opacity="0.78"/>
<circle cx="443.5" cy="550.3" r="1.35" fill="#2a2a2a" fill-opacity="0.78"/>
<circle cx="448.3" cy="548.5" r="1.35" fill="#2a2a2a" fill-opacity="0.78"/>
<circle cx="444.9" cy="520.0" r="1.35" fill="#2a2a2a" fill-opacity="0.78"/>
<circle cx="436.7" cy="575.7" r="1.35" fill="#2a2a2a" fill-opacity="0.78"/>
<circle cx="445.8" cy="527.2" r="1.35" fill="#2a2a2a" fill-opacity="0.78"/>
<circle cx="443.3" cy="536.5" r="1.35" fill="#2a2a2a" fill-opacity="0.78"/>
<circle cx="444.9" cy="536.8" r="1.35" fill="#2a2a2a" fill-opacity="0.78"/>
<circle cx="443.6" cy="515.5" r="1.35" fill="#2a2a2a" fill-opacity="0.78"/>
<circle cx="441.7" cy="581.1" r="1.35" fill="#2a2a2a" fill-opacity="0.78"/>
<circle cx="440.2" cy="514.0" r="1.35" fill="#2a2a2a" fill-opacity="0.78"/>
<circle cx="447.7" cy="546.0" r="1.35" fill="#2a2a2a" fill-opacity="0.78"/>
<circle cx="442.1" cy="561.4" r="1.35" fill="#2a2a2a" fill-opacity="0.78"/>
<circle cx="474.4" cy="558.1" r="1.35" fill="#2a2a2a" fill-opacity="0.78"/>
<circle cx="477.6" cy="574.0" r="1.35" fill="#2a2a2a" fill-opacity="0.78"/>
<circle cx="481.5" cy="550.5" r="1.35" fill="#2a2a2a" fill-opacity="0.78"/>
<circle cx="478.1" cy="559.5" r="1.35" fill="#2a2a2a" fill-opacity="0.78"/>
<circle cx="476.6" cy="542.5" r="1.35" fill="#2a2a2a" fill-opacity="0.78"/>
<circle cx="481.5" cy="549.4" r="1.35" fill="#2a2a2a" fill-opacity="0.78"/>
<circle cx="469.2" cy="571.3" r="1.35" fill="#2a2a2a" fill-opacity="0.78"/>
<circle cx="472.5" cy="557.0" r="1.35" fill="#2a2a2a" fill-opacity="0.78"/>
<circle cx="471.1" cy="570.0" r="1.35" fill="#2a2a2a" fill-opacity="0.78"/>
<circle cx="471.7" cy="569.2" r="1.35" fill="#2a2a2a" fill-opacity="0.78"/>
<circle cx="477.7" cy="571.7" r="1.35" fill="#2a2a2a" fill-opacity="0.78"/>
<circle cx="481.5" cy="565.4" r="1.35" fill="#2a2a2a" fill-opacity="0.78"/>
<circle cx="472.0" cy="548.8" r="1.35" fill="#2a2a2a" fill-opacity="0.78"/>
<circle cx="480.2" cy="539.0" r="1.35" fill="#2a2a2a" fill-opacity="0.78"/>
<circle cx="475.1" cy="542.5" r="1.35" fill="#2a2a2a" fill-opacity="0.78"/>
<circle cx="474.0" cy="556.2" r="1.35" fill="#2a2a2a" fill-opacity="0.78"/>
<circle cx="477.0" cy="552.7" r="1.35" fill="#2a2a2a" fill-opacity="0.78"/>
<circle cx="475.7" cy="537.3" r="1.35" fill="#2a2a2a" fill-opacity="0.78"/>
<circle cx="477.2" cy="575.0" r="1.35" fill="#2a2a2a" fill-opacity="0.78"/>
<circle cx="478.6" cy="575.6" r="1.35" fill="#2a2a2a" fill-opacity="0.78"/>
<circle cx="477.2" cy="552.2" r="1.35" fill="#2a2a2a" fill-opacity="0.78"/>
<circle cx="479.7" cy="564.9" r="1.35" fill="#2a2a2a" fill-opacity="0.78"/>
<circle cx="476.5" cy="548.9" r="1.35" fill="#2a2a2a" fill-opacity="0.78"/>
<circle cx="474.9" cy="538.6" r="1.35" fill="#2a2a2a" fill-opacity="0.78"/>
<circle cx="475.8" cy="536.5" r="1.35" fill="#2a2a2a" fill-opacity="0.78"/>
<circle cx="478.3" cy="551.3" r="1.35" fill="#2a2a2a" fill-opacity="0.78"/>
<circle cx="479.3" cy="555.8" r="1.35" fill="#2a2a2a" fill-opacity="0.78"/>
<circle cx="474.2" cy="530.3" r="1.35" fill="#2a2a2a" fill-opacity="0.78"/>
<circle cx="474.6" cy="528.5" r="1.35" fill="#2a2a2a" fill-opacity="0.78"/>
<circle cx="477.4" cy="541.9" r="1.35" fill="#2a2a2a" fill-opacity="0.78"/>
<circle cx="472.3" cy="579.6" r="1.35" fill="#2a2a2a" fill-opacity="0.78"/>
<circle cx="475.7" cy="567.8" r="1.35" fill="#2a2a2a" fill-opacity="0.78"/>
<circle cx="480.8" cy="550.7" r="1.35" fill="#2a2a2a" fill-opacity="0.78"/>
<circle cx="470.5" cy="556.6" r="1.35" fill="#2a2a2a" fill-opacity="0.78"/>
<circle cx="481.0" cy="571.0" r="1.35" fill="#2a2a2a" fill-opacity="0.78"/>
<circle cx="477.7" cy="552.5" r="1.35" fill="#2a2a2a" fill-opacity="0.78"/>
<circle cx="476.7" cy="566.6" r="1.35" fill="#2a2a2a" fill-opacity="0.78"/>
<circle cx="472.0" cy="560.8" r="1.35" fill="#2a2a2a" fill-opacity="0.78"/>
<circle cx="480.0" cy="560.6" r="1.35" fill="#2a2a2a" fill-opacity="0.78"/>
<circle cx="475.7" cy="554.4" r="1.35" fill="#2a2a2a" fill-opacity="0.78"/>
<circle cx="508.0" cy="566.7" r="1.35" fill="#2a2a2a" fill-opacity="0.78"/>
<circle cx="509.8" cy="525.4" r="1.35" fill="#2a2a2a" fill-opacity="0.78"/>
<circle cx="509.3" cy="578.7" r="1.35" fill="#2a2a2a" fill-opacity="0.78"/>
<circle cx="513.4" cy="570.6" r="1.35" fill="#2a2a2a" fill-opacity="0.78"/>
<circle cx="511.7" cy="543.0" r="1.35" fill="#2a2a2a" fill-opacity="0.78"/>
<circle cx="509.5" cy="537.6" r="1.35" fill="#2a2a2a" fill-opacity="0.78"/>
<circle cx="510.2" cy="553.5" r="1.35" fill="#2a2a2a" fill-opacity="0.78"/>
<circle cx="513.9" cy="559.5" r="1.35" fill="#2a2a2a" fill-opacity="0.78"/>
<circle cx="510.3" cy="549.7" r="1.35" fill="#2a2a2a" fill-opacity="0.78"/>
<circle cx="505.0" cy="564.4" r="1.35" fill="#2a2a2a" fill-opacity="0.78"/>
<circle cx="506.1" cy="552.5" r="1.35" fill="#2a2a2a" fill-opacity="0.78"/>
<circle cx="505.5" cy="556.5" r="1.35" fill="#2a2a2a" fill-opacity="0.78"/>
<circle cx="511.8" cy="561.5" r="1.35" fill="#2a2a2a" fill-opacity="0.78"/>
<circle cx="512.8" cy="552.6" r="1.35" fill="#2a2a2a" fill-opacity="0.78"/>
<circle cx="506.7" cy="553.8" r="1.35" fill="#2a2a2a" fill-opacity="0.78"/>
<circle cx="510.2" cy="554.4" r="1.35" fill="#2a2a2a" fill-opacity="0.78"/>
<circle cx="509.4" cy="536.9" r="1.35" fill="#2a2a2a" fill-opacity="0.78"/>
<circle cx="506.7" cy="555.2" r="1.35" fill="#2a2a2a" fill-opacity="0.78"/>
<circle cx="513.4" cy="558.2" r="1.35" fill="#2a2a2a" fill-opacity="0.78"/>
<circle cx="507.4" cy="550.5" r="1.35" fill="#2a2a2a" fill-opacity="0.78"/>
<circle cx="513.1" cy="558.9" r="1.35" fill="#2a2a2a" fill-opacity="0.78"/>
<circle cx="511.9" cy="552.8" r="1.35" fill="#2a2a2a" fill-opacity="0.78"/>
<circle cx="510.2" cy="563.7" r="1.35" fill="#2a2a2a" fill-opacity="0.78"/>
<circle cx="507.4" cy="554.5" r="1.35" fill="#2a2a2a" fill-opacity="0.78"/>
<circle cx="507.2" cy="555.2" r="1.35" fill="#2a2a2a" fill-opacity="0.78"/>
<circle cx="506.3" cy="548.1" r="1.35" fill="#2a2a2a" fill-opacity="0.78"/>
<circle cx="502.3" cy="577.0" r="1.35" fill="#2a2a2a" fill-opacity="0.78"/>
<circle cx="504.9" cy="551.6" r="1.35" fill="#2a2a2a" fill-opacity="0.78"/>
<circle cx="505.9" cy="536.9" r="1.35" fill="#2a2a2a" fill-opacity="0.78"/>
<circle cx="509.6" cy="550.7" r="1.35" fill="#2a2a2a" fill-opacity="0.78"/>
<circle cx="509.2" cy="525.5" r="1.35" fill="#2a2a2a" fill-opacity="0.78"/>
<circle cx="513.8" cy="579.1" r="1.35" fill="#2a2a2a" fill-opacity="0.78"/>
<circle cx="515.4" cy="523.5" r="1.35" fill="#2a2a2a" fill-opacity="0.78"/>
<circle cx="508.1" cy="552.2" r="1.35" fill="#2a2a2a" fill-opacity="0.78"/>
<circle cx="509.7" cy="548.0" r="1.35" fill="#2a2a2a" fill-opacity="0.78"/>
<circle cx="509.5" cy="553.7" r="1.35" fill="#2a2a2a" fill-opacity="0.78"/>
<circle cx="515.6" cy="569.9" r="1.35" fill="#2a2a2a" fill-opacity="0.78"/>
<circle cx="508.7" cy="567.0" r="1.35" fill="#2a2a2a" fill-opacity="0.78"/>
<circle cx="502.9" cy="556.8" r="1.35" fill="#2a2a2a" fill-opacity="0.78"/>
<circle cx="507.2" cy="549.9" r="1.35" fill="#2a2a2a" fill-opacity="0.78"/>
<circle cx="541.8" cy="519.2" r="1.35" fill="#2a2a2a" fill-opacity="0.78"/>
<circle cx="535.1" cy="552.4" r="1.35" fill="#2a2a2a" fill-opacity="0.78"/>
<circle cx="536.8" cy="532.9" r="1.35" fill="#2a2a2a" fill-opacity="0.78"/>
<circle cx="544.9" cy="532.9" r="1.35" fill="#2a2a2a" fill-opacity="0.78"/>
<circle cx="538.9" cy="528.5" r="1.35" fill="#2a2a2a" fill-opacity="0.78"/>
<circle cx="540.4" cy="540.7" r="1.35" fill="#2a2a2a" fill-opacity="0.78"/>
<circle cx="543.1" cy="521.1" r="1.35" fill="#2a2a2a" fill-opacity="0.78"/>
<circle cx="543.3" cy="531.2" r="1.35" fill="#2a2a2a" fill-opacity="0.78"/>
<circle cx="541.1" cy="523.7" r="1.35" fill="#2a2a2a" fill-opacity="0.78"/>
<circle cx="544.9" cy="526.0" r="1.35" fill="#2a2a2a" fill-opacity="0.78"/>
<circle cx="544.3" cy="557.1" r="1.35" fill="#2a2a2a" fill-opacity="0.78"/>
<circle cx="538.1" cy="530.5" r="1.35" fill="#2a2a2a" fill-opacity="0.78"/>
<circle cx="538.5" cy="542.2" r="1.35" fill="#2a2a2a" fill-opacity="0.78"/>
<circle cx="542.9" cy="565.8" r="1.35" fill="#2a2a2a" fill-opacity="0.78"/>
<circle cx="536.5" cy="580.1" r="1.35" fill="#2a2a2a" fill-opacity="0.78"/>
<circle cx="541.7" cy="545.1" r="1.35" fill="#2a2a2a" fill-opacity="0.78"/>
<circle cx="547.1" cy="560.5" r="1.35" fill="#2a2a2a" fill-opacity="0.78"/>
<circle cx="540.3" cy="553.4" r="1.35" fill="#2a2a2a" fill-opacity="0.78"/>
<circle cx="536.7" cy="578.3" r="1.35" fill="#2a2a2a" fill-opacity="0.78"/>
<circle cx="539.9" cy="554.4" r="1.35" fill="#2a2a2a" fill-opacity="0.78"/>
<circle cx="545.4" cy="569.2" r="1.35" fill="#2a2a2a" fill-opacity="0.78"/>
<circle cx="543.4" cy="558.4" r="1.35" fill="#2a2a2a" fill-opacity="0.78"/>
<circle cx="534.0" cy="553.5" r="1.35" fill="#2a2a2a" fill-opacity="0.78"/>
<circle cx="540.6" cy="541.1" r="1.35" fill="#2a2a2a" fill-opacity="0.78"/>
<circle cx="538.4" cy="545.5" r="1.35" fill="#2a2a2a" fill-opacity="0.78"/>
<circle cx="540.2" cy="552.5" r="1.35" fill="#2a2a2a" fill-opacity="0.78"/>
<circle cx="542.7" cy="554.6" r="1.35" fill="#2a2a2a" fill-opacity="0.78"/>
<circle cx="534.0" cy="563.9" r="1.35" fill="#2a2a2a" fill-opacity="0.78"/>
<circle cx="540.2" cy="551.9" r="1.35" fill="#2a2a2a" fill-opacity="0.78"/>
<circle cx="545.0" cy="560.8" r="1.35" fill="#2a2a2a" fill-opacity="0.78"/>
<circle cx="537.0" cy="522.1" r="1.35" fill="#2a2a2a" fill-opacity="0.78"/>
<circle cx="542.3" cy="559.1" r="1.35" fill="#2a2a2a" fill-opacity="0.78"/>
<circle cx="541.5" cy="541.0" r="1.35" fill="#2a2a2a" fill-opacity="0.78"/>
<circle cx="535.4" cy="545.8" r="1.35" fill="#2a2a2a" fill-opacity="0.78"/>
<circle cx="542.5" cy="531.9" r="1.35" fill="#2a2a2a" fill-opacity="0.78"/>
<circle cx="536.5" cy="546.0" r="1.35" fill="#2a2a2a" fill-opacity="0.78"/>
<circle cx="538.3" cy="544.1" r="1.35" fill="#2a2a2a" fill-opacity="0.78"/>
<circle cx="540.0" cy="549.8" r="1.35" fill="#2a2a2a" fill-opacity="0.78"/>
<circle cx="542.8" cy="553.9" r="1.35" fill="#2a2a2a" fill-opacity="0.78"/>
<circle cx="542.5" cy="579.8" r="1.35" fill="#2a2a2a" fill-opacity="0.78"/>
<circle cx="583.2" cy="524.0" r="1.35" fill="#2a2a2a" fill-opacity="0.78"/>
<circle cx="578.5" cy="584.1" r="1.35" fill="#2a2a2a" fill-opacity="0.78"/>
<circle cx="579.2" cy="575.1" r="1.35" fill="#2a2a2a" fill-opacity="0.78"/>
<circle cx="581.8" cy="548.3" r="1.35" fill="#2a2a2a" fill-opacity="0.78"/>
<circle cx="583.1" cy="523.7" r="1.35" fill="#2a2a2a" fill-opacity="0.78"/>
<circle cx="585.8" cy="569.4" r="1.35" fill="#2a2a2a" fill-opacity="0.78"/>
<circle cx="585.9" cy="513.4" r="1.35" fill="#2a2a2a" fill-opacity="0.78"/>
<circle cx="587.4" cy="586.4" r="1.35" fill="#2a2a2a" fill-opacity="0.78"/>
<circle cx="587.1" cy="560.0" r="1.35" fill="#2a2a2a" fill-opacity="0.78"/>
<circle cx="580.1" cy="553.4" r="1.35" fill="#2a2a2a" fill-opacity="0.78"/>
<circle cx="585.3" cy="543.5" r="1.35" fill="#2a2a2a" fill-opacity="0.78"/>
<circle cx="585.4" cy="555.2" r="1.35" fill="#2a2a2a" fill-opacity="0.78"/>
<circle cx="589.2" cy="551.6" r="1.35" fill="#2a2a2a" fill-opacity="0.78"/>
<circle cx="585.8" cy="557.1" r="1.35" fill="#2a2a2a" fill-opacity="0.78"/>
<circle cx="581.0" cy="581.6" r="1.35" fill="#2a2a2a" fill-opacity="0.78"/>
<circle cx="579.5" cy="520.2" r="1.35" fill="#2a2a2a" fill-opacity="0.78"/>
<circle cx="586.9" cy="558.0" r="1.35" fill="#2a2a2a" fill-opacity="0.78"/>
<circle cx="582.9" cy="553.7" r="1.35" fill="#2a2a2a" fill-opacity="0.78"/>
<circle cx="585.9" cy="512.8" r="1.35" fill="#2a2a2a" fill-opacity="0.78"/>
<circle cx="586.6" cy="553.0" r="1.35" fill="#2a2a2a" fill-opacity="0.78"/>
<circle cx="589.7" cy="541.6" r="1.35" fill="#2a2a2a" fill-opacity="0.78"/>
<circle cx="582.5" cy="548.3" r="1.35" fill="#2a2a2a" fill-opacity="0.78"/>
<circle cx="587.6" cy="577.5" r="1.35" fill="#2a2a2a" fill-opacity="0.78"/>
<circle cx="587.0" cy="561.0" r="1.35" fill="#2a2a2a" fill-opacity="0.78"/>
<circle cx="584.5" cy="545.5" r="1.35" fill="#2a2a2a" fill-opacity="0.78"/>
<circle cx="585.6" cy="547.4" r="1.35" fill="#2a2a2a" fill-opacity="0.78"/>
<circle cx="582.4" cy="548.1" r="1.35" fill="#2a2a2a" fill-opacity="0.78"/>
<circle cx="581.8" cy="563.0" r="1.35" fill="#2a2a2a" fill-opacity="0.78"/>
<circle cx="584.9" cy="560.6" r="1.35" fill="#2a2a2a" fill-opacity="0.78"/>
<circle cx="578.4" cy="536.4" r="1.35" fill="#2a2a2a" fill-opacity="0.78"/>
<circle cx="591.0" cy="573.5" r="1.35" fill="#2a2a2a" fill-opacity="0.78"/>
<circle cx="580.3" cy="546.1" r="1.35" fill="#2a2a2a" fill-opacity="0.78"/>
<circle cx="583.0" cy="580.8" r="1.35" fill="#2a2a2a" fill-opacity="0.78"/>
<circle cx="588.5" cy="565.6" r="1.35" fill="#2a2a2a" fill-opacity="0.78"/>
<circle cx="583.6" cy="548.6" r="1.35" fill="#2a2a2a" fill-opacity="0.78"/>
<circle cx="583.7" cy="576.7" r="1.35" fill="#2a2a2a" fill-opacity="0.78"/>
<circle cx="579.2" cy="559.7" r="1.35" fill="#2a2a2a" fill-opacity="0.78"/>
<circle cx="580.3" cy="557.2" r="1.35" fill="#2a2a2a" fill-opacity="0.78"/>
<circle cx="583.1" cy="542.6" r="1.35" fill="#2a2a2a" fill-opacity="0.78"/>
<circle cx="585.2" cy="568.6" r="1.35" fill="#2a2a2a" fill-opacity="0.78"/>
<circle cx="614.7" cy="556.4" r="1.35" fill="#2a2a2a" fill-opacity="0.78"/>
<circle cx="623.4" cy="558.3" r="1.35" fill="#2a2a2a" fill-opacity="0.78"/>
<circle cx="616.5" cy="581.8" r="1.35" fill="#2a2a2a" fill-opacity="0.78"/>
<circle cx="616.7" cy="555.1" r="1.35" fill="#2a2a2a" fill-opacity="0.78"/>
<circle cx="613.6" cy="558.9" r="1.35" fill="#2a2a2a" fill-opacity="0.78"/>
<circle cx="613.3" cy="516.1" r="1.35" fill="#2a2a2a" fill-opacity="0.78"/>
<circle cx="619.3" cy="526.7" r="1.35" fill="#2a2a2a" fill-opacity="0.78"/>
<circle cx="616.4" cy="577.4" r="1.35" fill="#2a2a2a" fill-opacity="0.78"/>
<circle cx="615.0" cy="583.1" r="1.35" fill="#2a2a2a" fill-opacity="0.78"/>
<circle cx="617.6" cy="568.1" r="1.35" fill="#2a2a2a" fill-opacity="0.78"/>
<circle cx="615.2" cy="591.2" r="1.35" fill="#2a2a2a" fill-opacity="0.78"/>
<circle cx="615.6" cy="567.5" r="1.35" fill="#2a2a2a" fill-opacity="0.78"/>
<circle cx="612.2" cy="556.3" r="1.35" fill="#2a2a2a" fill-opacity="0.78"/>
<circle cx="617.5" cy="587.7" r="1.35" fill="#2a2a2a" fill-opacity="0.78"/>
<circle cx="615.9" cy="537.9" r="1.35" fill="#2a2a2a" fill-opacity="0.78"/>
<circle cx="620.9" cy="549.4" r="1.35" fill="#2a2a2a" fill-opacity="0.78"/>
<circle cx="612.8" cy="523.9" r="1.35" fill="#2a2a2a" fill-opacity="0.78"/>
<circle cx="620.8" cy="568.0" r="1.35" fill="#2a2a2a" fill-opacity="0.78"/>
<circle cx="619.3" cy="528.8" r="1.35" fill="#2a2a2a" fill-opacity="0.78"/>
<circle cx="618.0" cy="584.8" r="1.35" fill="#2a2a2a" fill-opacity="0.78"/>
<circle cx="614.9" cy="549.9" r="1.35" fill="#2a2a2a" fill-opacity="0.78"/>
<circle cx="623.4" cy="556.9" r="1.35" fill="#2a2a2a" fill-opacity="0.78"/>
<circle cx="616.0" cy="580.3" r="1.35" fill="#2a2a2a" fill-opacity="0.78"/>
<circle cx="619.2" cy="538.0" r="1.35" fill="#2a2a2a" fill-opacity="0.78"/>
<circle cx="618.2" cy="547.0" r="1.35" fill="#2a2a2a" fill-opacity="0.78"/>
<circle cx="616.4" cy="568.2" r="1.35" fill="#2a2a2a" fill-opacity="0.78"/>
<circle cx="617.7" cy="526.8" r="1.35" fill="#2a2a2a" fill-opacity="0.78"/>
<circle cx="614.6" cy="573.4" r="1.35" fill="#2a2a2a" fill-opacity="0.78"/>
<circle cx="617.2" cy="555.9" r="1.35" fill="#2a2a2a" fill-opacity="0.78"/>
<circle cx="613.0" cy="531.2" r="1.35" fill="#2a2a2a" fill-opacity="0.78"/>
<circle cx="616.2" cy="561.8" r="1.35" fill="#2a2a2a" fill-opacity="0.78"/>
<circle cx="615.2" cy="557.5" r="1.35" fill="#2a2a2a" fill-opacity="0.78"/>
<circle cx="619.1" cy="549.9" r="1.35" fill="#2a2a2a" fill-opacity="0.78"/>
<circle cx="611.4" cy="562.6" r="1.35" fill="#2a2a2a" fill-opacity="0.78"/>
<circle cx="614.6" cy="556.6" r="1.35" fill="#2a2a2a" fill-opacity="0.78"/>
<circle cx="618.7" cy="554.9" r="1.35" fill="#2a2a2a" fill-opacity="0.78"/>
<circle cx="618.1" cy="534.5" r="1.35" fill="#2a2a2a" fill-opacity="0.78"/>
<circle cx="609.9" cy="546.0" r="1.35" fill="#2a2a2a" fill-opacity="0.78"/>
<circle cx="614.7" cy="548.6" r="1.35" fill="#2a2a2a" fill-opacity="0.78"/>
<circle cx="617.4" cy="523.8" r="1.35" fill="#2a2a2a" fill-opacity="0.78"/>
<circle cx="649.5" cy="543.2" r="1.35" fill="#2a2a2a" fill-opacity="0.78"/>
<circle cx="653.2" cy="584.0" r="1.35" fill="#2a2a2a" fill-opacity="0.78"/>
<circle cx="644.2" cy="557.9" r="1.35" fill="#2a2a2a" fill-opacity="0.78"/>
<circle cx="645.8" cy="590.9" r="1.35" fill="#2a2a2a" fill-opacity="0.78"/>
<circle cx="645.1" cy="551.0" r="1.35" fill="#2a2a2a" fill-opacity="0.78"/>
<circle cx="645.4" cy="554.3" r="1.35" fill="#2a2a2a" fill-opacity="0.78"/>
<circle cx="645.1" cy="544.6" r="1.35" fill="#2a2a2a" fill-opacity="0.78"/>
<circle cx="651.3" cy="553.7" r="1.35" fill="#2a2a2a" fill-opacity="0.78"/>
<circle cx="650.6" cy="581.6" r="1.35" fill="#2a2a2a" fill-opacity="0.78"/>
<circle cx="645.1" cy="576.0" r="1.35" fill="#2a2a2a" fill-opacity="0.78"/>
<circle cx="653.4" cy="566.1" r="1.35" fill="#2a2a2a" fill-opacity="0.78"/>
<circle cx="651.8" cy="532.2" r="1.35" fill="#2a2a2a" fill-opacity="0.78"/>
<circle cx="649.3" cy="579.8" r="1.35" fill="#2a2a2a" fill-opacity="0.78"/>
<circle cx="644.4" cy="572.4" r="1.35" fill="#2a2a2a" fill-opacity="0.78"/>
<circle cx="646.0" cy="563.5" r="1.35" fill="#2a2a2a" fill-opacity="0.78"/>
<circle cx="648.1" cy="555.4" r="1.35" fill="#2a2a2a" fill-opacity="0.78"/>
<circle cx="651.0" cy="504.6" r="1.35" fill="#2a2a2a" fill-opacity="0.78"/>
<circle cx="654.4" cy="560.8" r="1.35" fill="#2a2a2a" fill-opacity="0.78"/>
<circle cx="648.3" cy="536.3" r="1.35" fill="#2a2a2a" fill-opacity="0.78"/>
<circle cx="652.7" cy="560.9" r="1.35" fill="#2a2a2a" fill-opacity="0.78"/>
<circle cx="649.1" cy="549.7" r="1.35" fill="#2a2a2a" fill-opacity="0.78"/>
<circle cx="646.4" cy="552.6" r="1.35" fill="#2a2a2a" fill-opacity="0.78"/>
<circle cx="649.1" cy="549.8" r="1.35" fill="#2a2a2a" fill-opacity="0.78"/>
<circle cx="650.2" cy="580.5" r="1.35" fill="#2a2a2a" fill-opacity="0.78"/>
<circle cx="647.8" cy="559.2" r="1.35" fill="#2a2a2a" fill-opacity="0.78"/>
<circle cx="643.6" cy="550.1" r="1.35" fill="#2a2a2a" fill-opacity="0.78"/>
<circle cx="641.8" cy="577.7" r="1.35" fill="#2a2a2a" fill-opacity="0.78"/>
<circle cx="655.2" cy="557.4" r="1.35" fill="#2a2a2a" fill-opacity="0.78"/>
<circle cx="646.0" cy="576.0" r="1.35" fill="#2a2a2a" fill-opacity="0.78"/>
<circle cx="644.9" cy="574.8" r="1.35" fill="#2a2a2a" fill-opacity="0.78"/>
<circle cx="650.7" cy="572.2" r="1.35" fill="#2a2a2a" fill-opacity="0.78"/>
<circle cx="652.3" cy="553.8" r="1.35" fill="#2a2a2a" fill-opacity="0.78"/>
<circle cx="644.9" cy="559.9" r="1.35" fill="#2a2a2a" fill-opacity="0.78"/>
<circle cx="646.7" cy="565.2" r="1.35" fill="#2a2a2a" fill-opacity="0.78"/>
<circle cx="642.3" cy="559.9" r="1.35" fill="#2a2a2a" fill-opacity="0.78"/>
<circle cx="651.6" cy="558.8" r="1.35" fill="#2a2a2a" fill-opacity="0.78"/>
<circle cx="648.9" cy="551.0" r="1.35" fill="#2a2a2a" fill-opacity="0.78"/>
<circle cx="644.4" cy="540.8" r="1.35" fill="#2a2a2a" fill-opacity="0.78"/>
<circle cx="642.8" cy="551.9" r="1.35" fill="#2a2a2a" fill-opacity="0.78"/>
<circle cx="648.0" cy="558.1" r="1.35" fill="#2a2a2a" fill-opacity="0.78"/>
<circle cx="674.0" cy="580.0" r="1.35" fill="#2a2a2a" fill-opacity="0.78"/>
<circle cx="676.1" cy="540.1" r="1.35" fill="#2a2a2a" fill-opacity="0.78"/>
<circle cx="680.4" cy="587.7" r="1.35" fill="#2a2a2a" fill-opacity="0.78"/>
<circle cx="679.4" cy="549.4" r="1.35" fill="#2a2a2a" fill-opacity="0.78"/>
<circle cx="675.2" cy="563.9" r="1.35" fill="#2a2a2a" fill-opacity="0.78"/>
<circle cx="683.8" cy="570.7" r="1.35" fill="#2a2a2a" fill-opacity="0.78"/>
<circle cx="685.0" cy="508.1" r="1.35" fill="#2a2a2a" fill-opacity="0.78"/>
<circle cx="685.0" cy="572.0" r="1.35" fill="#2a2a2a" fill-opacity="0.78"/>
<circle cx="674.2" cy="561.2" r="1.35" fill="#2a2a2a" fill-opacity="0.78"/>
<circle cx="677.9" cy="544.8" r="1.35" fill="#2a2a2a" fill-opacity="0.78"/>
<circle cx="682.2" cy="563.8" r="1.35" fill="#2a2a2a" fill-opacity="0.78"/>
<circle cx="687.8" cy="564.9" r="1.35" fill="#2a2a2a" fill-opacity="0.78"/>
<circle cx="682.5" cy="561.6" r="1.35" fill="#2a2a2a" fill-opacity="0.78"/>
<circle cx="678.2" cy="574.7" r="1.35" fill="#2a2a2a" fill-opacity="0.78"/>
<circle cx="679.2" cy="563.7" r="1.35" fill="#2a2a2a" fill-opacity="0.78"/>
<circle cx="683.0" cy="563.0" r="1.35" fill="#2a2a2a" fill-opacity="0.78"/>
<circle cx="681.5" cy="563.3" r="1.35" fill="#2a2a2a" fill-opacity="0.78"/>
<circle cx="678.7" cy="549.3" r="1.35" fill="#2a2a2a" fill-opacity="0.78"/>
<circle cx="683.3" cy="588.4" r="1.35" fill="#2a2a2a" fill-opacity="0.78"/>
<circle cx="677.5" cy="562.0" r="1.35" fill="#2a2a2a" fill-opacity="0.78"/>
<circle cx="685.4" cy="514.0" r="1.35" fill="#2a2a2a" fill-opacity="0.78"/>
<circle cx="677.0" cy="553.6" r="1.35" fill="#2a2a2a" fill-opacity="0.78"/>
<circle cx="682.1" cy="526.2" r="1.35" fill="#2a2a2a" fill-opacity="0.78"/>
<circle cx="680.1" cy="541.9" r="1.35" fill="#2a2a2a" fill-opacity="0.78"/>
<circle cx="679.1" cy="551.7" r="1.35" fill="#2a2a2a" fill-opacity="0.78"/>
<circle cx="687.2" cy="568.5" r="1.35" fill="#2a2a2a" fill-opacity="0.78"/>
<circle cx="675.2" cy="525.0" r="1.35" fill="#2a2a2a" fill-opacity="0.78"/>
<circle cx="684.8" cy="529.9" r="1.35" fill="#2a2a2a" fill-opacity="0.78"/>
<circle cx="679.9" cy="536.7" r="1.35" fill="#2a2a2a" fill-opacity="0.78"/>
<circle cx="677.9" cy="518.0" r="1.35" fill="#2a2a2a" fill-opacity="0.78"/>
<circle cx="679.6" cy="540.0" r="1.35" fill="#2a2a2a" fill-opacity="0.78"/>
<circle cx="680.7" cy="552.9" r="1.35" fill="#2a2a2a" fill-opacity="0.78"/>
<circle cx="688.0" cy="553.9" r="1.35" fill="#2a2a2a" fill-opacity="0.78"/>
<circle cx="683.5" cy="576.4" r="1.35" fill="#2a2a2a" fill-opacity="0.78"/>
<circle cx="678.0" cy="552.9" r="1.35" fill="#2a2a2a" fill-opacity="0.78"/>
<circle cx="677.5" cy="553.3" r="1.35" fill="#2a2a2a" fill-opacity="0.78"/>
<circle cx="682.2" cy="571.4" r="1.35" fill="#2a2a2a" fill-opacity="0.78"/>
<circle cx="679.3" cy="550.5" r="1.35" fill="#2a2a2a" fill-opacity="0.78"/>
<circle cx="677.5" cy="554.4" r="1.35" fill="#2a2a2a" fill-opacity="0.78"/>
<circle cx="680.2" cy="556.7" r="1.35" fill="#2a2a2a" fill-opacity="0.78"/>
<circle cx="712.8" cy="543.1" r="1.35" fill="#2a2a2a" fill-opacity="0.78"/>
<circle cx="714.0" cy="517.4" r="1.35" fill="#2a2a2a" fill-opacity="0.78"/>
<circle cx="706.4" cy="523.1" r="1.35" fill="#2a2a2a" fill-opacity="0.78"/>
<circle cx="713.1" cy="504.5" r="1.35" fill="#2a2a2a" fill-opacity="0.78"/>
<circle cx="711.2" cy="550.9" r="1.35" fill="#2a2a2a" fill-opacity="0.78"/>
<circle cx="706.4" cy="557.5" r="1.35" fill="#2a2a2a" fill-opacity="0.78"/>
<circle cx="710.9" cy="548.1" r="1.35" fill="#2a2a2a" fill-opacity="0.78"/>
<circle cx="710.8" cy="550.7" r="1.35" fill="#2a2a2a" fill-opacity="0.78"/>
<circle cx="709.9" cy="564.4" r="1.35" fill="#2a2a2a" fill-opacity="0.78"/>
<circle cx="710.9" cy="554.8" r="1.35" fill="#2a2a2a" fill-opacity="0.78"/>
<circle cx="712.5" cy="562.6" r="1.35" fill="#2a2a2a" fill-opacity="0.78"/>
<circle cx="718.9" cy="549.8" r="1.35" fill="#2a2a2a" fill-opacity="0.78"/>
<circle cx="709.9" cy="565.8" r="1.35" fill="#2a2a2a" fill-opacity="0.78"/>
<circle cx="715.2" cy="511.0" r="1.35" fill="#2a2a2a" fill-opacity="0.78"/>
<circle cx="716.5" cy="565.4" r="1.35" fill="#2a2a2a" fill-opacity="0.78"/>
<circle cx="709.1" cy="567.4" r="1.35" fill="#2a2a2a" fill-opacity="0.78"/>
<circle cx="712.2" cy="558.5" r="1.35" fill="#2a2a2a" fill-opacity="0.78"/>
<circle cx="717.4" cy="562.2" r="1.35" fill="#2a2a2a" fill-opacity="0.78"/>
<circle cx="710.5" cy="554.7" r="1.35" fill="#2a2a2a" fill-opacity="0.78"/>
<circle cx="708.7" cy="553.5" r="1.35" fill="#2a2a2a" fill-opacity="0.78"/>
<circle cx="713.3" cy="565.7" r="1.35" fill="#2a2a2a" fill-opacity="0.78"/>
<circle cx="712.3" cy="545.6" r="1.35" fill="#2a2a2a" fill-opacity="0.78"/>
<circle cx="708.6" cy="546.5" r="1.35" fill="#2a2a2a" fill-opacity="0.78"/>
<circle cx="714.8" cy="547.6" r="1.35" fill="#2a2a2a" fill-opacity="0.78"/>
<circle cx="715.8" cy="544.7" r="1.35" fill="#2a2a2a" fill-opacity="0.78"/>
<circle cx="710.4" cy="539.9" r="1.35" fill="#2a2a2a" fill-opacity="0.78"/>
<circle cx="709.7" cy="557.1" r="1.35" fill="#2a2a2a" fill-opacity="0.78"/>
<circle cx="714.9" cy="547.6" r="1.35" fill="#2a2a2a" fill-opacity="0.78"/>
<circle cx="718.7" cy="565.5" r="1.35" fill="#2a2a2a" fill-opacity="0.78"/>
<circle cx="713.7" cy="549.7" r="1.35" fill="#2a2a2a" fill-opacity="0.78"/>
<circle cx="715.1" cy="529.9" r="1.35" fill="#2a2a2a" fill-opacity="0.78"/>
<circle cx="709.4" cy="547.3" r="1.35" fill="#2a2a2a" fill-opacity="0.78"/>
<circle cx="712.5" cy="535.1" r="1.35" fill="#2a2a2a" fill-opacity="0.78"/>
<circle cx="711.7" cy="562.8" r="1.35" fill="#2a2a2a" fill-opacity="0.78"/>
<circle cx="707.4" cy="547.6" r="1.35" fill="#2a2a2a" fill-opacity="0.78"/>
<circle cx="708.6" cy="543.1" r="1.35" fill="#2a2a2a" fill-opacity="0.78"/>
<circle cx="714.9" cy="550.1" r="1.35" fill="#2a2a2a" fill-opacity="0.78"/>
<circle cx="706.4" cy="546.4" r="1.35" fill="#2a2a2a" fill-opacity="0.78"/>
<circle cx="715.1" cy="544.5" r="1.35" fill="#2a2a2a" fill-opacity="0.78"/>
<circle cx="712.4" cy="530.2" r="1.35" fill="#2a2a2a" fill-opacity="0.78"/>
<circle cx="635.7" cy="56.5" r="1.0" fill="#222" fill-opacity="1"/>
<circle cx="215.5" cy="475.5" r="0.9" fill="#222" fill-opacity="1"/>
</svg></body></html>
